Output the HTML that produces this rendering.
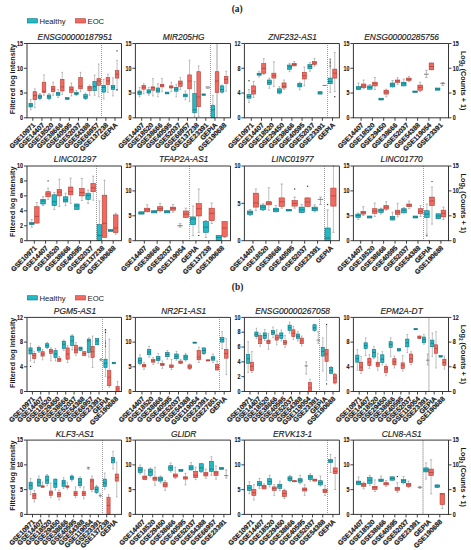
<!DOCTYPE html><html><head><meta charset="utf-8"><style>
html,body{margin:0;padding:0;background:#fff;overflow:hidden;width:471px;height:550px;}svg{display:block;}
text{font-family:"Liberation Sans",sans-serif;fill:#1a1a1a;}
.tk{font-size:6.3px;font-weight:bold;stroke:#1a1a1a;stroke-width:0.12px;}
.xl{font-size:6.8px;font-weight:bold;stroke:#1a1a1a;stroke-width:0.2px;}
.tt{font-size:8.35px;font-style:italic;stroke:#1a1a1a;stroke-width:0.15px;}
.ax{font-size:7.2px;font-weight:bold;}
.lg{font-size:7.7px;}
.pl{font-family:"Liberation Serif",serif;font-size:9.4px;font-weight:bold;}
</style></head><body>
<svg width="471" height="550" viewBox="0 0 471 550">
<rect width="471" height="550" fill="#fff"/>
<text x="237.2" y="11.5" class="pl" text-anchor="middle">(a)</text>
<text x="237.6" y="289.8" class="pl" text-anchor="middle">(b)</text>
<rect x="27.3" y="18.7" width="10.2" height="4.3" fill="#22b8c4" stroke="#107680" stroke-width="0.6"/>
<text x="39.5" y="23.6" class="lg">Healthy</text>
<rect x="75.4" y="18.7" width="10.2" height="4.3" fill="#f2695f" stroke="#b04038" stroke-width="0.6"/>
<text x="87.5" y="23.6" class="lg">EOC</text>
<rect x="27.3" y="295.7" width="10.2" height="4.3" fill="#22b8c4" stroke="#107680" stroke-width="0.6"/>
<text x="39.5" y="300.6" class="lg">Healthy</text>
<rect x="75.4" y="295.7" width="10.2" height="4.3" fill="#f2695f" stroke="#b04038" stroke-width="0.6"/>
<text x="87.5" y="300.6" class="lg">EOC</text>
<line x1="101.5" y1="43" x2="101.5" y2="117.8" stroke="#7a7a7a" stroke-width="0.75" stroke-dasharray="1,1"/>
<line x1="30.74" y1="99.7" x2="30.74" y2="109.9" stroke="#8c8c8c" stroke-width="0.55"/>
<line x1="29.84" y1="99.7" x2="31.65" y2="99.7" stroke="#8c8c8c" stroke-width="0.55"/>
<line x1="29.84" y1="109.9" x2="31.65" y2="109.9" stroke="#8c8c8c" stroke-width="0.55"/>
<rect x="28.94" y="103.3" width="3.61" height="3.7" fill="#22b8c4" stroke="#107680" stroke-width="0.6"/>
<line x1="28.94" y1="105.2" x2="32.55" y2="105.2" stroke="#0f5f66" stroke-width="0.6"/>
<line x1="34.85" y1="88.8" x2="34.85" y2="107.7" stroke="#8c8c8c" stroke-width="0.55"/>
<line x1="33.95" y1="88.8" x2="35.76" y2="88.8" stroke="#8c8c8c" stroke-width="0.55"/>
<line x1="33.95" y1="107.7" x2="35.76" y2="107.7" stroke="#8c8c8c" stroke-width="0.55"/>
<rect x="33.05" y="91.7" width="3.61" height="8" fill="#f2695f" stroke="#b04038" stroke-width="0.6"/>
<line x1="33.05" y1="95.6" x2="36.66" y2="95.6" stroke="#9a362f" stroke-width="0.6"/>
<line x1="39.88" y1="93.6" x2="39.88" y2="99.7" stroke="#8c8c8c" stroke-width="0.55"/>
<line x1="38.97" y1="93.6" x2="40.78" y2="93.6" stroke="#8c8c8c" stroke-width="0.55"/>
<line x1="38.97" y1="99.7" x2="40.78" y2="99.7" stroke="#8c8c8c" stroke-width="0.55"/>
<rect x="38.07" y="95" width="3.61" height="3.5" fill="#22b8c4" stroke="#107680" stroke-width="0.6"/>
<line x1="38.07" y1="96.8" x2="41.68" y2="96.8" stroke="#0f5f66" stroke-width="0.6"/>
<line x1="43.99" y1="74.9" x2="43.99" y2="95.3" stroke="#8c8c8c" stroke-width="0.55"/>
<line x1="43.08" y1="74.9" x2="44.89" y2="74.9" stroke="#8c8c8c" stroke-width="0.55"/>
<line x1="43.08" y1="95.3" x2="44.89" y2="95.3" stroke="#8c8c8c" stroke-width="0.55"/>
<rect x="42.18" y="82.2" width="3.61" height="10.2" fill="#f2695f" stroke="#b04038" stroke-width="0.6"/>
<line x1="42.18" y1="91.2" x2="45.79" y2="91.2" stroke="#9a362f" stroke-width="0.6"/>
<line x1="49.01" y1="93.6" x2="49.01" y2="99.7" stroke="#8c8c8c" stroke-width="0.55"/>
<line x1="48.11" y1="93.6" x2="49.92" y2="93.6" stroke="#8c8c8c" stroke-width="0.55"/>
<line x1="48.11" y1="99.7" x2="49.92" y2="99.7" stroke="#8c8c8c" stroke-width="0.55"/>
<rect x="47.21" y="95" width="3.61" height="3.5" fill="#22b8c4" stroke="#107680" stroke-width="0.6"/>
<line x1="47.21" y1="96.8" x2="50.82" y2="96.8" stroke="#0f5f66" stroke-width="0.6"/>
<line x1="53.12" y1="82.2" x2="53.12" y2="95.3" stroke="#8c8c8c" stroke-width="0.55"/>
<line x1="52.22" y1="82.2" x2="54.03" y2="82.2" stroke="#8c8c8c" stroke-width="0.55"/>
<line x1="52.22" y1="95.3" x2="54.03" y2="95.3" stroke="#8c8c8c" stroke-width="0.55"/>
<rect x="51.32" y="86.3" width="3.61" height="5.4" fill="#f2695f" stroke="#b04038" stroke-width="0.6"/>
<line x1="51.32" y1="89.2" x2="54.93" y2="89.2" stroke="#9a362f" stroke-width="0.6"/>
<line x1="58.14" y1="89.5" x2="58.14" y2="97.5" stroke="#8c8c8c" stroke-width="0.55"/>
<line x1="57.24" y1="89.5" x2="59.05" y2="89.5" stroke="#8c8c8c" stroke-width="0.55"/>
<line x1="57.24" y1="97.5" x2="59.05" y2="97.5" stroke="#8c8c8c" stroke-width="0.55"/>
<rect x="56.34" y="92.4" width="3.61" height="2.9" fill="#22b8c4" stroke="#107680" stroke-width="0.6"/>
<line x1="56.34" y1="93.9" x2="59.95" y2="93.9" stroke="#0f5f66" stroke-width="0.6"/>
<line x1="62.25" y1="72.3" x2="62.25" y2="94.6" stroke="#8c8c8c" stroke-width="0.55"/>
<line x1="61.35" y1="72.3" x2="63.16" y2="72.3" stroke="#8c8c8c" stroke-width="0.55"/>
<line x1="61.35" y1="94.6" x2="63.16" y2="94.6" stroke="#8c8c8c" stroke-width="0.55"/>
<rect x="60.45" y="79.3" width="3.61" height="11.7" fill="#f2695f" stroke="#b04038" stroke-width="0.6"/>
<line x1="60.45" y1="86.9" x2="64.06" y2="86.9" stroke="#9a362f" stroke-width="0.6"/>
<line x1="67.28" y1="97.5" x2="67.28" y2="99.4" stroke="#8c8c8c" stroke-width="0.55"/>
<rect x="65.47" y="97.5" width="3.61" height="1.9" fill="#22b8c4" stroke="#107680" stroke-width="0.6"/>
<line x1="65.47" y1="98.5" x2="69.08" y2="98.5" stroke="#0f5f66" stroke-width="0.6"/>
<line x1="71.39" y1="83" x2="71.39" y2="96" stroke="#8c8c8c" stroke-width="0.55"/>
<line x1="70.48" y1="83" x2="72.29" y2="83" stroke="#8c8c8c" stroke-width="0.55"/>
<line x1="70.48" y1="96" x2="72.29" y2="96" stroke="#8c8c8c" stroke-width="0.55"/>
<rect x="69.58" y="86.9" width="3.61" height="5.5" fill="#f2695f" stroke="#b04038" stroke-width="0.6"/>
<line x1="69.58" y1="89.5" x2="73.19" y2="89.5" stroke="#9a362f" stroke-width="0.6"/>
<line x1="76.41" y1="90.5" x2="76.41" y2="95.5" stroke="#8c8c8c" stroke-width="0.55"/>
<line x1="75.51" y1="90.5" x2="77.32" y2="90.5" stroke="#8c8c8c" stroke-width="0.55"/>
<line x1="75.51" y1="95.5" x2="77.32" y2="95.5" stroke="#8c8c8c" stroke-width="0.55"/>
<rect x="74.61" y="92.4" width="3.61" height="2.2" fill="#22b8c4" stroke="#107680" stroke-width="0.6"/>
<line x1="74.61" y1="93.5" x2="78.22" y2="93.5" stroke="#0f5f66" stroke-width="0.6"/>
<line x1="80.52" y1="72.3" x2="80.52" y2="91.7" stroke="#8c8c8c" stroke-width="0.55"/>
<line x1="79.62" y1="72.3" x2="81.43" y2="72.3" stroke="#8c8c8c" stroke-width="0.55"/>
<line x1="79.62" y1="91.7" x2="81.43" y2="91.7" stroke="#8c8c8c" stroke-width="0.55"/>
<rect x="78.72" y="77.6" width="3.61" height="11.2" fill="#f2695f" stroke="#b04038" stroke-width="0.6"/>
<line x1="78.72" y1="86.3" x2="82.33" y2="86.3" stroke="#9a362f" stroke-width="0.6"/>
<line x1="85.55" y1="93" x2="85.55" y2="99.5" stroke="#8c8c8c" stroke-width="0.55"/>
<line x1="84.64" y1="93" x2="86.45" y2="93" stroke="#8c8c8c" stroke-width="0.55"/>
<line x1="84.64" y1="99.5" x2="86.45" y2="99.5" stroke="#8c8c8c" stroke-width="0.55"/>
<rect x="83.74" y="94.6" width="3.61" height="3.9" fill="#22b8c4" stroke="#107680" stroke-width="0.6"/>
<line x1="83.74" y1="96.8" x2="87.35" y2="96.8" stroke="#0f5f66" stroke-width="0.6"/>
<line x1="89.66" y1="85" x2="89.66" y2="95.3" stroke="#8c8c8c" stroke-width="0.55"/>
<line x1="88.75" y1="85" x2="90.56" y2="85" stroke="#8c8c8c" stroke-width="0.55"/>
<line x1="88.75" y1="95.3" x2="90.56" y2="95.3" stroke="#8c8c8c" stroke-width="0.55"/>
<rect x="87.85" y="86.3" width="3.61" height="4.4" fill="#f2695f" stroke="#b04038" stroke-width="0.6"/>
<line x1="87.85" y1="88" x2="91.46" y2="88" stroke="#9a362f" stroke-width="0.6"/>
<line x1="94.68" y1="75" x2="94.68" y2="95.3" stroke="#8c8c8c" stroke-width="0.55"/>
<line x1="93.77" y1="75" x2="95.58" y2="75" stroke="#8c8c8c" stroke-width="0.55"/>
<line x1="93.77" y1="95.3" x2="95.58" y2="95.3" stroke="#8c8c8c" stroke-width="0.55"/>
<rect x="92.87" y="81.5" width="3.61" height="9.2" fill="#22b8c4" stroke="#107680" stroke-width="0.6"/>
<line x1="92.87" y1="86.6" x2="96.48" y2="86.6" stroke="#0f5f66" stroke-width="0.6"/>
<line x1="98.79" y1="64" x2="98.79" y2="96.8" stroke="#8c8c8c" stroke-width="0.55"/>
<line x1="97.88" y1="64" x2="99.69" y2="64" stroke="#8c8c8c" stroke-width="0.55"/>
<line x1="97.88" y1="96.8" x2="99.69" y2="96.8" stroke="#8c8c8c" stroke-width="0.55"/>
<rect x="96.98" y="78.6" width="3.61" height="6.8" fill="#f2695f" stroke="#b04038" stroke-width="0.6"/>
<line x1="96.98" y1="81" x2="100.59" y2="81" stroke="#9a362f" stroke-width="0.6"/>
<line x1="103.81" y1="79.3" x2="103.81" y2="99" stroke="#8c8c8c" stroke-width="0.55"/>
<line x1="102.91" y1="79.3" x2="104.72" y2="79.3" stroke="#8c8c8c" stroke-width="0.55"/>
<line x1="102.91" y1="99" x2="104.72" y2="99" stroke="#8c8c8c" stroke-width="0.55"/>
<rect x="102.01" y="85.4" width="3.61" height="6.7" fill="#22b8c4" stroke="#107680" stroke-width="0.6"/>
<line x1="102.01" y1="87.3" x2="105.62" y2="87.3" stroke="#0f5f66" stroke-width="0.6"/>
<line x1="107.92" y1="74.2" x2="107.92" y2="92.4" stroke="#8c8c8c" stroke-width="0.55"/>
<line x1="107.02" y1="74.2" x2="108.83" y2="74.2" stroke="#8c8c8c" stroke-width="0.55"/>
<line x1="107.02" y1="92.4" x2="108.83" y2="92.4" stroke="#8c8c8c" stroke-width="0.55"/>
<rect x="106.12" y="77.6" width="3.61" height="6.8" fill="#f2695f" stroke="#b04038" stroke-width="0.6"/>
<line x1="106.12" y1="81" x2="109.73" y2="81" stroke="#9a362f" stroke-width="0.6"/>
<line x1="112.94" y1="77.8" x2="112.94" y2="96" stroke="#8c8c8c" stroke-width="0.55"/>
<line x1="112.04" y1="77.8" x2="113.85" y2="77.8" stroke="#8c8c8c" stroke-width="0.55"/>
<line x1="112.04" y1="96" x2="113.85" y2="96" stroke="#8c8c8c" stroke-width="0.55"/>
<rect x="111.14" y="85.4" width="3.61" height="4.1" fill="#22b8c4" stroke="#107680" stroke-width="0.6"/>
<line x1="111.14" y1="87.3" x2="114.75" y2="87.3" stroke="#0f5f66" stroke-width="0.6"/>
<line x1="117.05" y1="60.4" x2="117.05" y2="90.2" stroke="#8c8c8c" stroke-width="0.55"/>
<line x1="116.15" y1="60.4" x2="117.96" y2="60.4" stroke="#8c8c8c" stroke-width="0.55"/>
<line x1="116.15" y1="90.2" x2="117.96" y2="90.2" stroke="#8c8c8c" stroke-width="0.55"/>
<rect x="115.25" y="70.6" width="3.61" height="7.5" fill="#f2695f" stroke="#b04038" stroke-width="0.6"/>
<line x1="115.25" y1="74.2" x2="118.86" y2="74.2" stroke="#9a362f" stroke-width="0.6"/>
<circle cx="117.05" cy="50.9" r="0.7" fill="#333"/>
<circle cx="117.05" cy="89.7" r="0.7" fill="#333"/>
<path d="M27,117.8 V43.5 H121.5 V117.8 M26.5,117.8 H122" fill="none" stroke="#2b2b2b" stroke-width="0.95"/>
<line x1="24" y1="43.5" x2="27" y2="43.5" stroke="#2b2b2b" stroke-width="0.9"/>
<text transform="translate(23,45.75) scale(0.85,1)" class="tk" text-anchor="end">15</text>
<line x1="24" y1="68.27" x2="27" y2="68.27" stroke="#2b2b2b" stroke-width="0.9"/>
<text transform="translate(23,70.52) scale(0.85,1)" class="tk" text-anchor="end">10</text>
<line x1="24" y1="93.03" x2="27" y2="93.03" stroke="#2b2b2b" stroke-width="0.9"/>
<text transform="translate(23,95.28) scale(0.85,1)" class="tk" text-anchor="end">5</text>
<line x1="24" y1="117.8" x2="27" y2="117.8" stroke="#2b2b2b" stroke-width="0.9"/>
<text transform="translate(23,120.05) scale(0.85,1)" class="tk" text-anchor="end">0</text>
<text transform="translate(14.7,79.05) rotate(-90)" class="ax" text-anchor="middle">Filtered log intensity</text>
<line x1="32.8" y1="117.8" x2="32.8" y2="120.8" stroke="#2b2b2b" stroke-width="0.9"/>
<text transform="translate(35.7,125.6) rotate(-45)" class="xl" text-anchor="end">GSE10971</text>
<line x1="41.93" y1="117.8" x2="41.93" y2="120.8" stroke="#2b2b2b" stroke-width="0.9"/>
<text transform="translate(44.83,125.6) rotate(-45)" class="xl" text-anchor="end">GSE14407</text>
<line x1="51.07" y1="117.8" x2="51.07" y2="120.8" stroke="#2b2b2b" stroke-width="0.9"/>
<text transform="translate(53.97,125.6) rotate(-45)" class="xl" text-anchor="end">GSE18520</text>
<line x1="60.2" y1="117.8" x2="60.2" y2="120.8" stroke="#2b2b2b" stroke-width="0.9"/>
<text transform="translate(63.1,125.6) rotate(-45)" class="xl" text-anchor="end">GSE38666</text>
<line x1="69.33" y1="117.8" x2="69.33" y2="120.8" stroke="#2b2b2b" stroke-width="0.9"/>
<text transform="translate(72.23,125.6) rotate(-45)" class="xl" text-anchor="end">GSE40595</text>
<line x1="78.47" y1="117.8" x2="78.47" y2="120.8" stroke="#2b2b2b" stroke-width="0.9"/>
<text transform="translate(81.37,125.6) rotate(-45)" class="xl" text-anchor="end">GSE52037</text>
<line x1="87.6" y1="117.8" x2="87.6" y2="120.8" stroke="#2b2b2b" stroke-width="0.9"/>
<text transform="translate(90.5,125.6) rotate(-45)" class="xl" text-anchor="end">GSE54388</text>
<line x1="96.73" y1="117.8" x2="96.73" y2="120.8" stroke="#2b2b2b" stroke-width="0.9"/>
<text transform="translate(99.63,125.6) rotate(-45)" class="xl" text-anchor="end">GSE66957</text>
<line x1="105.87" y1="117.8" x2="105.87" y2="120.8" stroke="#2b2b2b" stroke-width="0.9"/>
<text transform="translate(108.77,125.6) rotate(-45)" class="xl" text-anchor="end">GSE137238</text>
<line x1="115" y1="117.8" x2="115" y2="120.8" stroke="#2b2b2b" stroke-width="0.9"/>
<text transform="translate(117.9,125.6) rotate(-45)" class="xl" text-anchor="end">GEPIA</text>
<text x="74.95" y="39.9" class="tt" text-anchor="middle">ENSG00000187951</text>
<line x1="210.5" y1="43" x2="210.5" y2="117.8" stroke="#7a7a7a" stroke-width="0.75" stroke-dasharray="1,1"/>
<line x1="139.64" y1="87.3" x2="139.64" y2="97" stroke="#8c8c8c" stroke-width="0.55"/>
<line x1="138.73" y1="87.3" x2="140.55" y2="87.3" stroke="#8c8c8c" stroke-width="0.55"/>
<line x1="138.73" y1="97" x2="140.55" y2="97" stroke="#8c8c8c" stroke-width="0.55"/>
<rect x="137.83" y="91" width="3.62" height="3.6" fill="#22b8c4" stroke="#107680" stroke-width="0.6"/>
<line x1="137.83" y1="92.7" x2="141.45" y2="92.7" stroke="#0f5f66" stroke-width="0.6"/>
<line x1="143.76" y1="83.7" x2="143.76" y2="93.9" stroke="#8c8c8c" stroke-width="0.55"/>
<line x1="142.85" y1="83.7" x2="144.67" y2="83.7" stroke="#8c8c8c" stroke-width="0.55"/>
<line x1="142.85" y1="93.9" x2="144.67" y2="93.9" stroke="#8c8c8c" stroke-width="0.55"/>
<rect x="141.95" y="85.4" width="3.62" height="3.8" fill="#f2695f" stroke="#b04038" stroke-width="0.6"/>
<line x1="141.95" y1="87.3" x2="145.57" y2="87.3" stroke="#9a362f" stroke-width="0.6"/>
<line x1="148.8" y1="87.3" x2="148.8" y2="95.3" stroke="#8c8c8c" stroke-width="0.55"/>
<line x1="147.89" y1="87.3" x2="149.7" y2="87.3" stroke="#8c8c8c" stroke-width="0.55"/>
<line x1="147.89" y1="95.3" x2="149.7" y2="95.3" stroke="#8c8c8c" stroke-width="0.55"/>
<rect x="146.99" y="89.8" width="3.62" height="3.3" fill="#22b8c4" stroke="#107680" stroke-width="0.6"/>
<line x1="146.99" y1="91.7" x2="150.61" y2="91.7" stroke="#0f5f66" stroke-width="0.6"/>
<line x1="152.92" y1="78.6" x2="152.92" y2="96" stroke="#8c8c8c" stroke-width="0.55"/>
<line x1="152.01" y1="78.6" x2="153.82" y2="78.6" stroke="#8c8c8c" stroke-width="0.55"/>
<line x1="152.01" y1="96" x2="153.82" y2="96" stroke="#8c8c8c" stroke-width="0.55"/>
<rect x="151.11" y="86.9" width="3.62" height="3.3" fill="#f2695f" stroke="#b04038" stroke-width="0.6"/>
<line x1="151.11" y1="87.7" x2="154.73" y2="87.7" stroke="#9a362f" stroke-width="0.6"/>
<line x1="157.95" y1="83.7" x2="157.95" y2="96.8" stroke="#8c8c8c" stroke-width="0.55"/>
<line x1="157.04" y1="83.7" x2="158.86" y2="83.7" stroke="#8c8c8c" stroke-width="0.55"/>
<line x1="157.04" y1="96.8" x2="158.86" y2="96.8" stroke="#8c8c8c" stroke-width="0.55"/>
<rect x="156.14" y="88" width="3.62" height="4.1" fill="#22b8c4" stroke="#107680" stroke-width="0.6"/>
<line x1="156.14" y1="90.2" x2="159.76" y2="90.2" stroke="#0f5f66" stroke-width="0.6"/>
<line x1="162.07" y1="78.6" x2="162.07" y2="91.7" stroke="#8c8c8c" stroke-width="0.55"/>
<line x1="161.16" y1="78.6" x2="162.98" y2="78.6" stroke="#8c8c8c" stroke-width="0.55"/>
<line x1="161.16" y1="91.7" x2="162.98" y2="91.7" stroke="#8c8c8c" stroke-width="0.55"/>
<rect x="160.26" y="84.4" width="3.62" height="2.5" fill="#f2695f" stroke="#b04038" stroke-width="0.6"/>
<line x1="160.26" y1="85.4" x2="163.88" y2="85.4" stroke="#9a362f" stroke-width="0.6"/>
<line x1="167.11" y1="92.1" x2="167.11" y2="93.9" stroke="#8c8c8c" stroke-width="0.55"/>
<rect x="165.3" y="92.1" width="3.62" height="1.8" fill="#22b8c4" stroke="#107680" stroke-width="0.6"/>
<line x1="165.3" y1="93" x2="168.92" y2="93" stroke="#0f5f66" stroke-width="0.6"/>
<line x1="171.23" y1="82.2" x2="171.23" y2="91.7" stroke="#8c8c8c" stroke-width="0.55"/>
<line x1="170.32" y1="82.2" x2="172.13" y2="82.2" stroke="#8c8c8c" stroke-width="0.55"/>
<line x1="170.32" y1="91.7" x2="172.13" y2="91.7" stroke="#8c8c8c" stroke-width="0.55"/>
<rect x="169.42" y="85.9" width="3.62" height="2.1" fill="#f2695f" stroke="#b04038" stroke-width="0.6"/>
<line x1="169.42" y1="86.9" x2="173.04" y2="86.9" stroke="#9a362f" stroke-width="0.6"/>
<line x1="176.26" y1="84.4" x2="176.26" y2="96.8" stroke="#8c8c8c" stroke-width="0.55"/>
<line x1="175.36" y1="84.4" x2="177.17" y2="84.4" stroke="#8c8c8c" stroke-width="0.55"/>
<line x1="175.36" y1="96.8" x2="177.17" y2="96.8" stroke="#8c8c8c" stroke-width="0.55"/>
<rect x="174.45" y="87.3" width="3.62" height="3.9" fill="#22b8c4" stroke="#107680" stroke-width="0.6"/>
<line x1="174.45" y1="89.2" x2="178.07" y2="89.2" stroke="#0f5f66" stroke-width="0.6"/>
<line x1="180.38" y1="77.6" x2="180.38" y2="89.5" stroke="#8c8c8c" stroke-width="0.55"/>
<line x1="179.48" y1="77.6" x2="181.29" y2="77.6" stroke="#8c8c8c" stroke-width="0.55"/>
<line x1="179.48" y1="89.5" x2="181.29" y2="89.5" stroke="#8c8c8c" stroke-width="0.55"/>
<rect x="178.57" y="81" width="3.62" height="5.3" fill="#f2695f" stroke="#b04038" stroke-width="0.6"/>
<line x1="178.57" y1="83.4" x2="182.19" y2="83.4" stroke="#9a362f" stroke-width="0.6"/>
<line x1="185.42" y1="91" x2="185.42" y2="99.7" stroke="#8c8c8c" stroke-width="0.55"/>
<line x1="184.51" y1="91" x2="186.32" y2="91" stroke="#8c8c8c" stroke-width="0.55"/>
<line x1="184.51" y1="99.7" x2="186.32" y2="99.7" stroke="#8c8c8c" stroke-width="0.55"/>
<rect x="183.61" y="94.1" width="3.62" height="2.7" fill="#22b8c4" stroke="#107680" stroke-width="0.6"/>
<line x1="183.61" y1="95.3" x2="187.23" y2="95.3" stroke="#0f5f66" stroke-width="0.6"/>
<line x1="189.54" y1="60.1" x2="189.54" y2="101.4" stroke="#8c8c8c" stroke-width="0.55"/>
<line x1="188.63" y1="60.1" x2="190.44" y2="60.1" stroke="#8c8c8c" stroke-width="0.55"/>
<line x1="188.63" y1="101.4" x2="190.44" y2="101.4" stroke="#8c8c8c" stroke-width="0.55"/>
<rect x="187.73" y="74.9" width="3.62" height="13.9" fill="#f2695f" stroke="#b04038" stroke-width="0.6"/>
<line x1="187.73" y1="81" x2="191.35" y2="81" stroke="#9a362f" stroke-width="0.6"/>
<line x1="194.57" y1="81.5" x2="194.57" y2="116.4" stroke="#8c8c8c" stroke-width="0.55"/>
<line x1="193.67" y1="81.5" x2="195.48" y2="81.5" stroke="#8c8c8c" stroke-width="0.55"/>
<line x1="193.67" y1="116.4" x2="195.48" y2="116.4" stroke="#8c8c8c" stroke-width="0.55"/>
<rect x="192.76" y="93.6" width="3.62" height="19.2" fill="#22b8c4" stroke="#107680" stroke-width="0.6"/>
<line x1="192.76" y1="109.9" x2="196.38" y2="109.9" stroke="#0f5f66" stroke-width="0.6"/>
<line x1="198.69" y1="65.9" x2="198.69" y2="116.4" stroke="#8c8c8c" stroke-width="0.55"/>
<line x1="197.79" y1="65.9" x2="199.6" y2="65.9" stroke="#8c8c8c" stroke-width="0.55"/>
<line x1="197.79" y1="116.4" x2="199.6" y2="116.4" stroke="#8c8c8c" stroke-width="0.55"/>
<rect x="196.88" y="71.7" width="3.62" height="35" fill="#f2695f" stroke="#b04038" stroke-width="0.6"/>
<line x1="196.88" y1="97" x2="200.5" y2="97" stroke="#9a362f" stroke-width="0.6"/>
<line x1="203.73" y1="93.9" x2="203.73" y2="95.3" stroke="#8c8c8c" stroke-width="0.55"/>
<rect x="201.92" y="93.9" width="3.62" height="1.4" fill="#22b8c4" stroke="#107680" stroke-width="0.6"/>
<line x1="201.92" y1="94.6" x2="205.54" y2="94.6" stroke="#0f5f66" stroke-width="0.6"/>
<line x1="207.85" y1="86" x2="207.85" y2="89" stroke="#8c8c8c" stroke-width="0.55"/>
<rect x="206.04" y="86.6" width="3.62" height="1.7" fill="#f4f4f4" stroke="#888" stroke-width="0.5"/>
<line x1="206.04" y1="87.5" x2="209.66" y2="87.5" stroke="#777" stroke-width="0.5"/>
<line x1="212.88" y1="95.3" x2="212.88" y2="117.8" stroke="#8c8c8c" stroke-width="0.55"/>
<line x1="211.98" y1="95.3" x2="213.79" y2="95.3" stroke="#8c8c8c" stroke-width="0.55"/>
<rect x="211.07" y="105.2" width="3.62" height="12.6" fill="#22b8c4" stroke="#107680" stroke-width="0.6"/>
<line x1="211.07" y1="109.9" x2="214.69" y2="109.9" stroke="#0f5f66" stroke-width="0.6"/>
<rect x="216.2" y="43.5" width="1.6" height="74.3" fill="#c4c4c4"/>
<rect x="215.19" y="71.7" width="3.62" height="20.7" fill="#f2695f" stroke="#b04038" stroke-width="0.6"/>
<line x1="215.19" y1="81" x2="218.81" y2="81" stroke="#9a362f" stroke-width="0.6"/>
<line x1="222.04" y1="85" x2="222.04" y2="93" stroke="#8c8c8c" stroke-width="0.55"/>
<line x1="221.13" y1="85" x2="222.95" y2="85" stroke="#8c8c8c" stroke-width="0.55"/>
<line x1="221.13" y1="93" x2="222.95" y2="93" stroke="#8c8c8c" stroke-width="0.55"/>
<rect x="220.23" y="85.9" width="3.62" height="6.2" fill="#22b8c4" stroke="#107680" stroke-width="0.6"/>
<line x1="220.23" y1="89.5" x2="223.85" y2="89.5" stroke="#0f5f66" stroke-width="0.6"/>
<line x1="226.16" y1="71.3" x2="226.16" y2="91.2" stroke="#8c8c8c" stroke-width="0.55"/>
<line x1="225.25" y1="71.3" x2="227.07" y2="71.3" stroke="#8c8c8c" stroke-width="0.55"/>
<line x1="225.25" y1="91.2" x2="227.07" y2="91.2" stroke="#8c8c8c" stroke-width="0.55"/>
<rect x="224.35" y="76.4" width="3.62" height="7" fill="#f2695f" stroke="#b04038" stroke-width="0.6"/>
<line x1="224.35" y1="79.3" x2="227.97" y2="79.3" stroke="#9a362f" stroke-width="0.6"/>
<path d="M135.4,117.8 V43.5 H230.5 V117.8 M134.9,117.8 H231" fill="none" stroke="#2b2b2b" stroke-width="0.95"/>
<line x1="132.4" y1="43.5" x2="135.4" y2="43.5" stroke="#2b2b2b" stroke-width="0.9"/>
<text transform="translate(131.4,45.75) scale(0.85,1)" class="tk" text-anchor="end">15</text>
<line x1="132.4" y1="68.27" x2="135.4" y2="68.27" stroke="#2b2b2b" stroke-width="0.9"/>
<text transform="translate(131.4,70.52) scale(0.85,1)" class="tk" text-anchor="end">10</text>
<line x1="132.4" y1="93.03" x2="135.4" y2="93.03" stroke="#2b2b2b" stroke-width="0.9"/>
<text transform="translate(131.4,95.28) scale(0.85,1)" class="tk" text-anchor="end">5</text>
<line x1="132.4" y1="117.8" x2="135.4" y2="117.8" stroke="#2b2b2b" stroke-width="0.9"/>
<text transform="translate(131.4,120.05) scale(0.85,1)" class="tk" text-anchor="end">0</text>
<line x1="141.7" y1="117.8" x2="141.7" y2="120.8" stroke="#2b2b2b" stroke-width="0.9"/>
<text transform="translate(144.6,125.6) rotate(-45)" class="xl" text-anchor="end">GSE14407</text>
<line x1="150.86" y1="117.8" x2="150.86" y2="120.8" stroke="#2b2b2b" stroke-width="0.9"/>
<text transform="translate(153.76,125.6) rotate(-45)" class="xl" text-anchor="end">GSE18520</text>
<line x1="160.01" y1="117.8" x2="160.01" y2="120.8" stroke="#2b2b2b" stroke-width="0.9"/>
<text transform="translate(162.91,125.6) rotate(-45)" class="xl" text-anchor="end">GSE38666</text>
<line x1="169.17" y1="117.8" x2="169.17" y2="120.8" stroke="#2b2b2b" stroke-width="0.9"/>
<text transform="translate(172.07,125.6) rotate(-45)" class="xl" text-anchor="end">GSE40595</text>
<line x1="178.32" y1="117.8" x2="178.32" y2="120.8" stroke="#2b2b2b" stroke-width="0.9"/>
<text transform="translate(181.22,125.6) rotate(-45)" class="xl" text-anchor="end">GSE52037</text>
<line x1="187.48" y1="117.8" x2="187.48" y2="120.8" stroke="#2b2b2b" stroke-width="0.9"/>
<text transform="translate(190.38,125.6) rotate(-45)" class="xl" text-anchor="end">GSE66957</text>
<line x1="196.63" y1="117.8" x2="196.63" y2="120.8" stroke="#2b2b2b" stroke-width="0.9"/>
<text transform="translate(199.53,125.6) rotate(-45)" class="xl" text-anchor="end">GSE137238</text>
<line x1="205.79" y1="117.8" x2="205.79" y2="120.8" stroke="#2b2b2b" stroke-width="0.9"/>
<text transform="translate(208.69,125.6) rotate(-45)" class="xl" text-anchor="end">GSE23391</text>
<line x1="214.94" y1="117.8" x2="214.94" y2="120.8" stroke="#2b2b2b" stroke-width="0.9"/>
<text transform="translate(217.84,125.6) rotate(-45)" class="xl" text-anchor="end">GEPIA</text>
<line x1="224.1" y1="117.8" x2="224.1" y2="120.8" stroke="#2b2b2b" stroke-width="0.9"/>
<text transform="translate(227,125.6) rotate(-45)" class="xl" text-anchor="end">GSE190688</text>
<text x="183.65" y="39.9" class="tt" text-anchor="middle">MIR205HG</text>
<line x1="327.5" y1="43" x2="327.5" y2="117.8" stroke="#7a7a7a" stroke-width="0.75" stroke-dasharray="1,1"/>
<line x1="249.02" y1="89.5" x2="249.02" y2="102.6" stroke="#8c8c8c" stroke-width="0.55"/>
<line x1="248.01" y1="89.5" x2="250.02" y2="89.5" stroke="#8c8c8c" stroke-width="0.55"/>
<line x1="248.01" y1="102.6" x2="250.02" y2="102.6" stroke="#8c8c8c" stroke-width="0.55"/>
<rect x="246.98" y="94.6" width="4.07" height="3.6" fill="#22b8c4" stroke="#107680" stroke-width="0.6"/>
<line x1="246.98" y1="96.5" x2="251.05" y2="96.5" stroke="#0f5f66" stroke-width="0.6"/>
<line x1="253.58" y1="81.5" x2="253.58" y2="97.5" stroke="#8c8c8c" stroke-width="0.55"/>
<line x1="252.58" y1="81.5" x2="254.59" y2="81.5" stroke="#8c8c8c" stroke-width="0.55"/>
<line x1="252.58" y1="97.5" x2="254.59" y2="97.5" stroke="#8c8c8c" stroke-width="0.55"/>
<rect x="251.55" y="85.9" width="4.07" height="8.2" fill="#f2695f" stroke="#b04038" stroke-width="0.6"/>
<line x1="251.55" y1="91.2" x2="255.62" y2="91.2" stroke="#9a362f" stroke-width="0.6"/>
<line x1="259.17" y1="71.3" x2="259.17" y2="77.1" stroke="#8c8c8c" stroke-width="0.55"/>
<line x1="258.16" y1="71.3" x2="260.17" y2="71.3" stroke="#8c8c8c" stroke-width="0.55"/>
<line x1="258.16" y1="77.1" x2="260.17" y2="77.1" stroke="#8c8c8c" stroke-width="0.55"/>
<rect x="257.13" y="73.2" width="4.07" height="2" fill="#22b8c4" stroke="#107680" stroke-width="0.6"/>
<line x1="257.13" y1="74.2" x2="261.2" y2="74.2" stroke="#0f5f66" stroke-width="0.6"/>
<line x1="263.73" y1="58.6" x2="263.73" y2="74.6" stroke="#8c8c8c" stroke-width="0.55"/>
<line x1="262.73" y1="58.6" x2="264.74" y2="58.6" stroke="#8c8c8c" stroke-width="0.55"/>
<line x1="262.73" y1="74.6" x2="264.74" y2="74.6" stroke="#8c8c8c" stroke-width="0.55"/>
<rect x="261.7" y="63.6" width="4.07" height="9.6" fill="#f2695f" stroke="#b04038" stroke-width="0.6"/>
<line x1="261.7" y1="68.4" x2="265.77" y2="68.4" stroke="#9a362f" stroke-width="0.6"/>
<line x1="269.32" y1="78.1" x2="269.32" y2="88.3" stroke="#8c8c8c" stroke-width="0.55"/>
<line x1="268.31" y1="78.1" x2="270.32" y2="78.1" stroke="#8c8c8c" stroke-width="0.55"/>
<line x1="268.31" y1="88.3" x2="270.32" y2="88.3" stroke="#8c8c8c" stroke-width="0.55"/>
<rect x="267.28" y="80" width="4.07" height="4.4" fill="#22b8c4" stroke="#107680" stroke-width="0.6"/>
<line x1="267.28" y1="82.5" x2="271.35" y2="82.5" stroke="#0f5f66" stroke-width="0.6"/>
<line x1="273.88" y1="61.8" x2="273.88" y2="86.6" stroke="#8c8c8c" stroke-width="0.55"/>
<line x1="272.88" y1="61.8" x2="274.89" y2="61.8" stroke="#8c8c8c" stroke-width="0.55"/>
<line x1="272.88" y1="86.6" x2="274.89" y2="86.6" stroke="#8c8c8c" stroke-width="0.55"/>
<rect x="271.85" y="73.2" width="4.07" height="4.9" fill="#f2695f" stroke="#b04038" stroke-width="0.6"/>
<line x1="271.85" y1="75.7" x2="275.92" y2="75.7" stroke="#9a362f" stroke-width="0.6"/>
<line x1="279.47" y1="86.6" x2="279.47" y2="93.9" stroke="#8c8c8c" stroke-width="0.55"/>
<line x1="278.46" y1="86.6" x2="280.47" y2="86.6" stroke="#8c8c8c" stroke-width="0.55"/>
<line x1="278.46" y1="93.9" x2="280.47" y2="93.9" stroke="#8c8c8c" stroke-width="0.55"/>
<rect x="277.43" y="88.8" width="4.07" height="4.3" fill="#22b8c4" stroke="#107680" stroke-width="0.6"/>
<line x1="277.43" y1="91.2" x2="281.5" y2="91.2" stroke="#0f5f66" stroke-width="0.6"/>
<line x1="284.03" y1="80" x2="284.03" y2="89.5" stroke="#8c8c8c" stroke-width="0.55"/>
<line x1="283.03" y1="80" x2="285.04" y2="80" stroke="#8c8c8c" stroke-width="0.55"/>
<line x1="283.03" y1="89.5" x2="285.04" y2="89.5" stroke="#8c8c8c" stroke-width="0.55"/>
<rect x="282" y="82.9" width="4.07" height="5.1" fill="#f2695f" stroke="#b04038" stroke-width="0.6"/>
<line x1="282" y1="86.3" x2="286.07" y2="86.3" stroke="#9a362f" stroke-width="0.6"/>
<line x1="289.62" y1="63.3" x2="289.62" y2="71.7" stroke="#8c8c8c" stroke-width="0.55"/>
<line x1="288.61" y1="63.3" x2="290.62" y2="63.3" stroke="#8c8c8c" stroke-width="0.55"/>
<line x1="288.61" y1="71.7" x2="290.62" y2="71.7" stroke="#8c8c8c" stroke-width="0.55"/>
<rect x="287.58" y="65" width="4.07" height="4.4" fill="#22b8c4" stroke="#107680" stroke-width="0.6"/>
<line x1="287.58" y1="66.9" x2="291.65" y2="66.9" stroke="#0f5f66" stroke-width="0.6"/>
<line x1="294.18" y1="61.5" x2="294.18" y2="66.5" stroke="#8c8c8c" stroke-width="0.55"/>
<line x1="293.18" y1="61.5" x2="295.19" y2="61.5" stroke="#8c8c8c" stroke-width="0.55"/>
<rect x="292.15" y="63.3" width="4.07" height="2.6" fill="#f2695f" stroke="#b04038" stroke-width="0.6"/>
<line x1="292.15" y1="64.5" x2="296.22" y2="64.5" stroke="#9a362f" stroke-width="0.6"/>
<line x1="299.77" y1="82.2" x2="299.77" y2="89.8" stroke="#8c8c8c" stroke-width="0.55"/>
<line x1="298.76" y1="82.2" x2="300.77" y2="82.2" stroke="#8c8c8c" stroke-width="0.55"/>
<line x1="298.76" y1="89.8" x2="300.77" y2="89.8" stroke="#8c8c8c" stroke-width="0.55"/>
<rect x="297.73" y="83.4" width="4.07" height="3.5" fill="#22b8c4" stroke="#107680" stroke-width="0.6"/>
<line x1="297.73" y1="85.1" x2="301.8" y2="85.1" stroke="#0f5f66" stroke-width="0.6"/>
<line x1="304.33" y1="66.9" x2="304.33" y2="85.9" stroke="#8c8c8c" stroke-width="0.55"/>
<line x1="303.33" y1="66.9" x2="305.34" y2="66.9" stroke="#8c8c8c" stroke-width="0.55"/>
<line x1="303.33" y1="85.9" x2="305.34" y2="85.9" stroke="#8c8c8c" stroke-width="0.55"/>
<rect x="302.3" y="72.3" width="4.07" height="6.7" fill="#f2695f" stroke="#b04038" stroke-width="0.6"/>
<line x1="302.3" y1="75.7" x2="306.37" y2="75.7" stroke="#9a362f" stroke-width="0.6"/>
<line x1="309.92" y1="62.6" x2="309.92" y2="71.3" stroke="#8c8c8c" stroke-width="0.55"/>
<line x1="308.91" y1="62.6" x2="310.92" y2="62.6" stroke="#8c8c8c" stroke-width="0.55"/>
<line x1="308.91" y1="71.3" x2="310.92" y2="71.3" stroke="#8c8c8c" stroke-width="0.55"/>
<rect x="307.88" y="64.5" width="4.07" height="4.3" fill="#22b8c4" stroke="#107680" stroke-width="0.6"/>
<line x1="307.88" y1="66.5" x2="311.95" y2="66.5" stroke="#0f5f66" stroke-width="0.6"/>
<line x1="314.48" y1="58.6" x2="314.48" y2="66.2" stroke="#8c8c8c" stroke-width="0.55"/>
<line x1="313.48" y1="58.6" x2="315.49" y2="58.6" stroke="#8c8c8c" stroke-width="0.55"/>
<line x1="313.48" y1="66.2" x2="315.49" y2="66.2" stroke="#8c8c8c" stroke-width="0.55"/>
<rect x="312.45" y="61.5" width="4.07" height="3" fill="#f2695f" stroke="#b04038" stroke-width="0.6"/>
<line x1="312.45" y1="63" x2="316.52" y2="63" stroke="#9a362f" stroke-width="0.6"/>
<line x1="320.07" y1="91.5" x2="320.07" y2="94.3" stroke="#8c8c8c" stroke-width="0.55"/>
<rect x="318.03" y="91.7" width="4.07" height="2.4" fill="#22b8c4" stroke="#107680" stroke-width="0.6"/>
<line x1="318.03" y1="92.9" x2="322.1" y2="92.9" stroke="#0f5f66" stroke-width="0.6"/>
<line x1="322.65" y1="85.4" x2="326.62" y2="85.4" stroke="#555" stroke-width="0.8"/>
<line x1="330.22" y1="58.9" x2="330.22" y2="92.4" stroke="#8c8c8c" stroke-width="0.55"/>
<line x1="329.21" y1="58.9" x2="331.22" y2="58.9" stroke="#8c8c8c" stroke-width="0.55"/>
<line x1="329.21" y1="92.4" x2="331.22" y2="92.4" stroke="#8c8c8c" stroke-width="0.55"/>
<rect x="328.18" y="78.1" width="4.07" height="5.6" fill="#22b8c4" stroke="#107680" stroke-width="0.6"/>
<line x1="328.18" y1="81.5" x2="332.25" y2="81.5" stroke="#0f5f66" stroke-width="0.6"/>
<line x1="334.78" y1="52.4" x2="334.78" y2="91.7" stroke="#8c8c8c" stroke-width="0.55"/>
<line x1="333.78" y1="52.4" x2="335.79" y2="52.4" stroke="#8c8c8c" stroke-width="0.55"/>
<line x1="333.78" y1="91.7" x2="335.79" y2="91.7" stroke="#8c8c8c" stroke-width="0.55"/>
<rect x="332.75" y="69.1" width="4.07" height="9" fill="#f2695f" stroke="#b04038" stroke-width="0.6"/>
<line x1="332.75" y1="73.2" x2="336.82" y2="73.2" stroke="#9a362f" stroke-width="0.6"/>
<line x1="330.22" y1="59.3" x2="330.22" y2="68.3" stroke="#555" stroke-width="1.1" stroke-dasharray="0.8,0.6"/>
<circle cx="249.02" cy="80.8" r="0.7" fill="#333"/>
<circle cx="334.78" cy="96.8" r="0.7" fill="#333"/>
<path d="M244.4,117.8 V43.5 H339.4 V117.8 M243.9,117.8 H339.9" fill="none" stroke="#2b2b2b" stroke-width="0.95"/>
<line x1="241.4" y1="43.5" x2="244.4" y2="43.5" stroke="#2b2b2b" stroke-width="0.9"/>
<text transform="translate(240.4,45.75) scale(0.85,1)" class="tk" text-anchor="end">12</text>
<line x1="241.4" y1="68.27" x2="244.4" y2="68.27" stroke="#2b2b2b" stroke-width="0.9"/>
<text transform="translate(240.4,70.52) scale(0.85,1)" class="tk" text-anchor="end">8</text>
<line x1="241.4" y1="93.03" x2="244.4" y2="93.03" stroke="#2b2b2b" stroke-width="0.9"/>
<text transform="translate(240.4,95.28) scale(0.85,1)" class="tk" text-anchor="end">4</text>
<line x1="241.4" y1="117.8" x2="244.4" y2="117.8" stroke="#2b2b2b" stroke-width="0.9"/>
<text transform="translate(240.4,120.05) scale(0.85,1)" class="tk" text-anchor="end">0</text>
<line x1="251.3" y1="117.8" x2="251.3" y2="120.8" stroke="#2b2b2b" stroke-width="0.9"/>
<text transform="translate(254.2,125.6) rotate(-45)" class="xl" text-anchor="end">GSE10971</text>
<line x1="261.45" y1="117.8" x2="261.45" y2="120.8" stroke="#2b2b2b" stroke-width="0.9"/>
<text transform="translate(264.35,125.6) rotate(-45)" class="xl" text-anchor="end">GSE14407</text>
<line x1="271.6" y1="117.8" x2="271.6" y2="120.8" stroke="#2b2b2b" stroke-width="0.9"/>
<text transform="translate(274.5,125.6) rotate(-45)" class="xl" text-anchor="end">GSE18520</text>
<line x1="281.75" y1="117.8" x2="281.75" y2="120.8" stroke="#2b2b2b" stroke-width="0.9"/>
<text transform="translate(284.65,125.6) rotate(-45)" class="xl" text-anchor="end">GSE29450</text>
<line x1="291.9" y1="117.8" x2="291.9" y2="120.8" stroke="#2b2b2b" stroke-width="0.9"/>
<text transform="translate(294.8,125.6) rotate(-45)" class="xl" text-anchor="end">GSE38666</text>
<line x1="302.05" y1="117.8" x2="302.05" y2="120.8" stroke="#2b2b2b" stroke-width="0.9"/>
<text transform="translate(304.95,125.6) rotate(-45)" class="xl" text-anchor="end">GSE40595</text>
<line x1="312.2" y1="117.8" x2="312.2" y2="120.8" stroke="#2b2b2b" stroke-width="0.9"/>
<text transform="translate(315.1,125.6) rotate(-45)" class="xl" text-anchor="end">GSE52037</text>
<line x1="322.35" y1="117.8" x2="322.35" y2="120.8" stroke="#2b2b2b" stroke-width="0.9"/>
<text transform="translate(325.25,125.6) rotate(-45)" class="xl" text-anchor="end">GSE23391</text>
<line x1="332.5" y1="117.8" x2="332.5" y2="120.8" stroke="#2b2b2b" stroke-width="0.9"/>
<text transform="translate(335.4,125.6) rotate(-45)" class="xl" text-anchor="end">GEPIA</text>
<text x="292.6" y="39.9" class="tt" text-anchor="middle">ZNF232-AS1</text>
<line x1="358.56" y1="83" x2="358.56" y2="90.2" stroke="#8c8c8c" stroke-width="0.55"/>
<line x1="357.44" y1="83" x2="359.68" y2="83" stroke="#8c8c8c" stroke-width="0.55"/>
<rect x="356.27" y="86.6" width="4.58" height="2.9" fill="#22b8c4" stroke="#107680" stroke-width="0.6"/>
<line x1="356.27" y1="88" x2="360.85" y2="88" stroke="#0f5f66" stroke-width="0.6"/>
<line x1="363.64" y1="80" x2="363.64" y2="88.8" stroke="#8c8c8c" stroke-width="0.55"/>
<line x1="362.52" y1="80" x2="364.76" y2="80" stroke="#8c8c8c" stroke-width="0.55"/>
<line x1="362.52" y1="88.8" x2="364.76" y2="88.8" stroke="#8c8c8c" stroke-width="0.55"/>
<rect x="361.35" y="84" width="4.58" height="3.7" fill="#f2695f" stroke="#b04038" stroke-width="0.6"/>
<line x1="361.35" y1="85.9" x2="365.94" y2="85.9" stroke="#9a362f" stroke-width="0.6"/>
<line x1="369.86" y1="84.5" x2="369.86" y2="90" stroke="#8c8c8c" stroke-width="0.55"/>
<line x1="368.74" y1="84.5" x2="370.98" y2="84.5" stroke="#8c8c8c" stroke-width="0.55"/>
<rect x="367.57" y="85.9" width="4.58" height="3.3" fill="#22b8c4" stroke="#107680" stroke-width="0.6"/>
<line x1="367.57" y1="87.3" x2="372.15" y2="87.3" stroke="#0f5f66" stroke-width="0.6"/>
<line x1="374.94" y1="77.6" x2="374.94" y2="89.5" stroke="#8c8c8c" stroke-width="0.55"/>
<line x1="373.82" y1="77.6" x2="376.06" y2="77.6" stroke="#8c8c8c" stroke-width="0.55"/>
<line x1="373.82" y1="89.5" x2="376.06" y2="89.5" stroke="#8c8c8c" stroke-width="0.55"/>
<rect x="372.65" y="82.2" width="4.58" height="3.7" fill="#f2695f" stroke="#b04038" stroke-width="0.6"/>
<line x1="372.65" y1="83.7" x2="377.24" y2="83.7" stroke="#9a362f" stroke-width="0.6"/>
<line x1="381.16" y1="98.2" x2="381.16" y2="100" stroke="#8c8c8c" stroke-width="0.55"/>
<rect x="378.87" y="98.2" width="4.58" height="1.8" fill="#22b8c4" stroke="#107680" stroke-width="0.6"/>
<line x1="378.87" y1="99.1" x2="383.45" y2="99.1" stroke="#0f5f66" stroke-width="0.6"/>
<line x1="386.24" y1="89.2" x2="386.24" y2="96.8" stroke="#8c8c8c" stroke-width="0.55"/>
<line x1="385.12" y1="89.2" x2="387.36" y2="89.2" stroke="#8c8c8c" stroke-width="0.55"/>
<line x1="385.12" y1="96.8" x2="387.36" y2="96.8" stroke="#8c8c8c" stroke-width="0.55"/>
<rect x="383.95" y="90.2" width="4.58" height="3.9" fill="#f2695f" stroke="#b04038" stroke-width="0.6"/>
<line x1="383.95" y1="92.1" x2="388.53" y2="92.1" stroke="#9a362f" stroke-width="0.6"/>
<line x1="392.46" y1="80.5" x2="392.46" y2="87.7" stroke="#8c8c8c" stroke-width="0.55"/>
<line x1="391.34" y1="80.5" x2="393.58" y2="80.5" stroke="#8c8c8c" stroke-width="0.55"/>
<rect x="390.17" y="83" width="4.58" height="3.9" fill="#22b8c4" stroke="#107680" stroke-width="0.6"/>
<line x1="390.17" y1="84.8" x2="394.75" y2="84.8" stroke="#0f5f66" stroke-width="0.6"/>
<line x1="397.54" y1="77.8" x2="397.54" y2="84.4" stroke="#8c8c8c" stroke-width="0.55"/>
<line x1="396.42" y1="77.8" x2="398.66" y2="77.8" stroke="#8c8c8c" stroke-width="0.55"/>
<line x1="396.42" y1="84.4" x2="398.66" y2="84.4" stroke="#8c8c8c" stroke-width="0.55"/>
<rect x="395.25" y="80" width="4.58" height="2.5" fill="#f2695f" stroke="#b04038" stroke-width="0.6"/>
<line x1="395.25" y1="81" x2="399.83" y2="81" stroke="#9a362f" stroke-width="0.6"/>
<line x1="403.76" y1="79" x2="403.76" y2="86.5" stroke="#8c8c8c" stroke-width="0.55"/>
<line x1="402.64" y1="79" x2="404.88" y2="79" stroke="#8c8c8c" stroke-width="0.55"/>
<rect x="401.47" y="82.2" width="4.58" height="3.7" fill="#22b8c4" stroke="#107680" stroke-width="0.6"/>
<line x1="401.47" y1="83.7" x2="406.05" y2="83.7" stroke="#0f5f66" stroke-width="0.6"/>
<line x1="408.84" y1="76.4" x2="408.84" y2="81.5" stroke="#8c8c8c" stroke-width="0.55"/>
<line x1="407.72" y1="76.4" x2="409.96" y2="76.4" stroke="#8c8c8c" stroke-width="0.55"/>
<line x1="407.72" y1="81.5" x2="409.96" y2="81.5" stroke="#8c8c8c" stroke-width="0.55"/>
<rect x="406.55" y="78.1" width="4.58" height="2.4" fill="#f2695f" stroke="#b04038" stroke-width="0.6"/>
<line x1="406.55" y1="79.3" x2="411.13" y2="79.3" stroke="#9a362f" stroke-width="0.6"/>
<line x1="415.06" y1="91" x2="415.06" y2="92.4" stroke="#8c8c8c" stroke-width="0.55"/>
<rect x="412.77" y="91" width="4.58" height="1.4" fill="#22b8c4" stroke="#107680" stroke-width="0.6"/>
<line x1="412.77" y1="91.7" x2="417.35" y2="91.7" stroke="#0f5f66" stroke-width="0.6"/>
<line x1="420.14" y1="82.2" x2="420.14" y2="91.7" stroke="#8c8c8c" stroke-width="0.55"/>
<line x1="419.02" y1="82.2" x2="421.26" y2="82.2" stroke="#8c8c8c" stroke-width="0.55"/>
<line x1="419.02" y1="91.7" x2="421.26" y2="91.7" stroke="#8c8c8c" stroke-width="0.55"/>
<rect x="417.85" y="85.1" width="4.58" height="5.1" fill="#f2695f" stroke="#b04038" stroke-width="0.6"/>
<line x1="417.85" y1="87.3" x2="422.44" y2="87.3" stroke="#9a362f" stroke-width="0.6"/>
<line x1="426.36" y1="70.3" x2="426.36" y2="77.6" stroke="#8a8a8a" stroke-width="0.6"/>
<line x1="425.09" y1="70.3" x2="427.63" y2="70.3" stroke="#8a8a8a" stroke-width="0.6"/>
<line x1="425.09" y1="77.6" x2="427.63" y2="77.6" stroke="#8a8a8a" stroke-width="0.6"/>
<line x1="424.01" y1="74.2" x2="428.7" y2="74.2" stroke="#666" stroke-width="0.8"/>
<line x1="431.44" y1="62.6" x2="431.44" y2="70.2" stroke="#8c8c8c" stroke-width="0.55"/>
<rect x="429.15" y="63" width="4.58" height="6.8" fill="#f2695f" stroke="#b04038" stroke-width="0.6"/>
<line x1="429.15" y1="66.5" x2="433.73" y2="66.5" stroke="#9a362f" stroke-width="0.6"/>
<line x1="437.66" y1="88" x2="437.66" y2="90.2" stroke="#8c8c8c" stroke-width="0.55"/>
<rect x="435.37" y="88" width="4.58" height="2.2" fill="#22b8c4" stroke="#107680" stroke-width="0.6"/>
<line x1="435.37" y1="89.1" x2="439.95" y2="89.1" stroke="#0f5f66" stroke-width="0.6"/>
<line x1="442.74" y1="82.6" x2="442.74" y2="85.4" stroke="#8a8a8a" stroke-width="0.6"/>
<line x1="441.47" y1="82.6" x2="444.01" y2="82.6" stroke="#8a8a8a" stroke-width="0.6"/>
<line x1="441.47" y1="85.4" x2="444.01" y2="85.4" stroke="#8a8a8a" stroke-width="0.6"/>
<line x1="440.4" y1="83.4" x2="445.08" y2="83.4" stroke="#666" stroke-width="0.8"/>
<path d="M353.4,117.8 V43.5 H448.5 V117.8 M352.9,117.8 H449" fill="none" stroke="#2b2b2b" stroke-width="0.95"/>
<line x1="350.4" y1="43.5" x2="353.4" y2="43.5" stroke="#2b2b2b" stroke-width="0.9"/>
<text transform="translate(349.4,45.75) scale(0.85,1)" class="tk" text-anchor="end">15</text>
<line x1="350.4" y1="68.27" x2="353.4" y2="68.27" stroke="#2b2b2b" stroke-width="0.9"/>
<text transform="translate(349.4,70.52) scale(0.85,1)" class="tk" text-anchor="end">10</text>
<line x1="350.4" y1="93.03" x2="353.4" y2="93.03" stroke="#2b2b2b" stroke-width="0.9"/>
<text transform="translate(349.4,95.28) scale(0.85,1)" class="tk" text-anchor="end">5</text>
<line x1="350.4" y1="117.8" x2="353.4" y2="117.8" stroke="#2b2b2b" stroke-width="0.9"/>
<text transform="translate(349.4,120.05) scale(0.85,1)" class="tk" text-anchor="end">0</text>
<line x1="448.5" y1="43.5" x2="451.5" y2="43.5" stroke="#2b2b2b" stroke-width="0.9"/>
<text transform="translate(452.7,45.75) scale(0.85,1)" class="tk">15</text>
<line x1="448.5" y1="68.27" x2="451.5" y2="68.27" stroke="#2b2b2b" stroke-width="0.9"/>
<text transform="translate(452.7,70.52) scale(0.85,1)" class="tk">10</text>
<line x1="448.5" y1="93.03" x2="451.5" y2="93.03" stroke="#2b2b2b" stroke-width="0.9"/>
<text transform="translate(452.7,95.28) scale(0.85,1)" class="tk">5</text>
<line x1="448.5" y1="117.8" x2="451.5" y2="117.8" stroke="#2b2b2b" stroke-width="0.9"/>
<text transform="translate(452.7,120.05) scale(0.85,1)" class="tk">0</text>
<text transform="translate(460.7,80.65) rotate(90)" class="ax" text-anchor="middle">Log<tspan font-size="4.6" dy="1.6">2</tspan><tspan dy="-1.6"> (Counts + 1)</tspan></text>
<line x1="361.1" y1="117.8" x2="361.1" y2="120.8" stroke="#2b2b2b" stroke-width="0.9"/>
<text transform="translate(364,125.6) rotate(-45)" class="xl" text-anchor="end">GSE14407</text>
<line x1="372.4" y1="117.8" x2="372.4" y2="120.8" stroke="#2b2b2b" stroke-width="0.9"/>
<text transform="translate(375.3,125.6) rotate(-45)" class="xl" text-anchor="end">GSE18520</text>
<line x1="383.7" y1="117.8" x2="383.7" y2="120.8" stroke="#2b2b2b" stroke-width="0.9"/>
<text transform="translate(386.6,125.6) rotate(-45)" class="xl" text-anchor="end">GSE29450</text>
<line x1="395" y1="117.8" x2="395" y2="120.8" stroke="#2b2b2b" stroke-width="0.9"/>
<text transform="translate(397.9,125.6) rotate(-45)" class="xl" text-anchor="end">GSE38666</text>
<line x1="406.3" y1="117.8" x2="406.3" y2="120.8" stroke="#2b2b2b" stroke-width="0.9"/>
<text transform="translate(409.2,125.6) rotate(-45)" class="xl" text-anchor="end">GSE52037</text>
<line x1="417.6" y1="117.8" x2="417.6" y2="120.8" stroke="#2b2b2b" stroke-width="0.9"/>
<text transform="translate(420.5,125.6) rotate(-45)" class="xl" text-anchor="end">GSE54388</text>
<line x1="428.9" y1="117.8" x2="428.9" y2="120.8" stroke="#2b2b2b" stroke-width="0.9"/>
<text transform="translate(431.8,125.6) rotate(-45)" class="xl" text-anchor="end">GSE119054</text>
<line x1="440.2" y1="117.8" x2="440.2" y2="120.8" stroke="#2b2b2b" stroke-width="0.9"/>
<text transform="translate(443.1,125.6) rotate(-45)" class="xl" text-anchor="end">GSE23391</text>
<text x="401.65" y="39.9" class="tt" text-anchor="middle">ENSG00000285756</text>
<line x1="96.5" y1="166" x2="96.5" y2="240.7" stroke="#7a7a7a" stroke-width="0.75" stroke-dasharray="1,1"/>
<line x1="31.76" y1="219.5" x2="31.76" y2="227.2" stroke="#8c8c8c" stroke-width="0.55"/>
<line x1="30.65" y1="219.5" x2="32.88" y2="219.5" stroke="#8c8c8c" stroke-width="0.55"/>
<line x1="30.65" y1="227.2" x2="32.88" y2="227.2" stroke="#8c8c8c" stroke-width="0.55"/>
<rect x="29.48" y="222.6" width="4.57" height="2" fill="#22b8c4" stroke="#107680" stroke-width="0.6"/>
<line x1="29.48" y1="223.6" x2="34.05" y2="223.6" stroke="#0f5f66" stroke-width="0.6"/>
<line x1="36.84" y1="202.5" x2="36.84" y2="223.7" stroke="#8c8c8c" stroke-width="0.55"/>
<line x1="35.72" y1="202.5" x2="37.95" y2="202.5" stroke="#8c8c8c" stroke-width="0.55"/>
<rect x="34.55" y="206.7" width="4.57" height="16.4" fill="#f2695f" stroke="#b04038" stroke-width="0.6"/>
<line x1="34.55" y1="216.4" x2="39.12" y2="216.4" stroke="#9a362f" stroke-width="0.6"/>
<line x1="43.04" y1="196.6" x2="43.04" y2="205.6" stroke="#8c8c8c" stroke-width="0.55"/>
<line x1="41.92" y1="196.6" x2="44.15" y2="196.6" stroke="#8c8c8c" stroke-width="0.55"/>
<line x1="41.92" y1="205.6" x2="44.15" y2="205.6" stroke="#8c8c8c" stroke-width="0.55"/>
<rect x="40.75" y="199.4" width="4.57" height="4.6" fill="#22b8c4" stroke="#107680" stroke-width="0.6"/>
<line x1="40.75" y1="201" x2="45.32" y2="201" stroke="#0f5f66" stroke-width="0.6"/>
<line x1="48.11" y1="188.1" x2="48.11" y2="199.4" stroke="#8c8c8c" stroke-width="0.55"/>
<line x1="46.99" y1="188.1" x2="49.22" y2="188.1" stroke="#8c8c8c" stroke-width="0.55"/>
<line x1="46.99" y1="199.4" x2="49.22" y2="199.4" stroke="#8c8c8c" stroke-width="0.55"/>
<rect x="45.82" y="191.7" width="4.57" height="5.1" fill="#f2695f" stroke="#b04038" stroke-width="0.6"/>
<line x1="45.82" y1="194" x2="50.39" y2="194" stroke="#9a362f" stroke-width="0.6"/>
<line x1="54.31" y1="192.5" x2="54.31" y2="209.5" stroke="#8c8c8c" stroke-width="0.55"/>
<line x1="53.19" y1="192.5" x2="55.42" y2="192.5" stroke="#8c8c8c" stroke-width="0.55"/>
<line x1="53.19" y1="209.5" x2="55.42" y2="209.5" stroke="#8c8c8c" stroke-width="0.55"/>
<rect x="52.02" y="194.8" width="4.57" height="10.8" fill="#22b8c4" stroke="#107680" stroke-width="0.6"/>
<line x1="52.02" y1="201.7" x2="56.59" y2="201.7" stroke="#0f5f66" stroke-width="0.6"/>
<line x1="59.38" y1="179.3" x2="59.38" y2="206.4" stroke="#8c8c8c" stroke-width="0.55"/>
<line x1="58.26" y1="179.3" x2="60.49" y2="179.3" stroke="#8c8c8c" stroke-width="0.55"/>
<line x1="58.26" y1="206.4" x2="60.49" y2="206.4" stroke="#8c8c8c" stroke-width="0.55"/>
<rect x="57.09" y="189.4" width="4.57" height="6.5" fill="#f2695f" stroke="#b04038" stroke-width="0.6"/>
<line x1="57.09" y1="192.1" x2="61.66" y2="192.1" stroke="#9a362f" stroke-width="0.6"/>
<line x1="65.58" y1="193.2" x2="65.58" y2="205.6" stroke="#8c8c8c" stroke-width="0.55"/>
<line x1="64.46" y1="193.2" x2="66.69" y2="193.2" stroke="#8c8c8c" stroke-width="0.55"/>
<line x1="64.46" y1="205.6" x2="66.69" y2="205.6" stroke="#8c8c8c" stroke-width="0.55"/>
<rect x="63.29" y="196.8" width="4.57" height="5.2" fill="#22b8c4" stroke="#107680" stroke-width="0.6"/>
<line x1="63.29" y1="199.9" x2="67.86" y2="199.9" stroke="#0f5f66" stroke-width="0.6"/>
<line x1="70.65" y1="178.2" x2="70.65" y2="203.3" stroke="#8c8c8c" stroke-width="0.55"/>
<line x1="69.53" y1="178.2" x2="71.77" y2="178.2" stroke="#8c8c8c" stroke-width="0.55"/>
<line x1="69.53" y1="203.3" x2="71.77" y2="203.3" stroke="#8c8c8c" stroke-width="0.55"/>
<rect x="68.36" y="187" width="4.57" height="7.8" fill="#f2695f" stroke="#b04038" stroke-width="0.6"/>
<line x1="68.36" y1="191.7" x2="72.94" y2="191.7" stroke="#9a362f" stroke-width="0.6"/>
<line x1="76.85" y1="203.3" x2="76.85" y2="209.8" stroke="#8c8c8c" stroke-width="0.55"/>
<rect x="74.56" y="204" width="4.57" height="5.5" fill="#22b8c4" stroke="#107680" stroke-width="0.6"/>
<line x1="74.56" y1="206" x2="79.14" y2="206" stroke="#0f5f66" stroke-width="0.6"/>
<line x1="81.92" y1="178.5" x2="81.92" y2="200.5" stroke="#8c8c8c" stroke-width="0.55"/>
<line x1="80.81" y1="178.5" x2="83.04" y2="178.5" stroke="#8c8c8c" stroke-width="0.55"/>
<line x1="80.81" y1="200.5" x2="83.04" y2="200.5" stroke="#8c8c8c" stroke-width="0.55"/>
<rect x="79.64" y="188.6" width="4.57" height="7.3" fill="#f2695f" stroke="#b04038" stroke-width="0.6"/>
<line x1="79.64" y1="192.5" x2="84.21" y2="192.5" stroke="#9a362f" stroke-width="0.6"/>
<line x1="88.12" y1="190.1" x2="88.12" y2="203.3" stroke="#8c8c8c" stroke-width="0.55"/>
<line x1="87.01" y1="190.1" x2="89.24" y2="190.1" stroke="#8c8c8c" stroke-width="0.55"/>
<line x1="87.01" y1="203.3" x2="89.24" y2="203.3" stroke="#8c8c8c" stroke-width="0.55"/>
<rect x="85.84" y="193.2" width="4.57" height="6.2" fill="#22b8c4" stroke="#107680" stroke-width="0.6"/>
<line x1="85.84" y1="195.5" x2="90.41" y2="195.5" stroke="#0f5f66" stroke-width="0.6"/>
<line x1="93.19" y1="176.2" x2="93.19" y2="200.2" stroke="#8c8c8c" stroke-width="0.55"/>
<line x1="92.08" y1="176.2" x2="94.31" y2="176.2" stroke="#8c8c8c" stroke-width="0.55"/>
<line x1="92.08" y1="200.2" x2="94.31" y2="200.2" stroke="#8c8c8c" stroke-width="0.55"/>
<rect x="90.91" y="183.5" width="4.57" height="8.2" fill="#f2695f" stroke="#b04038" stroke-width="0.6"/>
<line x1="90.91" y1="187.8" x2="95.48" y2="187.8" stroke="#9a362f" stroke-width="0.6"/>
<line x1="99.39" y1="201" x2="99.39" y2="240.7" stroke="#8c8c8c" stroke-width="0.55"/>
<line x1="98.28" y1="201" x2="100.51" y2="201" stroke="#8c8c8c" stroke-width="0.55"/>
<rect x="97.11" y="224.6" width="4.57" height="16.1" fill="#22b8c4" stroke="#107680" stroke-width="0.6"/>
<line x1="97.11" y1="235.4" x2="101.68" y2="235.4" stroke="#0f5f66" stroke-width="0.6"/>
<line x1="104.46" y1="180.1" x2="104.46" y2="237.3" stroke="#8c8c8c" stroke-width="0.55"/>
<line x1="103.35" y1="180.1" x2="105.58" y2="180.1" stroke="#8c8c8c" stroke-width="0.55"/>
<rect x="102.18" y="195.2" width="4.57" height="42.1" fill="#f2695f" stroke="#b04038" stroke-width="0.6"/>
<line x1="102.18" y1="223.4" x2="106.75" y2="223.4" stroke="#9a362f" stroke-width="0.6"/>
<line x1="110.66" y1="229.6" x2="110.66" y2="231.4" stroke="#8c8c8c" stroke-width="0.55"/>
<rect x="108.38" y="229.6" width="4.57" height="1.8" fill="#22b8c4" stroke="#107680" stroke-width="0.6"/>
<line x1="108.38" y1="230.5" x2="112.95" y2="230.5" stroke="#0f5f66" stroke-width="0.6"/>
<line x1="115.74" y1="213.3" x2="115.74" y2="234.2" stroke="#8c8c8c" stroke-width="0.55"/>
<line x1="114.62" y1="213.3" x2="116.85" y2="213.3" stroke="#8c8c8c" stroke-width="0.55"/>
<line x1="114.62" y1="234.2" x2="116.85" y2="234.2" stroke="#8c8c8c" stroke-width="0.55"/>
<rect x="113.45" y="214.9" width="4.57" height="17.7" fill="#f2695f" stroke="#b04038" stroke-width="0.6"/>
<line x1="113.45" y1="228" x2="118.02" y2="228" stroke="#9a362f" stroke-width="0.6"/>
<circle cx="48.11" cy="180.9" r="0.7" fill="#333"/>
<path d="M27,240.7 V166 H121.5 V240.7 M26.5,240.7 H122" fill="none" stroke="#2b2b2b" stroke-width="0.95"/>
<line x1="24" y1="166" x2="27" y2="166" stroke="#2b2b2b" stroke-width="0.9"/>
<text transform="translate(23,168.25) scale(0.85,1)" class="tk" text-anchor="end">10</text>
<line x1="24" y1="180.94" x2="27" y2="180.94" stroke="#2b2b2b" stroke-width="0.9"/>
<text transform="translate(23,183.19) scale(0.85,1)" class="tk" text-anchor="end">8</text>
<line x1="24" y1="195.88" x2="27" y2="195.88" stroke="#2b2b2b" stroke-width="0.9"/>
<text transform="translate(23,198.13) scale(0.85,1)" class="tk" text-anchor="end">6</text>
<line x1="24" y1="210.82" x2="27" y2="210.82" stroke="#2b2b2b" stroke-width="0.9"/>
<text transform="translate(23,213.07) scale(0.85,1)" class="tk" text-anchor="end">4</text>
<line x1="24" y1="225.76" x2="27" y2="225.76" stroke="#2b2b2b" stroke-width="0.9"/>
<text transform="translate(23,228.01) scale(0.85,1)" class="tk" text-anchor="end">2</text>
<line x1="24" y1="240.7" x2="27" y2="240.7" stroke="#2b2b2b" stroke-width="0.9"/>
<text transform="translate(23,242.95) scale(0.85,1)" class="tk" text-anchor="end">0</text>
<text transform="translate(14.7,201.75) rotate(-90)" class="ax" text-anchor="middle">Filtered log intensity</text>
<line x1="34.3" y1="240.7" x2="34.3" y2="243.7" stroke="#2b2b2b" stroke-width="0.9"/>
<text transform="translate(37.2,248.5) rotate(-45)" class="xl" text-anchor="end">GSE10971</text>
<line x1="45.57" y1="240.7" x2="45.57" y2="243.7" stroke="#2b2b2b" stroke-width="0.9"/>
<text transform="translate(48.47,248.5) rotate(-45)" class="xl" text-anchor="end">GSE14407</text>
<line x1="56.84" y1="240.7" x2="56.84" y2="243.7" stroke="#2b2b2b" stroke-width="0.9"/>
<text transform="translate(59.74,248.5) rotate(-45)" class="xl" text-anchor="end">GSE18520</text>
<line x1="68.11" y1="240.7" x2="68.11" y2="243.7" stroke="#2b2b2b" stroke-width="0.9"/>
<text transform="translate(71.01,248.5) rotate(-45)" class="xl" text-anchor="end">GSE38666</text>
<line x1="79.39" y1="240.7" x2="79.39" y2="243.7" stroke="#2b2b2b" stroke-width="0.9"/>
<text transform="translate(82.29,248.5) rotate(-45)" class="xl" text-anchor="end">GSE40595</text>
<line x1="90.66" y1="240.7" x2="90.66" y2="243.7" stroke="#2b2b2b" stroke-width="0.9"/>
<text transform="translate(93.56,248.5) rotate(-45)" class="xl" text-anchor="end">GSE52037</text>
<line x1="101.93" y1="240.7" x2="101.93" y2="243.7" stroke="#2b2b2b" stroke-width="0.9"/>
<text transform="translate(104.83,248.5) rotate(-45)" class="xl" text-anchor="end">GSE137238</text>
<line x1="113.2" y1="240.7" x2="113.2" y2="243.7" stroke="#2b2b2b" stroke-width="0.9"/>
<text transform="translate(116.1,248.5) rotate(-45)" class="xl" text-anchor="end">GSE190688</text>
<text x="74.95" y="162.4" class="tt" text-anchor="middle">LINC01297</text>
<line x1="189.5" y1="166" x2="189.5" y2="240.7" stroke="#7a7a7a" stroke-width="0.75" stroke-dasharray="1,1"/>
<line x1="141.4" y1="211.8" x2="141.4" y2="214.1" stroke="#8c8c8c" stroke-width="0.55"/>
<rect x="138.75" y="211.8" width="5.3" height="2.3" fill="#22b8c4" stroke="#107680" stroke-width="0.6"/>
<line x1="138.75" y1="213" x2="144.05" y2="213" stroke="#0f5f66" stroke-width="0.6"/>
<line x1="147.2" y1="204.8" x2="147.2" y2="212.6" stroke="#8c8c8c" stroke-width="0.55"/>
<line x1="145.93" y1="204.8" x2="148.48" y2="204.8" stroke="#8c8c8c" stroke-width="0.55"/>
<rect x="144.55" y="208.2" width="5.3" height="3.6" fill="#f2695f" stroke="#b04038" stroke-width="0.6"/>
<line x1="144.55" y1="209.8" x2="149.86" y2="209.8" stroke="#9a362f" stroke-width="0.6"/>
<line x1="154.3" y1="210.7" x2="154.3" y2="212.9" stroke="#8c8c8c" stroke-width="0.55"/>
<rect x="151.65" y="210.7" width="5.3" height="2.2" fill="#22b8c4" stroke="#107680" stroke-width="0.6"/>
<line x1="151.65" y1="211.8" x2="156.95" y2="211.8" stroke="#0f5f66" stroke-width="0.6"/>
<line x1="160.1" y1="203.3" x2="160.1" y2="211.8" stroke="#8c8c8c" stroke-width="0.55"/>
<line x1="158.83" y1="203.3" x2="161.38" y2="203.3" stroke="#8c8c8c" stroke-width="0.55"/>
<line x1="158.83" y1="211.8" x2="161.38" y2="211.8" stroke="#8c8c8c" stroke-width="0.55"/>
<rect x="157.45" y="206.7" width="5.3" height="4" fill="#f2695f" stroke="#b04038" stroke-width="0.6"/>
<line x1="157.45" y1="208.7" x2="162.76" y2="208.7" stroke="#9a362f" stroke-width="0.6"/>
<line x1="167.2" y1="210.7" x2="167.2" y2="212.9" stroke="#8c8c8c" stroke-width="0.55"/>
<rect x="164.54" y="210.7" width="5.3" height="2.2" fill="#22b8c4" stroke="#107680" stroke-width="0.6"/>
<line x1="164.54" y1="211.8" x2="169.85" y2="211.8" stroke="#0f5f66" stroke-width="0.6"/>
<line x1="173" y1="204.5" x2="173" y2="212.2" stroke="#8c8c8c" stroke-width="0.55"/>
<line x1="171.73" y1="204.5" x2="174.28" y2="204.5" stroke="#8c8c8c" stroke-width="0.55"/>
<line x1="171.73" y1="212.2" x2="174.28" y2="212.2" stroke="#8c8c8c" stroke-width="0.55"/>
<rect x="170.35" y="207.1" width="5.3" height="3.1" fill="#f2695f" stroke="#b04038" stroke-width="0.6"/>
<line x1="170.35" y1="208.2" x2="175.66" y2="208.2" stroke="#9a362f" stroke-width="0.6"/>
<line x1="180.1" y1="223.7" x2="180.1" y2="227.2" stroke="#8a8a8a" stroke-width="0.6"/>
<line x1="178.65" y1="223.7" x2="181.55" y2="223.7" stroke="#8a8a8a" stroke-width="0.6"/>
<line x1="178.65" y1="227.2" x2="181.55" y2="227.2" stroke="#8a8a8a" stroke-width="0.6"/>
<line x1="177.39" y1="225.7" x2="182.8" y2="225.7" stroke="#666" stroke-width="0.8"/>
<line x1="185.9" y1="208.2" x2="185.9" y2="218" stroke="#8c8c8c" stroke-width="0.55"/>
<line x1="184.63" y1="208.2" x2="187.18" y2="208.2" stroke="#8c8c8c" stroke-width="0.55"/>
<rect x="183.25" y="211" width="5.3" height="6.5" fill="#f2695f" stroke="#b04038" stroke-width="0.6"/>
<line x1="183.25" y1="214.1" x2="188.56" y2="214.1" stroke="#9a362f" stroke-width="0.6"/>
<line x1="193" y1="206" x2="193" y2="235.7" stroke="#8c8c8c" stroke-width="0.55"/>
<line x1="191.72" y1="206" x2="194.27" y2="206" stroke="#8c8c8c" stroke-width="0.55"/>
<line x1="191.72" y1="235.7" x2="194.27" y2="235.7" stroke="#8c8c8c" stroke-width="0.55"/>
<rect x="190.34" y="216.9" width="5.3" height="7.7" fill="#22b8c4" stroke="#107680" stroke-width="0.6"/>
<line x1="190.34" y1="219" x2="195.65" y2="219" stroke="#0f5f66" stroke-width="0.6"/>
<line x1="198.8" y1="189" x2="198.8" y2="232.3" stroke="#8c8c8c" stroke-width="0.55"/>
<line x1="197.53" y1="189" x2="200.08" y2="189" stroke="#8c8c8c" stroke-width="0.55"/>
<line x1="197.53" y1="232.3" x2="200.08" y2="232.3" stroke="#8c8c8c" stroke-width="0.55"/>
<rect x="196.15" y="203.6" width="5.3" height="12.4" fill="#f2695f" stroke="#b04038" stroke-width="0.6"/>
<line x1="196.15" y1="208.7" x2="201.46" y2="208.7" stroke="#9a362f" stroke-width="0.6"/>
<line x1="205.9" y1="220.5" x2="205.9" y2="237.5" stroke="#8c8c8c" stroke-width="0.55"/>
<line x1="204.62" y1="220.5" x2="207.17" y2="220.5" stroke="#8c8c8c" stroke-width="0.55"/>
<line x1="204.62" y1="237.5" x2="207.17" y2="237.5" stroke="#8c8c8c" stroke-width="0.55"/>
<rect x="203.25" y="221.5" width="5.3" height="10.8" fill="#22b8c4" stroke="#107680" stroke-width="0.6"/>
<line x1="203.25" y1="227.2" x2="208.55" y2="227.2" stroke="#0f5f66" stroke-width="0.6"/>
<line x1="211.7" y1="203" x2="211.7" y2="223.4" stroke="#8c8c8c" stroke-width="0.55"/>
<line x1="210.43" y1="203" x2="212.98" y2="203" stroke="#8c8c8c" stroke-width="0.55"/>
<line x1="210.43" y1="223.4" x2="212.98" y2="223.4" stroke="#8c8c8c" stroke-width="0.55"/>
<rect x="209.05" y="208.2" width="5.3" height="12.4" fill="#f2695f" stroke="#b04038" stroke-width="0.6"/>
<line x1="209.05" y1="213.3" x2="214.36" y2="213.3" stroke="#9a362f" stroke-width="0.6"/>
<line x1="218.8" y1="235" x2="218.8" y2="240.7" stroke="#8c8c8c" stroke-width="0.55"/>
<rect x="216.14" y="235.4" width="5.3" height="5.3" fill="#22b8c4" stroke="#107680" stroke-width="0.6"/>
<line x1="216.14" y1="237.5" x2="221.45" y2="237.5" stroke="#0f5f66" stroke-width="0.6"/>
<line x1="224.6" y1="221" x2="224.6" y2="237.5" stroke="#8c8c8c" stroke-width="0.55"/>
<line x1="223.33" y1="237.5" x2="225.88" y2="237.5" stroke="#8c8c8c" stroke-width="0.55"/>
<rect x="221.95" y="221.5" width="5.3" height="15" fill="#f2695f" stroke="#b04038" stroke-width="0.6"/>
<line x1="221.95" y1="228" x2="227.25" y2="228" stroke="#9a362f" stroke-width="0.6"/>
<circle cx="198.8" cy="235.4" r="0.7" fill="#333"/>
<path d="M135.4,240.7 V166 H230.5 V240.7 M134.9,240.7 H231" fill="none" stroke="#2b2b2b" stroke-width="0.95"/>
<line x1="132.4" y1="166" x2="135.4" y2="166" stroke="#2b2b2b" stroke-width="0.9"/>
<text transform="translate(131.4,168.25) scale(0.85,1)" class="tk" text-anchor="end">15</text>
<line x1="132.4" y1="190.9" x2="135.4" y2="190.9" stroke="#2b2b2b" stroke-width="0.9"/>
<text transform="translate(131.4,193.15) scale(0.85,1)" class="tk" text-anchor="end">10</text>
<line x1="132.4" y1="215.8" x2="135.4" y2="215.8" stroke="#2b2b2b" stroke-width="0.9"/>
<text transform="translate(131.4,218.05) scale(0.85,1)" class="tk" text-anchor="end">5</text>
<line x1="132.4" y1="240.7" x2="135.4" y2="240.7" stroke="#2b2b2b" stroke-width="0.9"/>
<text transform="translate(131.4,242.95) scale(0.85,1)" class="tk" text-anchor="end">0</text>
<line x1="144.3" y1="240.7" x2="144.3" y2="243.7" stroke="#2b2b2b" stroke-width="0.9"/>
<text transform="translate(147.2,248.5) rotate(-45)" class="xl" text-anchor="end">GSE14407</text>
<line x1="157.2" y1="240.7" x2="157.2" y2="243.7" stroke="#2b2b2b" stroke-width="0.9"/>
<text transform="translate(160.1,248.5) rotate(-45)" class="xl" text-anchor="end">GSE38666</text>
<line x1="170.1" y1="240.7" x2="170.1" y2="243.7" stroke="#2b2b2b" stroke-width="0.9"/>
<text transform="translate(173,248.5) rotate(-45)" class="xl" text-anchor="end">GSE52037</text>
<line x1="183" y1="240.7" x2="183" y2="243.7" stroke="#2b2b2b" stroke-width="0.9"/>
<text transform="translate(185.9,248.5) rotate(-45)" class="xl" text-anchor="end">GSE119054</text>
<line x1="195.9" y1="240.7" x2="195.9" y2="243.7" stroke="#2b2b2b" stroke-width="0.9"/>
<text transform="translate(198.8,248.5) rotate(-45)" class="xl" text-anchor="end">GEPIA</text>
<line x1="208.8" y1="240.7" x2="208.8" y2="243.7" stroke="#2b2b2b" stroke-width="0.9"/>
<text transform="translate(211.7,248.5) rotate(-45)" class="xl" text-anchor="end">GSE137238</text>
<line x1="221.7" y1="240.7" x2="221.7" y2="243.7" stroke="#2b2b2b" stroke-width="0.9"/>
<text transform="translate(224.6,248.5) rotate(-45)" class="xl" text-anchor="end">GSE190688</text>
<text x="183.65" y="162.4" class="tt" text-anchor="middle">TFAP2A-AS1</text>
<line x1="324.5" y1="166" x2="324.5" y2="240.7" stroke="#7a7a7a" stroke-width="0.75" stroke-dasharray="1,1"/>
<line x1="250.09" y1="209.5" x2="250.09" y2="215.5" stroke="#8c8c8c" stroke-width="0.55"/>
<line x1="248.81" y1="209.5" x2="251.37" y2="209.5" stroke="#8c8c8c" stroke-width="0.55"/>
<line x1="248.81" y1="215.5" x2="251.37" y2="215.5" stroke="#8c8c8c" stroke-width="0.55"/>
<rect x="247.44" y="211" width="5.31" height="3.4" fill="#22b8c4" stroke="#107680" stroke-width="0.6"/>
<line x1="247.44" y1="212.6" x2="252.75" y2="212.6" stroke="#0f5f66" stroke-width="0.6"/>
<line x1="255.91" y1="189" x2="255.91" y2="210.7" stroke="#8c8c8c" stroke-width="0.55"/>
<line x1="254.63" y1="189" x2="257.19" y2="189" stroke="#8c8c8c" stroke-width="0.55"/>
<line x1="254.63" y1="210.7" x2="257.19" y2="210.7" stroke="#8c8c8c" stroke-width="0.55"/>
<rect x="253.25" y="193.2" width="5.31" height="13.9" fill="#f2695f" stroke="#b04038" stroke-width="0.6"/>
<line x1="253.25" y1="203" x2="258.56" y2="203" stroke="#9a362f" stroke-width="0.6"/>
<line x1="263.01" y1="203.8" x2="263.01" y2="210.7" stroke="#8c8c8c" stroke-width="0.55"/>
<line x1="261.73" y1="203.8" x2="264.29" y2="203.8" stroke="#8c8c8c" stroke-width="0.55"/>
<line x1="261.73" y1="210.7" x2="264.29" y2="210.7" stroke="#8c8c8c" stroke-width="0.55"/>
<rect x="260.35" y="205.1" width="5.31" height="4.7" fill="#22b8c4" stroke="#107680" stroke-width="0.6"/>
<line x1="260.35" y1="207.1" x2="265.67" y2="207.1" stroke="#0f5f66" stroke-width="0.6"/>
<line x1="268.82" y1="187.8" x2="268.82" y2="210.2" stroke="#8c8c8c" stroke-width="0.55"/>
<line x1="267.54" y1="187.8" x2="270.1" y2="187.8" stroke="#8c8c8c" stroke-width="0.55"/>
<line x1="267.54" y1="210.2" x2="270.1" y2="210.2" stroke="#8c8c8c" stroke-width="0.55"/>
<rect x="266.17" y="201.7" width="5.31" height="3.1" fill="#f2695f" stroke="#b04038" stroke-width="0.6"/>
<line x1="266.17" y1="203" x2="271.48" y2="203" stroke="#9a362f" stroke-width="0.6"/>
<line x1="275.93" y1="205.6" x2="275.93" y2="212.6" stroke="#8c8c8c" stroke-width="0.55"/>
<line x1="274.65" y1="205.6" x2="277.21" y2="205.6" stroke="#8c8c8c" stroke-width="0.55"/>
<rect x="273.27" y="208.2" width="5.31" height="3.6" fill="#22b8c4" stroke="#107680" stroke-width="0.6"/>
<line x1="273.27" y1="209.8" x2="278.58" y2="209.8" stroke="#0f5f66" stroke-width="0.6"/>
<line x1="281.74" y1="184" x2="281.74" y2="208.2" stroke="#8c8c8c" stroke-width="0.55"/>
<line x1="280.46" y1="184" x2="283.02" y2="184" stroke="#8c8c8c" stroke-width="0.55"/>
<line x1="280.46" y1="208.2" x2="283.02" y2="208.2" stroke="#8c8c8c" stroke-width="0.55"/>
<rect x="279.08" y="197.9" width="5.31" height="8.5" fill="#f2695f" stroke="#b04038" stroke-width="0.6"/>
<line x1="279.08" y1="201.7" x2="284.4" y2="201.7" stroke="#9a362f" stroke-width="0.6"/>
<line x1="288.84" y1="209.5" x2="288.84" y2="211" stroke="#8c8c8c" stroke-width="0.55"/>
<rect x="286.19" y="209.5" width="5.31" height="1.5" fill="#22b8c4" stroke="#107680" stroke-width="0.6"/>
<line x1="286.19" y1="210.2" x2="291.5" y2="210.2" stroke="#0f5f66" stroke-width="0.6"/>
<line x1="294.66" y1="197.1" x2="294.66" y2="208.2" stroke="#8c8c8c" stroke-width="0.55"/>
<line x1="293.38" y1="197.1" x2="295.94" y2="197.1" stroke="#8c8c8c" stroke-width="0.55"/>
<line x1="293.38" y1="208.2" x2="295.94" y2="208.2" stroke="#8c8c8c" stroke-width="0.55"/>
<rect x="292" y="200.5" width="5.31" height="5.6" fill="#f2695f" stroke="#b04038" stroke-width="0.6"/>
<line x1="292" y1="203.3" x2="297.31" y2="203.3" stroke="#9a362f" stroke-width="0.6"/>
<line x1="301.76" y1="204.5" x2="301.76" y2="213.3" stroke="#8c8c8c" stroke-width="0.55"/>
<line x1="300.48" y1="204.5" x2="303.04" y2="204.5" stroke="#8c8c8c" stroke-width="0.55"/>
<rect x="299.1" y="207.1" width="5.31" height="5.5" fill="#22b8c4" stroke="#107680" stroke-width="0.6"/>
<line x1="299.1" y1="209.8" x2="304.42" y2="209.8" stroke="#0f5f66" stroke-width="0.6"/>
<line x1="307.57" y1="197.1" x2="307.57" y2="207.1" stroke="#8c8c8c" stroke-width="0.55"/>
<rect x="304.92" y="197.9" width="5.31" height="8.5" fill="#f2695f" stroke="#b04038" stroke-width="0.6"/>
<line x1="304.92" y1="202" x2="310.23" y2="202" stroke="#9a362f" stroke-width="0.6"/>
<line x1="314.68" y1="204.8" x2="314.68" y2="211.8" stroke="#8c8c8c" stroke-width="0.55"/>
<line x1="313.4" y1="204.8" x2="315.96" y2="204.8" stroke="#8c8c8c" stroke-width="0.55"/>
<line x1="313.4" y1="211.8" x2="315.96" y2="211.8" stroke="#8c8c8c" stroke-width="0.55"/>
<rect x="312.02" y="207.1" width="5.31" height="3.6" fill="#22b8c4" stroke="#107680" stroke-width="0.6"/>
<line x1="312.02" y1="208.7" x2="317.33" y2="208.7" stroke="#0f5f66" stroke-width="0.6"/>
<line x1="320.49" y1="197.1" x2="320.49" y2="204.5" stroke="#8a8a8a" stroke-width="0.6"/>
<line x1="319.04" y1="197.1" x2="321.94" y2="197.1" stroke="#8a8a8a" stroke-width="0.6"/>
<line x1="319.04" y1="204.5" x2="321.94" y2="204.5" stroke="#8a8a8a" stroke-width="0.6"/>
<line x1="317.78" y1="199.4" x2="323.2" y2="199.4" stroke="#666" stroke-width="0.8"/>
<line x1="327.59" y1="209.8" x2="327.59" y2="240.7" stroke="#8c8c8c" stroke-width="0.55"/>
<line x1="326.31" y1="209.8" x2="328.87" y2="209.8" stroke="#8c8c8c" stroke-width="0.55"/>
<rect x="324.94" y="228" width="5.31" height="12.7" fill="#22b8c4" stroke="#107680" stroke-width="0.6"/>
<line x1="324.94" y1="238" x2="330.25" y2="238" stroke="#0f5f66" stroke-width="0.6"/>
<line x1="333.41" y1="166" x2="333.41" y2="232.3" stroke="#8c8c8c" stroke-width="0.55"/>
<line x1="332.13" y1="166" x2="334.69" y2="166" stroke="#8c8c8c" stroke-width="0.55"/>
<line x1="332.13" y1="232.3" x2="334.69" y2="232.3" stroke="#8c8c8c" stroke-width="0.55"/>
<rect x="330.75" y="188.1" width="5.31" height="18" fill="#f2695f" stroke="#b04038" stroke-width="0.6"/>
<line x1="330.75" y1="195.9" x2="336.06" y2="195.9" stroke="#9a362f" stroke-width="0.6"/>
<circle cx="294.66" cy="189" r="0.7" fill="#333"/>
<circle cx="307.57" cy="186.3" r="0.7" fill="#333"/>
<circle cx="327.59" cy="204.5" r="0.7" fill="#333"/>
<path d="M244.4,240.7 V166 H339.4 V240.7 M243.9,240.7 H339.9" fill="none" stroke="#2b2b2b" stroke-width="0.95"/>
<line x1="241.4" y1="166" x2="244.4" y2="166" stroke="#2b2b2b" stroke-width="0.9"/>
<text transform="translate(240.4,168.25) scale(0.85,1)" class="tk" text-anchor="end">10</text>
<line x1="241.4" y1="203.35" x2="244.4" y2="203.35" stroke="#2b2b2b" stroke-width="0.9"/>
<text transform="translate(240.4,205.6) scale(0.85,1)" class="tk" text-anchor="end">5</text>
<line x1="241.4" y1="240.7" x2="244.4" y2="240.7" stroke="#2b2b2b" stroke-width="0.9"/>
<text transform="translate(240.4,242.95) scale(0.85,1)" class="tk" text-anchor="end">0</text>
<line x1="253" y1="240.7" x2="253" y2="243.7" stroke="#2b2b2b" stroke-width="0.9"/>
<text transform="translate(255.9,248.5) rotate(-45)" class="xl" text-anchor="end">GSE14407</text>
<line x1="265.92" y1="240.7" x2="265.92" y2="243.7" stroke="#2b2b2b" stroke-width="0.9"/>
<text transform="translate(268.82,248.5) rotate(-45)" class="xl" text-anchor="end">GSE18520</text>
<line x1="278.83" y1="240.7" x2="278.83" y2="243.7" stroke="#2b2b2b" stroke-width="0.9"/>
<text transform="translate(281.73,248.5) rotate(-45)" class="xl" text-anchor="end">GSE38666</text>
<line x1="291.75" y1="240.7" x2="291.75" y2="243.7" stroke="#2b2b2b" stroke-width="0.9"/>
<text transform="translate(294.65,248.5) rotate(-45)" class="xl" text-anchor="end">GSE40595</text>
<line x1="304.67" y1="240.7" x2="304.67" y2="243.7" stroke="#2b2b2b" stroke-width="0.9"/>
<text transform="translate(307.57,248.5) rotate(-45)" class="xl" text-anchor="end">GSE52037</text>
<line x1="317.58" y1="240.7" x2="317.58" y2="243.7" stroke="#2b2b2b" stroke-width="0.9"/>
<text transform="translate(320.48,248.5) rotate(-45)" class="xl" text-anchor="end">GSE23391</text>
<line x1="330.5" y1="240.7" x2="330.5" y2="243.7" stroke="#2b2b2b" stroke-width="0.9"/>
<text transform="translate(333.4,248.5) rotate(-45)" class="xl" text-anchor="end">GEPIA</text>
<text x="292.6" y="162.4" class="tt" text-anchor="middle">LINC01977</text>
<line x1="423.5" y1="166" x2="423.5" y2="240.7" stroke="#7a7a7a" stroke-width="0.75" stroke-dasharray="1,1"/>
<line x1="358.12" y1="213" x2="358.12" y2="219.5" stroke="#8c8c8c" stroke-width="0.55"/>
<line x1="356.99" y1="213" x2="359.26" y2="213" stroke="#8c8c8c" stroke-width="0.55"/>
<line x1="356.99" y1="219.5" x2="359.26" y2="219.5" stroke="#8c8c8c" stroke-width="0.55"/>
<rect x="355.79" y="214.1" width="4.66" height="3.4" fill="#22b8c4" stroke="#107680" stroke-width="0.6"/>
<line x1="355.79" y1="215.6" x2="360.45" y2="215.6" stroke="#0f5f66" stroke-width="0.6"/>
<line x1="363.28" y1="206.7" x2="363.28" y2="215.5" stroke="#8c8c8c" stroke-width="0.55"/>
<line x1="362.14" y1="206.7" x2="364.41" y2="206.7" stroke="#8c8c8c" stroke-width="0.55"/>
<line x1="362.14" y1="215.5" x2="364.41" y2="215.5" stroke="#8c8c8c" stroke-width="0.55"/>
<rect x="360.95" y="211.3" width="4.66" height="2.8" fill="#f2695f" stroke="#b04038" stroke-width="0.6"/>
<line x1="360.95" y1="212.6" x2="365.61" y2="212.6" stroke="#9a362f" stroke-width="0.6"/>
<line x1="369.58" y1="216" x2="369.58" y2="218" stroke="#8c8c8c" stroke-width="0.55"/>
<rect x="367.25" y="216" width="4.66" height="2" fill="#22b8c4" stroke="#107680" stroke-width="0.6"/>
<line x1="367.25" y1="217" x2="371.91" y2="217" stroke="#0f5f66" stroke-width="0.6"/>
<line x1="374.74" y1="203" x2="374.74" y2="216.4" stroke="#8c8c8c" stroke-width="0.55"/>
<line x1="373.6" y1="203" x2="375.87" y2="203" stroke="#8c8c8c" stroke-width="0.55"/>
<line x1="373.6" y1="216.4" x2="375.87" y2="216.4" stroke="#8c8c8c" stroke-width="0.55"/>
<rect x="372.41" y="208.7" width="4.66" height="4.6" fill="#f2695f" stroke="#b04038" stroke-width="0.6"/>
<line x1="372.41" y1="211" x2="377.06" y2="211" stroke="#9a362f" stroke-width="0.6"/>
<line x1="381.04" y1="208.2" x2="381.04" y2="214.1" stroke="#8c8c8c" stroke-width="0.55"/>
<line x1="379.9" y1="208.2" x2="382.17" y2="208.2" stroke="#8c8c8c" stroke-width="0.55"/>
<line x1="379.9" y1="214.1" x2="382.17" y2="214.1" stroke="#8c8c8c" stroke-width="0.55"/>
<rect x="378.71" y="209.1" width="4.66" height="3.5" fill="#22b8c4" stroke="#107680" stroke-width="0.6"/>
<line x1="378.71" y1="210.2" x2="383.36" y2="210.2" stroke="#0f5f66" stroke-width="0.6"/>
<line x1="386.19" y1="201.7" x2="386.19" y2="210.2" stroke="#8c8c8c" stroke-width="0.55"/>
<line x1="385.06" y1="201.7" x2="387.33" y2="201.7" stroke="#8c8c8c" stroke-width="0.55"/>
<line x1="385.06" y1="210.2" x2="387.33" y2="210.2" stroke="#8c8c8c" stroke-width="0.55"/>
<rect x="383.86" y="205.6" width="4.66" height="3.5" fill="#f2695f" stroke="#b04038" stroke-width="0.6"/>
<line x1="383.86" y1="207.1" x2="388.52" y2="207.1" stroke="#9a362f" stroke-width="0.6"/>
<line x1="392.49" y1="212.2" x2="392.49" y2="220.6" stroke="#8c8c8c" stroke-width="0.55"/>
<line x1="391.36" y1="212.2" x2="393.63" y2="212.2" stroke="#8c8c8c" stroke-width="0.55"/>
<rect x="390.17" y="216.4" width="4.66" height="3.6" fill="#22b8c4" stroke="#107680" stroke-width="0.6"/>
<line x1="390.17" y1="218" x2="394.82" y2="218" stroke="#0f5f66" stroke-width="0.6"/>
<line x1="397.65" y1="203.3" x2="397.65" y2="216.9" stroke="#8c8c8c" stroke-width="0.55"/>
<line x1="396.52" y1="203.3" x2="398.78" y2="203.3" stroke="#8c8c8c" stroke-width="0.55"/>
<line x1="396.52" y1="216.9" x2="398.78" y2="216.9" stroke="#8c8c8c" stroke-width="0.55"/>
<rect x="395.32" y="210.2" width="4.66" height="4.2" fill="#f2695f" stroke="#b04038" stroke-width="0.6"/>
<line x1="395.32" y1="212.2" x2="399.98" y2="212.2" stroke="#9a362f" stroke-width="0.6"/>
<line x1="403.95" y1="207.6" x2="403.95" y2="213.3" stroke="#8c8c8c" stroke-width="0.55"/>
<line x1="402.82" y1="207.6" x2="405.08" y2="207.6" stroke="#8c8c8c" stroke-width="0.55"/>
<rect x="401.62" y="208.7" width="4.66" height="4.2" fill="#22b8c4" stroke="#107680" stroke-width="0.6"/>
<line x1="401.62" y1="210.2" x2="406.28" y2="210.2" stroke="#0f5f66" stroke-width="0.6"/>
<line x1="409.11" y1="201" x2="409.11" y2="208.7" stroke="#8c8c8c" stroke-width="0.55"/>
<line x1="407.97" y1="201" x2="410.24" y2="201" stroke="#8c8c8c" stroke-width="0.55"/>
<line x1="407.97" y1="208.7" x2="410.24" y2="208.7" stroke="#8c8c8c" stroke-width="0.55"/>
<rect x="406.78" y="204" width="4.66" height="2.7" fill="#f2695f" stroke="#b04038" stroke-width="0.6"/>
<line x1="406.78" y1="205.1" x2="411.43" y2="205.1" stroke="#9a362f" stroke-width="0.6"/>
<line x1="415.41" y1="216" x2="415.41" y2="218" stroke="#8c8c8c" stroke-width="0.55"/>
<rect x="413.08" y="216" width="4.66" height="2" fill="#22b8c4" stroke="#107680" stroke-width="0.6"/>
<line x1="413.08" y1="217" x2="417.74" y2="217" stroke="#0f5f66" stroke-width="0.6"/>
<line x1="420.56" y1="205.6" x2="420.56" y2="216.4" stroke="#8c8c8c" stroke-width="0.55"/>
<line x1="419.43" y1="205.6" x2="421.7" y2="205.6" stroke="#8c8c8c" stroke-width="0.55"/>
<line x1="419.43" y1="216.4" x2="421.7" y2="216.4" stroke="#8c8c8c" stroke-width="0.55"/>
<rect x="418.24" y="208.7" width="4.66" height="5.1" fill="#f2695f" stroke="#b04038" stroke-width="0.6"/>
<line x1="418.24" y1="211.3" x2="422.89" y2="211.3" stroke="#9a362f" stroke-width="0.6"/>
<line x1="426.87" y1="204" x2="426.87" y2="234.2" stroke="#8c8c8c" stroke-width="0.55"/>
<line x1="425.73" y1="204" x2="428" y2="204" stroke="#8c8c8c" stroke-width="0.55"/>
<line x1="425.73" y1="234.2" x2="428" y2="234.2" stroke="#8c8c8c" stroke-width="0.55"/>
<rect x="424.54" y="210.7" width="4.66" height="6.8" fill="#22b8c4" stroke="#107680" stroke-width="0.6"/>
<line x1="424.54" y1="214.1" x2="429.19" y2="214.1" stroke="#0f5f66" stroke-width="0.6"/>
<line x1="432.02" y1="187" x2="432.02" y2="224.1" stroke="#8c8c8c" stroke-width="0.55"/>
<line x1="430.89" y1="187" x2="433.15" y2="187" stroke="#8c8c8c" stroke-width="0.55"/>
<line x1="430.89" y1="224.1" x2="433.15" y2="224.1" stroke="#8c8c8c" stroke-width="0.55"/>
<rect x="429.69" y="197.1" width="4.66" height="8.5" fill="#f2695f" stroke="#b04038" stroke-width="0.6"/>
<line x1="429.69" y1="201" x2="434.35" y2="201" stroke="#9a362f" stroke-width="0.6"/>
<line x1="438.32" y1="213.3" x2="438.32" y2="219.5" stroke="#8c8c8c" stroke-width="0.55"/>
<rect x="435.99" y="213.8" width="4.66" height="4.9" fill="#22b8c4" stroke="#107680" stroke-width="0.6"/>
<line x1="435.99" y1="216" x2="440.65" y2="216" stroke="#0f5f66" stroke-width="0.6"/>
<line x1="443.48" y1="207.1" x2="443.48" y2="219.5" stroke="#8c8c8c" stroke-width="0.55"/>
<line x1="442.34" y1="207.1" x2="444.61" y2="207.1" stroke="#8c8c8c" stroke-width="0.55"/>
<line x1="442.34" y1="219.5" x2="444.61" y2="219.5" stroke="#8c8c8c" stroke-width="0.55"/>
<rect x="441.15" y="210.2" width="4.66" height="6.7" fill="#f2695f" stroke="#b04038" stroke-width="0.6"/>
<line x1="441.15" y1="213.3" x2="445.81" y2="213.3" stroke="#9a362f" stroke-width="0.6"/>
<circle cx="426.86" cy="235.7" r="0.7" fill="#333"/>
<circle cx="432.02" cy="181.6" r="0.7" fill="#333"/>
<path d="M353.4,240.7 V166 H448.5 V240.7 M352.9,240.7 H449" fill="none" stroke="#2b2b2b" stroke-width="0.95"/>
<line x1="350.4" y1="166" x2="353.4" y2="166" stroke="#2b2b2b" stroke-width="0.9"/>
<text transform="translate(349.4,168.25) scale(0.85,1)" class="tk" text-anchor="end">15</text>
<line x1="350.4" y1="190.9" x2="353.4" y2="190.9" stroke="#2b2b2b" stroke-width="0.9"/>
<text transform="translate(349.4,193.15) scale(0.85,1)" class="tk" text-anchor="end">10</text>
<line x1="350.4" y1="215.8" x2="353.4" y2="215.8" stroke="#2b2b2b" stroke-width="0.9"/>
<text transform="translate(349.4,218.05) scale(0.85,1)" class="tk" text-anchor="end">5</text>
<line x1="350.4" y1="240.7" x2="353.4" y2="240.7" stroke="#2b2b2b" stroke-width="0.9"/>
<text transform="translate(349.4,242.95) scale(0.85,1)" class="tk" text-anchor="end">0</text>
<line x1="448.5" y1="166" x2="451.5" y2="166" stroke="#2b2b2b" stroke-width="0.9"/>
<text transform="translate(452.7,168.25) scale(0.85,1)" class="tk">15</text>
<line x1="448.5" y1="190.9" x2="451.5" y2="190.9" stroke="#2b2b2b" stroke-width="0.9"/>
<text transform="translate(452.7,193.15) scale(0.85,1)" class="tk">10</text>
<line x1="448.5" y1="215.8" x2="451.5" y2="215.8" stroke="#2b2b2b" stroke-width="0.9"/>
<text transform="translate(452.7,218.05) scale(0.85,1)" class="tk">5</text>
<line x1="448.5" y1="240.7" x2="451.5" y2="240.7" stroke="#2b2b2b" stroke-width="0.9"/>
<text transform="translate(452.7,242.95) scale(0.85,1)" class="tk">0</text>
<text transform="translate(460.7,203.35) rotate(90)" class="ax" text-anchor="middle">Log<tspan font-size="4.6" dy="1.6">2</tspan><tspan dy="-1.6"> (Counts + 1)</tspan></text>
<line x1="360.7" y1="240.7" x2="360.7" y2="243.7" stroke="#2b2b2b" stroke-width="0.9"/>
<text transform="translate(363.6,248.5) rotate(-45)" class="xl" text-anchor="end">GSE14407</text>
<line x1="372.16" y1="240.7" x2="372.16" y2="243.7" stroke="#2b2b2b" stroke-width="0.9"/>
<text transform="translate(375.06,248.5) rotate(-45)" class="xl" text-anchor="end">GSE18520</text>
<line x1="383.61" y1="240.7" x2="383.61" y2="243.7" stroke="#2b2b2b" stroke-width="0.9"/>
<text transform="translate(386.51,248.5) rotate(-45)" class="xl" text-anchor="end">GSE38666</text>
<line x1="395.07" y1="240.7" x2="395.07" y2="243.7" stroke="#2b2b2b" stroke-width="0.9"/>
<text transform="translate(397.97,248.5) rotate(-45)" class="xl" text-anchor="end">GSE40595</text>
<line x1="406.53" y1="240.7" x2="406.53" y2="243.7" stroke="#2b2b2b" stroke-width="0.9"/>
<text transform="translate(409.43,248.5) rotate(-45)" class="xl" text-anchor="end">GSE52037</text>
<line x1="417.99" y1="240.7" x2="417.99" y2="243.7" stroke="#2b2b2b" stroke-width="0.9"/>
<text transform="translate(420.89,248.5) rotate(-45)" class="xl" text-anchor="end">GSE54388</text>
<line x1="429.44" y1="240.7" x2="429.44" y2="243.7" stroke="#2b2b2b" stroke-width="0.9"/>
<text transform="translate(432.34,248.5) rotate(-45)" class="xl" text-anchor="end">GEPIA</text>
<line x1="440.9" y1="240.7" x2="440.9" y2="243.7" stroke="#2b2b2b" stroke-width="0.9"/>
<text transform="translate(443.8,248.5) rotate(-45)" class="xl" text-anchor="end">GSE190688</text>
<text x="401.65" y="162.4" class="tt" text-anchor="middle">LINC01770</text>
<line x1="102.5" y1="317" x2="102.5" y2="391.5" stroke="#7a7a7a" stroke-width="0.75" stroke-dasharray="1,1"/>
<line x1="30.53" y1="343.2" x2="30.53" y2="361" stroke="#8c8c8c" stroke-width="0.55"/>
<line x1="29.7" y1="343.2" x2="31.35" y2="343.2" stroke="#8c8c8c" stroke-width="0.55"/>
<line x1="29.7" y1="361" x2="31.35" y2="361" stroke="#8c8c8c" stroke-width="0.55"/>
<rect x="28.9" y="347.9" width="3.25" height="6.1" fill="#22b8c4" stroke="#107680" stroke-width="0.6"/>
<line x1="28.9" y1="350.5" x2="32.15" y2="350.5" stroke="#0f5f66" stroke-width="0.6"/>
<line x1="34.27" y1="351.4" x2="34.27" y2="362.5" stroke="#8c8c8c" stroke-width="0.55"/>
<line x1="33.45" y1="351.4" x2="35.1" y2="351.4" stroke="#8c8c8c" stroke-width="0.55"/>
<line x1="33.45" y1="362.5" x2="35.1" y2="362.5" stroke="#8c8c8c" stroke-width="0.55"/>
<rect x="32.65" y="353.3" width="3.25" height="5.4" fill="#f2695f" stroke="#b04038" stroke-width="0.6"/>
<line x1="32.65" y1="355.6" x2="35.9" y2="355.6" stroke="#9a362f" stroke-width="0.6"/>
<line x1="38.86" y1="346" x2="38.86" y2="352.5" stroke="#8c8c8c" stroke-width="0.55"/>
<line x1="38.03" y1="346" x2="39.68" y2="346" stroke="#8c8c8c" stroke-width="0.55"/>
<line x1="38.03" y1="352.5" x2="39.68" y2="352.5" stroke="#8c8c8c" stroke-width="0.55"/>
<rect x="37.23" y="347.4" width="3.25" height="3.6" fill="#22b8c4" stroke="#107680" stroke-width="0.6"/>
<line x1="37.23" y1="349" x2="40.48" y2="349" stroke="#0f5f66" stroke-width="0.6"/>
<line x1="42.6" y1="349.4" x2="42.6" y2="359.8" stroke="#8c8c8c" stroke-width="0.55"/>
<line x1="41.78" y1="349.4" x2="43.43" y2="349.4" stroke="#8c8c8c" stroke-width="0.55"/>
<line x1="41.78" y1="359.8" x2="43.43" y2="359.8" stroke="#8c8c8c" stroke-width="0.55"/>
<rect x="40.98" y="351.7" width="3.25" height="4.4" fill="#f2695f" stroke="#b04038" stroke-width="0.6"/>
<line x1="40.98" y1="354" x2="44.23" y2="354" stroke="#9a362f" stroke-width="0.6"/>
<line x1="47.19" y1="342.5" x2="47.19" y2="348.6" stroke="#8c8c8c" stroke-width="0.55"/>
<line x1="46.36" y1="342.5" x2="48.01" y2="342.5" stroke="#8c8c8c" stroke-width="0.55"/>
<line x1="46.36" y1="348.6" x2="48.01" y2="348.6" stroke="#8c8c8c" stroke-width="0.55"/>
<rect x="45.56" y="343.7" width="3.25" height="3.7" fill="#22b8c4" stroke="#107680" stroke-width="0.6"/>
<line x1="45.56" y1="345.5" x2="48.81" y2="345.5" stroke="#0f5f66" stroke-width="0.6"/>
<line x1="50.93" y1="347.9" x2="50.93" y2="361" stroke="#8c8c8c" stroke-width="0.55"/>
<line x1="50.11" y1="347.9" x2="51.76" y2="347.9" stroke="#8c8c8c" stroke-width="0.55"/>
<line x1="50.11" y1="361" x2="51.76" y2="361" stroke="#8c8c8c" stroke-width="0.55"/>
<rect x="49.31" y="349.4" width="3.25" height="4.2" fill="#f2695f" stroke="#b04038" stroke-width="0.6"/>
<line x1="49.31" y1="351.4" x2="52.56" y2="351.4" stroke="#9a362f" stroke-width="0.6"/>
<line x1="55.52" y1="348.3" x2="55.52" y2="361" stroke="#8c8c8c" stroke-width="0.55"/>
<line x1="54.69" y1="348.3" x2="56.34" y2="348.3" stroke="#8c8c8c" stroke-width="0.55"/>
<line x1="54.69" y1="361" x2="56.34" y2="361" stroke="#8c8c8c" stroke-width="0.55"/>
<rect x="53.89" y="350.5" width="3.25" height="7.1" fill="#22b8c4" stroke="#107680" stroke-width="0.6"/>
<line x1="53.89" y1="354" x2="57.14" y2="354" stroke="#0f5f66" stroke-width="0.6"/>
<line x1="59.26" y1="356.5" x2="59.26" y2="362" stroke="#8c8c8c" stroke-width="0.55"/>
<line x1="58.44" y1="356.5" x2="60.09" y2="356.5" stroke="#8c8c8c" stroke-width="0.55"/>
<rect x="57.64" y="358.2" width="3.25" height="3.1" fill="#f2695f" stroke="#b04038" stroke-width="0.6"/>
<line x1="57.64" y1="359.8" x2="60.89" y2="359.8" stroke="#9a362f" stroke-width="0.6"/>
<line x1="63.85" y1="340.1" x2="63.85" y2="350.5" stroke="#8c8c8c" stroke-width="0.55"/>
<line x1="63.02" y1="340.1" x2="64.67" y2="340.1" stroke="#8c8c8c" stroke-width="0.55"/>
<line x1="63.02" y1="350.5" x2="64.67" y2="350.5" stroke="#8c8c8c" stroke-width="0.55"/>
<rect x="62.22" y="341.2" width="3.25" height="7.4" fill="#22b8c4" stroke="#107680" stroke-width="0.6"/>
<line x1="62.22" y1="344.3" x2="65.47" y2="344.3" stroke="#0f5f66" stroke-width="0.6"/>
<line x1="67.59" y1="345.5" x2="67.59" y2="362.5" stroke="#8c8c8c" stroke-width="0.55"/>
<line x1="66.77" y1="345.5" x2="68.42" y2="345.5" stroke="#8c8c8c" stroke-width="0.55"/>
<line x1="66.77" y1="362.5" x2="68.42" y2="362.5" stroke="#8c8c8c" stroke-width="0.55"/>
<rect x="65.97" y="347.9" width="3.25" height="11.3" fill="#f2695f" stroke="#b04038" stroke-width="0.6"/>
<line x1="65.97" y1="354" x2="69.22" y2="354" stroke="#9a362f" stroke-width="0.6"/>
<line x1="72.18" y1="334.7" x2="72.18" y2="349.9" stroke="#8c8c8c" stroke-width="0.55"/>
<line x1="71.35" y1="334.7" x2="73" y2="334.7" stroke="#8c8c8c" stroke-width="0.55"/>
<line x1="71.35" y1="349.9" x2="73" y2="349.9" stroke="#8c8c8c" stroke-width="0.55"/>
<rect x="70.55" y="336" width="3.25" height="9.5" fill="#22b8c4" stroke="#107680" stroke-width="0.6"/>
<line x1="70.55" y1="340.9" x2="73.8" y2="340.9" stroke="#0f5f66" stroke-width="0.6"/>
<line x1="75.92" y1="342.5" x2="75.92" y2="355.6" stroke="#8c8c8c" stroke-width="0.55"/>
<line x1="75.1" y1="342.5" x2="76.75" y2="342.5" stroke="#8c8c8c" stroke-width="0.55"/>
<line x1="75.1" y1="355.6" x2="76.75" y2="355.6" stroke="#8c8c8c" stroke-width="0.55"/>
<rect x="74.3" y="345.2" width="3.25" height="7.8" fill="#f2695f" stroke="#b04038" stroke-width="0.6"/>
<line x1="74.3" y1="349.9" x2="77.55" y2="349.9" stroke="#9a362f" stroke-width="0.6"/>
<line x1="80.51" y1="346.8" x2="80.51" y2="351" stroke="#8c8c8c" stroke-width="0.55"/>
<rect x="78.88" y="347.1" width="3.25" height="3.4" fill="#22b8c4" stroke="#107680" stroke-width="0.6"/>
<line x1="78.88" y1="348.6" x2="82.13" y2="348.6" stroke="#0f5f66" stroke-width="0.6"/>
<line x1="84.25" y1="351" x2="84.25" y2="356.4" stroke="#8c8c8c" stroke-width="0.55"/>
<rect x="82.63" y="351.7" width="3.25" height="3.9" fill="#f2695f" stroke="#b04038" stroke-width="0.6"/>
<line x1="82.63" y1="353.6" x2="85.88" y2="353.6" stroke="#9a362f" stroke-width="0.6"/>
<line x1="88.84" y1="337.8" x2="88.84" y2="357.1" stroke="#8c8c8c" stroke-width="0.55"/>
<line x1="88.01" y1="337.8" x2="89.66" y2="337.8" stroke="#8c8c8c" stroke-width="0.55"/>
<line x1="88.01" y1="357.1" x2="89.66" y2="357.1" stroke="#8c8c8c" stroke-width="0.55"/>
<rect x="87.21" y="339.1" width="3.25" height="13.4" fill="#22b8c4" stroke="#107680" stroke-width="0.6"/>
<line x1="87.21" y1="340.9" x2="90.46" y2="340.9" stroke="#0f5f66" stroke-width="0.6"/>
<line x1="92.58" y1="336" x2="92.58" y2="367.5" stroke="#8c8c8c" stroke-width="0.55"/>
<line x1="91.76" y1="336" x2="93.41" y2="336" stroke="#8c8c8c" stroke-width="0.55"/>
<line x1="91.76" y1="367.5" x2="93.41" y2="367.5" stroke="#8c8c8c" stroke-width="0.55"/>
<rect x="90.96" y="346.3" width="3.25" height="11.3" fill="#f2695f" stroke="#b04038" stroke-width="0.6"/>
<line x1="90.96" y1="351.7" x2="94.21" y2="351.7" stroke="#9a362f" stroke-width="0.6"/>
<line x1="97.17" y1="337.8" x2="97.17" y2="345.2" stroke="#8c8c8c" stroke-width="0.55"/>
<rect x="95.54" y="338.6" width="3.25" height="6.2" fill="#22b8c4" stroke="#107680" stroke-width="0.6"/>
<line x1="95.54" y1="340.9" x2="98.79" y2="340.9" stroke="#0f5f66" stroke-width="0.6"/>
<line x1="100.91" y1="358.5" x2="100.91" y2="361" stroke="#8a8a8a" stroke-width="0.6"/>
<line x1="99.98" y1="358.5" x2="101.85" y2="358.5" stroke="#8a8a8a" stroke-width="0.6"/>
<line x1="99.98" y1="361" x2="101.85" y2="361" stroke="#8a8a8a" stroke-width="0.6"/>
<line x1="99.24" y1="359.8" x2="102.59" y2="359.8" stroke="#666" stroke-width="0.8"/>
<line x1="105.5" y1="330.1" x2="105.5" y2="376.5" stroke="#8c8c8c" stroke-width="0.55"/>
<line x1="104.67" y1="330.1" x2="106.32" y2="330.1" stroke="#8c8c8c" stroke-width="0.55"/>
<line x1="104.67" y1="376.5" x2="106.32" y2="376.5" stroke="#8c8c8c" stroke-width="0.55"/>
<rect x="103.87" y="359.2" width="3.25" height="8.3" fill="#22b8c4" stroke="#107680" stroke-width="0.6"/>
<line x1="103.87" y1="363.3" x2="107.12" y2="363.3" stroke="#0f5f66" stroke-width="0.6"/>
<line x1="109.24" y1="339.1" x2="109.24" y2="387.3" stroke="#8c8c8c" stroke-width="0.55"/>
<line x1="108.42" y1="339.1" x2="110.07" y2="339.1" stroke="#8c8c8c" stroke-width="0.55"/>
<line x1="108.42" y1="387.3" x2="110.07" y2="387.3" stroke="#8c8c8c" stroke-width="0.55"/>
<rect x="107.62" y="370.6" width="3.25" height="15.1" fill="#f2695f" stroke="#b04038" stroke-width="0.6"/>
<line x1="107.62" y1="377.2" x2="110.87" y2="377.2" stroke="#9a362f" stroke-width="0.6"/>
<line x1="113.83" y1="362.2" x2="113.83" y2="363.8" stroke="#8c8c8c" stroke-width="0.55"/>
<rect x="112.2" y="362.2" width="3.25" height="1.6" fill="#22b8c4" stroke="#107680" stroke-width="0.6"/>
<line x1="112.2" y1="363" x2="115.45" y2="363" stroke="#0f5f66" stroke-width="0.6"/>
<line x1="117.57" y1="381.4" x2="117.57" y2="391.5" stroke="#8c8c8c" stroke-width="0.55"/>
<line x1="116.75" y1="381.4" x2="118.4" y2="381.4" stroke="#8c8c8c" stroke-width="0.55"/>
<rect x="115.95" y="386.5" width="3.25" height="5" fill="#f2695f" stroke="#b04038" stroke-width="0.6"/>
<line x1="115.95" y1="388.8" x2="119.2" y2="388.8" stroke="#9a362f" stroke-width="0.6"/>
<line x1="105.5" y1="340.5" x2="105.5" y2="347" stroke="#555" stroke-width="1.1" stroke-dasharray="0.8,0.6"/>
<circle cx="30.53" cy="366.4" r="0.7" fill="#333"/>
<circle cx="105.5" cy="329.8" r="0.7" fill="#333"/>
<circle cx="105.5" cy="332.4" r="0.7" fill="#333"/>
<path d="M27,391.5 V317.4 H121.5 V391.5 M26.5,391.5 H122" fill="none" stroke="#2b2b2b" stroke-width="0.95"/>
<line x1="24" y1="317.4" x2="27" y2="317.4" stroke="#2b2b2b" stroke-width="0.9"/>
<text transform="translate(23,319.65) scale(0.85,1)" class="tk" text-anchor="end">12</text>
<line x1="24" y1="342.1" x2="27" y2="342.1" stroke="#2b2b2b" stroke-width="0.9"/>
<text transform="translate(23,344.35) scale(0.85,1)" class="tk" text-anchor="end">8</text>
<line x1="24" y1="366.8" x2="27" y2="366.8" stroke="#2b2b2b" stroke-width="0.9"/>
<text transform="translate(23,369.05) scale(0.85,1)" class="tk" text-anchor="end">4</text>
<line x1="24" y1="391.5" x2="27" y2="391.5" stroke="#2b2b2b" stroke-width="0.9"/>
<text transform="translate(23,393.75) scale(0.85,1)" class="tk" text-anchor="end">0</text>
<text transform="translate(14.7,352.85) rotate(-90)" class="ax" text-anchor="middle">Filtered log intensity</text>
<line x1="32.4" y1="391.5" x2="32.4" y2="394.5" stroke="#2b2b2b" stroke-width="0.9"/>
<text transform="translate(35.3,399.3) rotate(-45)" class="xl" text-anchor="end">GSE10971</text>
<line x1="40.73" y1="391.5" x2="40.73" y2="394.5" stroke="#2b2b2b" stroke-width="0.9"/>
<text transform="translate(43.63,399.3) rotate(-45)" class="xl" text-anchor="end">GSE14407</text>
<line x1="49.06" y1="391.5" x2="49.06" y2="394.5" stroke="#2b2b2b" stroke-width="0.9"/>
<text transform="translate(51.96,399.3) rotate(-45)" class="xl" text-anchor="end">GSE18520</text>
<line x1="57.39" y1="391.5" x2="57.39" y2="394.5" stroke="#2b2b2b" stroke-width="0.9"/>
<text transform="translate(60.29,399.3) rotate(-45)" class="xl" text-anchor="end">GSE29450</text>
<line x1="65.72" y1="391.5" x2="65.72" y2="394.5" stroke="#2b2b2b" stroke-width="0.9"/>
<text transform="translate(68.62,399.3) rotate(-45)" class="xl" text-anchor="end">GSE38666</text>
<line x1="74.05" y1="391.5" x2="74.05" y2="394.5" stroke="#2b2b2b" stroke-width="0.9"/>
<text transform="translate(76.95,399.3) rotate(-45)" class="xl" text-anchor="end">GSE52037</text>
<line x1="82.38" y1="391.5" x2="82.38" y2="394.5" stroke="#2b2b2b" stroke-width="0.9"/>
<text transform="translate(85.28,399.3) rotate(-45)" class="xl" text-anchor="end">GSE54388</text>
<line x1="90.71" y1="391.5" x2="90.71" y2="394.5" stroke="#2b2b2b" stroke-width="0.9"/>
<text transform="translate(93.61,399.3) rotate(-45)" class="xl" text-anchor="end">GSE66957</text>
<line x1="99.04" y1="391.5" x2="99.04" y2="394.5" stroke="#2b2b2b" stroke-width="0.9"/>
<text transform="translate(101.94,399.3) rotate(-45)" class="xl" text-anchor="end">GSE23391</text>
<line x1="107.37" y1="391.5" x2="107.37" y2="394.5" stroke="#2b2b2b" stroke-width="0.9"/>
<text transform="translate(110.27,399.3) rotate(-45)" class="xl" text-anchor="end">GEPIA</text>
<line x1="115.7" y1="391.5" x2="115.7" y2="394.5" stroke="#2b2b2b" stroke-width="0.9"/>
<text transform="translate(118.6,399.3) rotate(-45)" class="xl" text-anchor="end">GSE190688</text>
<text x="74.95" y="313.8" class="tt" text-anchor="middle">PGM5-AS1</text>
<line x1="219.5" y1="317" x2="219.5" y2="391.5" stroke="#7a7a7a" stroke-width="0.75" stroke-dasharray="1,1"/>
<line x1="139.94" y1="354.8" x2="139.94" y2="364.9" stroke="#8c8c8c" stroke-width="0.55"/>
<line x1="139.04" y1="354.8" x2="140.85" y2="354.8" stroke="#8c8c8c" stroke-width="0.55"/>
<line x1="139.04" y1="364.9" x2="140.85" y2="364.9" stroke="#8c8c8c" stroke-width="0.55"/>
<rect x="138.14" y="357.9" width="3.61" height="5.4" fill="#22b8c4" stroke="#107680" stroke-width="0.6"/>
<line x1="138.14" y1="360.7" x2="141.75" y2="360.7" stroke="#0f5f66" stroke-width="0.6"/>
<line x1="144.06" y1="362.5" x2="144.06" y2="369.5" stroke="#8c8c8c" stroke-width="0.55"/>
<line x1="143.15" y1="362.5" x2="144.96" y2="362.5" stroke="#8c8c8c" stroke-width="0.55"/>
<line x1="143.15" y1="369.5" x2="144.96" y2="369.5" stroke="#8c8c8c" stroke-width="0.55"/>
<rect x="142.25" y="364.4" width="3.61" height="2.5" fill="#f2695f" stroke="#b04038" stroke-width="0.6"/>
<line x1="142.25" y1="365.6" x2="145.86" y2="365.6" stroke="#9a362f" stroke-width="0.6"/>
<line x1="149.08" y1="346.3" x2="149.08" y2="357.1" stroke="#8c8c8c" stroke-width="0.55"/>
<line x1="148.17" y1="346.3" x2="149.98" y2="346.3" stroke="#8c8c8c" stroke-width="0.55"/>
<line x1="148.17" y1="357.1" x2="149.98" y2="357.1" stroke="#8c8c8c" stroke-width="0.55"/>
<rect x="147.27" y="349.4" width="3.61" height="5.4" fill="#22b8c4" stroke="#107680" stroke-width="0.6"/>
<line x1="147.27" y1="352" x2="150.88" y2="352" stroke="#0f5f66" stroke-width="0.6"/>
<line x1="153.19" y1="357.5" x2="153.19" y2="364.5" stroke="#8c8c8c" stroke-width="0.55"/>
<line x1="152.28" y1="357.5" x2="154.09" y2="357.5" stroke="#8c8c8c" stroke-width="0.55"/>
<line x1="152.28" y1="364.5" x2="154.09" y2="364.5" stroke="#8c8c8c" stroke-width="0.55"/>
<rect x="151.38" y="359.5" width="3.61" height="2.7" fill="#f2695f" stroke="#b04038" stroke-width="0.6"/>
<line x1="151.38" y1="360.7" x2="154.99" y2="360.7" stroke="#9a362f" stroke-width="0.6"/>
<line x1="158.21" y1="353.5" x2="158.21" y2="363.3" stroke="#8c8c8c" stroke-width="0.55"/>
<line x1="157.31" y1="353.5" x2="159.12" y2="353.5" stroke="#8c8c8c" stroke-width="0.55"/>
<line x1="157.31" y1="363.3" x2="159.12" y2="363.3" stroke="#8c8c8c" stroke-width="0.55"/>
<rect x="156.41" y="356.4" width="3.61" height="4.3" fill="#22b8c4" stroke="#107680" stroke-width="0.6"/>
<line x1="156.41" y1="358.7" x2="160.02" y2="358.7" stroke="#0f5f66" stroke-width="0.6"/>
<line x1="162.32" y1="361" x2="162.32" y2="368.4" stroke="#8c8c8c" stroke-width="0.55"/>
<line x1="161.42" y1="361" x2="163.23" y2="361" stroke="#8c8c8c" stroke-width="0.55"/>
<line x1="161.42" y1="368.4" x2="163.23" y2="368.4" stroke="#8c8c8c" stroke-width="0.55"/>
<rect x="160.52" y="363.3" width="3.61" height="2.3" fill="#f2695f" stroke="#b04038" stroke-width="0.6"/>
<line x1="160.52" y1="364.4" x2="164.13" y2="364.4" stroke="#9a362f" stroke-width="0.6"/>
<line x1="167.34" y1="350.5" x2="167.34" y2="359.2" stroke="#8c8c8c" stroke-width="0.55"/>
<line x1="166.44" y1="350.5" x2="168.25" y2="350.5" stroke="#8c8c8c" stroke-width="0.55"/>
<line x1="166.44" y1="359.2" x2="168.25" y2="359.2" stroke="#8c8c8c" stroke-width="0.55"/>
<rect x="165.54" y="352.5" width="3.61" height="4.2" fill="#22b8c4" stroke="#107680" stroke-width="0.6"/>
<line x1="165.54" y1="354.5" x2="169.15" y2="354.5" stroke="#0f5f66" stroke-width="0.6"/>
<line x1="171.46" y1="359.5" x2="171.46" y2="369.5" stroke="#8c8c8c" stroke-width="0.55"/>
<line x1="170.55" y1="359.5" x2="172.36" y2="359.5" stroke="#8c8c8c" stroke-width="0.55"/>
<line x1="170.55" y1="369.5" x2="172.36" y2="369.5" stroke="#8c8c8c" stroke-width="0.55"/>
<rect x="169.65" y="364.9" width="3.61" height="2.6" fill="#f2695f" stroke="#b04038" stroke-width="0.6"/>
<line x1="169.65" y1="366.2" x2="173.26" y2="366.2" stroke="#9a362f" stroke-width="0.6"/>
<line x1="176.48" y1="351.4" x2="176.48" y2="360.2" stroke="#8c8c8c" stroke-width="0.55"/>
<line x1="175.57" y1="351.4" x2="177.38" y2="351.4" stroke="#8c8c8c" stroke-width="0.55"/>
<line x1="175.57" y1="360.2" x2="177.38" y2="360.2" stroke="#8c8c8c" stroke-width="0.55"/>
<rect x="174.67" y="354" width="3.61" height="4.7" fill="#22b8c4" stroke="#107680" stroke-width="0.6"/>
<line x1="174.67" y1="356.4" x2="178.28" y2="356.4" stroke="#0f5f66" stroke-width="0.6"/>
<line x1="180.59" y1="359.2" x2="180.59" y2="364" stroke="#8c8c8c" stroke-width="0.55"/>
<line x1="179.68" y1="359.2" x2="181.49" y2="359.2" stroke="#8c8c8c" stroke-width="0.55"/>
<rect x="178.78" y="361" width="3.61" height="2.3" fill="#f2695f" stroke="#b04038" stroke-width="0.6"/>
<line x1="178.78" y1="362.2" x2="182.39" y2="362.2" stroke="#9a362f" stroke-width="0.6"/>
<line x1="185.61" y1="353.3" x2="185.61" y2="361" stroke="#8c8c8c" stroke-width="0.55"/>
<line x1="184.71" y1="353.3" x2="186.52" y2="353.3" stroke="#8c8c8c" stroke-width="0.55"/>
<line x1="184.71" y1="361" x2="186.52" y2="361" stroke="#8c8c8c" stroke-width="0.55"/>
<rect x="183.81" y="355.1" width="3.61" height="4.7" fill="#22b8c4" stroke="#107680" stroke-width="0.6"/>
<line x1="183.81" y1="357.1" x2="187.42" y2="357.1" stroke="#0f5f66" stroke-width="0.6"/>
<line x1="189.72" y1="364" x2="189.72" y2="369.5" stroke="#8c8c8c" stroke-width="0.55"/>
<line x1="188.82" y1="364" x2="190.63" y2="364" stroke="#8c8c8c" stroke-width="0.55"/>
<line x1="188.82" y1="369.5" x2="190.63" y2="369.5" stroke="#8c8c8c" stroke-width="0.55"/>
<rect x="187.92" y="364.9" width="3.61" height="3.5" fill="#f2695f" stroke="#b04038" stroke-width="0.6"/>
<line x1="187.92" y1="366.9" x2="191.53" y2="366.9" stroke="#9a362f" stroke-width="0.6"/>
<line x1="194.75" y1="342.1" x2="194.75" y2="343.2" stroke="#8c8c8c" stroke-width="0.55"/>
<rect x="192.94" y="342.1" width="3.61" height="1.1" fill="#22b8c4" stroke="#107680" stroke-width="0.6"/>
<line x1="192.94" y1="342.6" x2="196.55" y2="342.6" stroke="#0f5f66" stroke-width="0.6"/>
<line x1="198.86" y1="347.1" x2="198.86" y2="362.5" stroke="#8c8c8c" stroke-width="0.55"/>
<line x1="197.95" y1="347.1" x2="199.76" y2="347.1" stroke="#8c8c8c" stroke-width="0.55"/>
<line x1="197.95" y1="362.5" x2="199.76" y2="362.5" stroke="#8c8c8c" stroke-width="0.55"/>
<rect x="197.05" y="350.5" width="3.61" height="9.3" fill="#f2695f" stroke="#b04038" stroke-width="0.6"/>
<line x1="197.05" y1="357.1" x2="200.66" y2="357.1" stroke="#9a362f" stroke-width="0.6"/>
<line x1="203.88" y1="347.1" x2="203.88" y2="354.5" stroke="#8c8c8c" stroke-width="0.55"/>
<line x1="202.97" y1="354.5" x2="204.78" y2="354.5" stroke="#8c8c8c" stroke-width="0.55"/>
<rect x="202.07" y="347.9" width="3.61" height="5.7" fill="#22b8c4" stroke="#107680" stroke-width="0.6"/>
<line x1="202.07" y1="350.5" x2="205.68" y2="350.5" stroke="#0f5f66" stroke-width="0.6"/>
<line x1="207.99" y1="359.8" x2="207.99" y2="361" stroke="#8c8c8c" stroke-width="0.55"/>
<rect x="206.18" y="359.8" width="3.61" height="1.2" fill="#f2695f" stroke="#b04038" stroke-width="0.6"/>
<line x1="206.18" y1="360.4" x2="209.79" y2="360.4" stroke="#9a362f" stroke-width="0.6"/>
<line x1="213.01" y1="354" x2="213.01" y2="362.5" stroke="#8c8c8c" stroke-width="0.55"/>
<line x1="212.11" y1="354" x2="213.92" y2="354" stroke="#8c8c8c" stroke-width="0.55"/>
<line x1="212.11" y1="362.5" x2="213.92" y2="362.5" stroke="#8c8c8c" stroke-width="0.55"/>
<rect x="211.21" y="356.7" width="3.61" height="3.5" fill="#22b8c4" stroke="#107680" stroke-width="0.6"/>
<line x1="211.21" y1="358.2" x2="214.82" y2="358.2" stroke="#0f5f66" stroke-width="0.6"/>
<line x1="217.12" y1="361" x2="217.12" y2="370.6" stroke="#8c8c8c" stroke-width="0.55"/>
<line x1="216.22" y1="361" x2="218.03" y2="361" stroke="#8c8c8c" stroke-width="0.55"/>
<rect x="215.32" y="364.4" width="3.61" height="5.6" fill="#f2695f" stroke="#b04038" stroke-width="0.6"/>
<line x1="215.32" y1="367.2" x2="218.93" y2="367.2" stroke="#9a362f" stroke-width="0.6"/>
<line x1="222.14" y1="331.6" x2="222.14" y2="348.6" stroke="#8c8c8c" stroke-width="0.55"/>
<line x1="221.24" y1="331.6" x2="223.05" y2="331.6" stroke="#8c8c8c" stroke-width="0.55"/>
<line x1="221.24" y1="348.6" x2="223.05" y2="348.6" stroke="#8c8c8c" stroke-width="0.55"/>
<rect x="220.34" y="337.5" width="3.61" height="4.6" fill="#22b8c4" stroke="#107680" stroke-width="0.6"/>
<line x1="220.34" y1="339.7" x2="223.95" y2="339.7" stroke="#0f5f66" stroke-width="0.6"/>
<line x1="226.25" y1="338.6" x2="226.25" y2="374.6" stroke="#8c8c8c" stroke-width="0.55"/>
<line x1="225.35" y1="338.6" x2="227.16" y2="338.6" stroke="#8c8c8c" stroke-width="0.55"/>
<line x1="225.35" y1="374.6" x2="227.16" y2="374.6" stroke="#8c8c8c" stroke-width="0.55"/>
<rect x="224.45" y="349.4" width="3.61" height="8.8" fill="#f2695f" stroke="#b04038" stroke-width="0.6"/>
<line x1="224.45" y1="353.6" x2="228.06" y2="353.6" stroke="#9a362f" stroke-width="0.6"/>
<path d="M135.4,391.5 V317.4 H230.5 V391.5 M134.9,391.5 H231" fill="none" stroke="#2b2b2b" stroke-width="0.95"/>
<line x1="132.4" y1="317.4" x2="135.4" y2="317.4" stroke="#2b2b2b" stroke-width="0.9"/>
<text transform="translate(131.4,319.65) scale(0.85,1)" class="tk" text-anchor="end">15</text>
<line x1="132.4" y1="342.1" x2="135.4" y2="342.1" stroke="#2b2b2b" stroke-width="0.9"/>
<text transform="translate(131.4,344.35) scale(0.85,1)" class="tk" text-anchor="end">10</text>
<line x1="132.4" y1="366.8" x2="135.4" y2="366.8" stroke="#2b2b2b" stroke-width="0.9"/>
<text transform="translate(131.4,369.05) scale(0.85,1)" class="tk" text-anchor="end">5</text>
<line x1="132.4" y1="391.5" x2="135.4" y2="391.5" stroke="#2b2b2b" stroke-width="0.9"/>
<text transform="translate(131.4,393.75) scale(0.85,1)" class="tk" text-anchor="end">0</text>
<line x1="142" y1="391.5" x2="142" y2="394.5" stroke="#2b2b2b" stroke-width="0.9"/>
<text transform="translate(144.9,399.3) rotate(-45)" class="xl" text-anchor="end">GSE14407</text>
<line x1="151.13" y1="391.5" x2="151.13" y2="394.5" stroke="#2b2b2b" stroke-width="0.9"/>
<text transform="translate(154.03,399.3) rotate(-45)" class="xl" text-anchor="end">GSE18520</text>
<line x1="160.27" y1="391.5" x2="160.27" y2="394.5" stroke="#2b2b2b" stroke-width="0.9"/>
<text transform="translate(163.17,399.3) rotate(-45)" class="xl" text-anchor="end">GSE38666</text>
<line x1="169.4" y1="391.5" x2="169.4" y2="394.5" stroke="#2b2b2b" stroke-width="0.9"/>
<text transform="translate(172.3,399.3) rotate(-45)" class="xl" text-anchor="end">GSE40595</text>
<line x1="178.53" y1="391.5" x2="178.53" y2="394.5" stroke="#2b2b2b" stroke-width="0.9"/>
<text transform="translate(181.43,399.3) rotate(-45)" class="xl" text-anchor="end">GSE52037</text>
<line x1="187.67" y1="391.5" x2="187.67" y2="394.5" stroke="#2b2b2b" stroke-width="0.9"/>
<text transform="translate(190.57,399.3) rotate(-45)" class="xl" text-anchor="end">GSE54388</text>
<line x1="196.8" y1="391.5" x2="196.8" y2="394.5" stroke="#2b2b2b" stroke-width="0.9"/>
<text transform="translate(199.7,399.3) rotate(-45)" class="xl" text-anchor="end">GSE119054</text>
<line x1="205.93" y1="391.5" x2="205.93" y2="394.5" stroke="#2b2b2b" stroke-width="0.9"/>
<text transform="translate(208.83,399.3) rotate(-45)" class="xl" text-anchor="end">GSE23391</text>
<line x1="215.07" y1="391.5" x2="215.07" y2="394.5" stroke="#2b2b2b" stroke-width="0.9"/>
<text transform="translate(217.97,399.3) rotate(-45)" class="xl" text-anchor="end">GSE27651</text>
<line x1="224.2" y1="391.5" x2="224.2" y2="394.5" stroke="#2b2b2b" stroke-width="0.9"/>
<text transform="translate(227.1,399.3) rotate(-45)" class="xl" text-anchor="end">GEPIA</text>
<text x="183.65" y="313.8" class="tt" text-anchor="middle">NR2F1-AS1</text>
<line x1="319.5" y1="317" x2="319.5" y2="391.5" stroke="#7a7a7a" stroke-width="0.75" stroke-dasharray="1,1"/>
<line x1="248.13" y1="341.7" x2="248.13" y2="372.6" stroke="#8c8c8c" stroke-width="0.55"/>
<line x1="247.31" y1="341.7" x2="248.95" y2="341.7" stroke="#8c8c8c" stroke-width="0.55"/>
<line x1="247.31" y1="372.6" x2="248.95" y2="372.6" stroke="#8c8c8c" stroke-width="0.55"/>
<rect x="246.51" y="354.5" width="3.24" height="8.8" fill="#22b8c4" stroke="#107680" stroke-width="0.6"/>
<line x1="246.51" y1="358.7" x2="249.75" y2="358.7" stroke="#0f5f66" stroke-width="0.6"/>
<line x1="251.87" y1="351.4" x2="251.87" y2="372.6" stroke="#8c8c8c" stroke-width="0.55"/>
<line x1="251.05" y1="351.4" x2="252.69" y2="351.4" stroke="#8c8c8c" stroke-width="0.55"/>
<line x1="251.05" y1="372.6" x2="252.69" y2="372.6" stroke="#8c8c8c" stroke-width="0.55"/>
<rect x="250.25" y="362.2" width="3.24" height="8.4" fill="#f2695f" stroke="#b04038" stroke-width="0.6"/>
<line x1="250.25" y1="366.4" x2="253.49" y2="366.4" stroke="#9a362f" stroke-width="0.6"/>
<line x1="256.43" y1="328.2" x2="256.43" y2="338.6" stroke="#8c8c8c" stroke-width="0.55"/>
<line x1="255.61" y1="328.2" x2="257.25" y2="328.2" stroke="#8c8c8c" stroke-width="0.55"/>
<line x1="255.61" y1="338.6" x2="257.25" y2="338.6" stroke="#8c8c8c" stroke-width="0.55"/>
<rect x="254.81" y="332" width="3.24" height="4.6" fill="#22b8c4" stroke="#107680" stroke-width="0.6"/>
<line x1="254.81" y1="334.4" x2="258.05" y2="334.4" stroke="#0f5f66" stroke-width="0.6"/>
<line x1="260.17" y1="333.2" x2="260.17" y2="346.3" stroke="#8c8c8c" stroke-width="0.55"/>
<line x1="259.35" y1="333.2" x2="260.99" y2="333.2" stroke="#8c8c8c" stroke-width="0.55"/>
<line x1="259.35" y1="346.3" x2="260.99" y2="346.3" stroke="#8c8c8c" stroke-width="0.55"/>
<rect x="258.55" y="335.5" width="3.24" height="8.2" fill="#f2695f" stroke="#b04038" stroke-width="0.6"/>
<line x1="258.55" y1="339.4" x2="261.79" y2="339.4" stroke="#9a362f" stroke-width="0.6"/>
<line x1="264.73" y1="329.5" x2="264.73" y2="340.5" stroke="#8c8c8c" stroke-width="0.55"/>
<line x1="263.91" y1="329.5" x2="265.55" y2="329.5" stroke="#8c8c8c" stroke-width="0.55"/>
<line x1="263.91" y1="340.5" x2="265.55" y2="340.5" stroke="#8c8c8c" stroke-width="0.55"/>
<rect x="263.12" y="332.9" width="3.24" height="5.7" fill="#22b8c4" stroke="#107680" stroke-width="0.6"/>
<line x1="263.12" y1="335.5" x2="266.35" y2="335.5" stroke="#0f5f66" stroke-width="0.6"/>
<line x1="268.47" y1="333.2" x2="268.47" y2="349.4" stroke="#8c8c8c" stroke-width="0.55"/>
<line x1="267.65" y1="333.2" x2="269.29" y2="333.2" stroke="#8c8c8c" stroke-width="0.55"/>
<line x1="267.65" y1="349.4" x2="269.29" y2="349.4" stroke="#8c8c8c" stroke-width="0.55"/>
<rect x="266.85" y="340.1" width="3.24" height="3.6" fill="#f2695f" stroke="#b04038" stroke-width="0.6"/>
<line x1="266.85" y1="341.7" x2="270.09" y2="341.7" stroke="#9a362f" stroke-width="0.6"/>
<line x1="273.03" y1="327" x2="273.03" y2="337.5" stroke="#8c8c8c" stroke-width="0.55"/>
<line x1="272.21" y1="327" x2="273.85" y2="327" stroke="#8c8c8c" stroke-width="0.55"/>
<line x1="272.21" y1="337.5" x2="273.85" y2="337.5" stroke="#8c8c8c" stroke-width="0.55"/>
<rect x="271.41" y="330.4" width="3.24" height="4" fill="#22b8c4" stroke="#107680" stroke-width="0.6"/>
<line x1="271.41" y1="332.4" x2="274.65" y2="332.4" stroke="#0f5f66" stroke-width="0.6"/>
<line x1="276.77" y1="329.8" x2="276.77" y2="344.8" stroke="#8c8c8c" stroke-width="0.55"/>
<line x1="275.95" y1="329.8" x2="277.59" y2="329.8" stroke="#8c8c8c" stroke-width="0.55"/>
<line x1="275.95" y1="344.8" x2="277.59" y2="344.8" stroke="#8c8c8c" stroke-width="0.55"/>
<rect x="275.15" y="335" width="3.24" height="5.1" fill="#f2695f" stroke="#b04038" stroke-width="0.6"/>
<line x1="275.15" y1="337.8" x2="278.38" y2="337.8" stroke="#9a362f" stroke-width="0.6"/>
<line x1="281.33" y1="330" x2="281.33" y2="341" stroke="#8c8c8c" stroke-width="0.55"/>
<line x1="280.51" y1="330" x2="282.15" y2="330" stroke="#8c8c8c" stroke-width="0.55"/>
<line x1="280.51" y1="341" x2="282.15" y2="341" stroke="#8c8c8c" stroke-width="0.55"/>
<rect x="279.71" y="332.9" width="3.24" height="5.7" fill="#22b8c4" stroke="#107680" stroke-width="0.6"/>
<line x1="279.71" y1="335.5" x2="282.95" y2="335.5" stroke="#0f5f66" stroke-width="0.6"/>
<line x1="285.07" y1="335.5" x2="285.07" y2="347.4" stroke="#8c8c8c" stroke-width="0.55"/>
<line x1="284.25" y1="335.5" x2="285.89" y2="335.5" stroke="#8c8c8c" stroke-width="0.55"/>
<line x1="284.25" y1="347.4" x2="285.89" y2="347.4" stroke="#8c8c8c" stroke-width="0.55"/>
<rect x="283.45" y="340.6" width="3.24" height="3.7" fill="#f2695f" stroke="#b04038" stroke-width="0.6"/>
<line x1="283.45" y1="342.5" x2="286.69" y2="342.5" stroke="#9a362f" stroke-width="0.6"/>
<line x1="289.63" y1="322" x2="289.63" y2="333.2" stroke="#8c8c8c" stroke-width="0.55"/>
<line x1="288.81" y1="322" x2="290.45" y2="322" stroke="#8c8c8c" stroke-width="0.55"/>
<line x1="288.81" y1="333.2" x2="290.45" y2="333.2" stroke="#8c8c8c" stroke-width="0.55"/>
<rect x="288.01" y="325.1" width="3.24" height="5.3" fill="#22b8c4" stroke="#107680" stroke-width="0.6"/>
<line x1="288.01" y1="327.8" x2="291.25" y2="327.8" stroke="#0f5f66" stroke-width="0.6"/>
<line x1="293.37" y1="326.2" x2="293.37" y2="339.4" stroke="#8c8c8c" stroke-width="0.55"/>
<line x1="292.55" y1="326.2" x2="294.19" y2="326.2" stroke="#8c8c8c" stroke-width="0.55"/>
<line x1="292.55" y1="339.4" x2="294.19" y2="339.4" stroke="#8c8c8c" stroke-width="0.55"/>
<rect x="291.75" y="329.8" width="3.24" height="6.8" fill="#f2695f" stroke="#b04038" stroke-width="0.6"/>
<line x1="291.75" y1="333.2" x2="294.99" y2="333.2" stroke="#9a362f" stroke-width="0.6"/>
<line x1="297.93" y1="331.6" x2="297.93" y2="341" stroke="#8c8c8c" stroke-width="0.55"/>
<line x1="297.11" y1="331.6" x2="298.75" y2="331.6" stroke="#8c8c8c" stroke-width="0.55"/>
<line x1="297.11" y1="341" x2="298.75" y2="341" stroke="#8c8c8c" stroke-width="0.55"/>
<rect x="296.31" y="334" width="3.24" height="4.6" fill="#22b8c4" stroke="#107680" stroke-width="0.6"/>
<line x1="296.31" y1="336.3" x2="299.55" y2="336.3" stroke="#0f5f66" stroke-width="0.6"/>
<line x1="301.67" y1="336" x2="301.67" y2="345.9" stroke="#8c8c8c" stroke-width="0.55"/>
<line x1="300.85" y1="336" x2="302.49" y2="336" stroke="#8c8c8c" stroke-width="0.55"/>
<line x1="300.85" y1="345.9" x2="302.49" y2="345.9" stroke="#8c8c8c" stroke-width="0.55"/>
<rect x="300.05" y="338.1" width="3.24" height="5.6" fill="#f2695f" stroke="#b04038" stroke-width="0.6"/>
<line x1="300.05" y1="340.9" x2="303.29" y2="340.9" stroke="#9a362f" stroke-width="0.6"/>
<line x1="306.23" y1="361.8" x2="306.23" y2="374.1" stroke="#8a8a8a" stroke-width="0.6"/>
<line x1="305.3" y1="361.8" x2="307.17" y2="361.8" stroke="#8a8a8a" stroke-width="0.6"/>
<line x1="305.3" y1="374.1" x2="307.17" y2="374.1" stroke="#8a8a8a" stroke-width="0.6"/>
<line x1="304.56" y1="365.9" x2="307.9" y2="365.9" stroke="#666" stroke-width="0.8"/>
<line x1="309.97" y1="379.2" x2="309.97" y2="391.5" stroke="#8c8c8c" stroke-width="0.55"/>
<line x1="309.15" y1="379.2" x2="310.79" y2="379.2" stroke="#8c8c8c" stroke-width="0.55"/>
<rect x="308.35" y="382.6" width="3.24" height="8.9" fill="#f2695f" stroke="#b04038" stroke-width="0.6"/>
<line x1="308.35" y1="388" x2="311.59" y2="388" stroke="#9a362f" stroke-width="0.6"/>
<line x1="314.53" y1="323.9" x2="314.53" y2="331.3" stroke="#8c8c8c" stroke-width="0.55"/>
<line x1="313.71" y1="331.3" x2="315.35" y2="331.3" stroke="#8c8c8c" stroke-width="0.55"/>
<rect x="312.91" y="324.7" width="3.24" height="5.7" fill="#22b8c4" stroke="#107680" stroke-width="0.6"/>
<line x1="312.91" y1="327.8" x2="316.15" y2="327.8" stroke="#0f5f66" stroke-width="0.6"/>
<line x1="318.27" y1="331.6" x2="318.27" y2="343.2" stroke="#8a8a8a" stroke-width="0.6"/>
<line x1="317.33" y1="331.6" x2="319.2" y2="331.6" stroke="#8a8a8a" stroke-width="0.6"/>
<line x1="317.33" y1="343.2" x2="319.2" y2="343.2" stroke="#8a8a8a" stroke-width="0.6"/>
<line x1="316.6" y1="340.1" x2="319.94" y2="340.1" stroke="#666" stroke-width="0.8"/>
<line x1="322.83" y1="337.8" x2="322.83" y2="371.1" stroke="#8c8c8c" stroke-width="0.55"/>
<line x1="322.01" y1="337.8" x2="323.65" y2="337.8" stroke="#8c8c8c" stroke-width="0.55"/>
<line x1="322.01" y1="371.1" x2="323.65" y2="371.1" stroke="#8c8c8c" stroke-width="0.55"/>
<rect x="321.21" y="347.4" width="3.24" height="8.7" fill="#22b8c4" stroke="#107680" stroke-width="0.6"/>
<line x1="321.21" y1="351.4" x2="324.45" y2="351.4" stroke="#0f5f66" stroke-width="0.6"/>
<line x1="326.57" y1="326.2" x2="326.57" y2="380.3" stroke="#8c8c8c" stroke-width="0.55"/>
<line x1="325.75" y1="326.2" x2="327.39" y2="326.2" stroke="#8c8c8c" stroke-width="0.55"/>
<line x1="325.75" y1="380.3" x2="327.39" y2="380.3" stroke="#8c8c8c" stroke-width="0.55"/>
<rect x="324.95" y="349.4" width="3.24" height="11.9" fill="#f2695f" stroke="#b04038" stroke-width="0.6"/>
<line x1="324.95" y1="354" x2="328.19" y2="354" stroke="#9a362f" stroke-width="0.6"/>
<line x1="331.13" y1="366.4" x2="331.13" y2="374.1" stroke="#8c8c8c" stroke-width="0.55"/>
<line x1="330.31" y1="366.4" x2="331.95" y2="366.4" stroke="#8c8c8c" stroke-width="0.55"/>
<rect x="329.51" y="367.5" width="3.24" height="5.9" fill="#22b8c4" stroke="#107680" stroke-width="0.6"/>
<line x1="329.51" y1="370.6" x2="332.75" y2="370.6" stroke="#0f5f66" stroke-width="0.6"/>
<line x1="334.87" y1="373.4" x2="334.87" y2="384" stroke="#8c8c8c" stroke-width="0.55"/>
<line x1="334.05" y1="373.4" x2="335.69" y2="373.4" stroke="#8c8c8c" stroke-width="0.55"/>
<line x1="334.05" y1="384" x2="335.69" y2="384" stroke="#8c8c8c" stroke-width="0.55"/>
<rect x="333.25" y="374.6" width="3.24" height="8.4" fill="#f2695f" stroke="#b04038" stroke-width="0.6"/>
<line x1="333.25" y1="378" x2="336.49" y2="378" stroke="#9a362f" stroke-width="0.6"/>
<circle cx="326.57" cy="383.9" r="0.7" fill="#333"/>
<circle cx="326.57" cy="324.5" r="0.7" fill="#333"/>
<path d="M244.4,391.5 V317.4 H339.4 V391.5 M243.9,391.5 H339.9" fill="none" stroke="#2b2b2b" stroke-width="0.95"/>
<line x1="241.4" y1="317.4" x2="244.4" y2="317.4" stroke="#2b2b2b" stroke-width="0.9"/>
<text transform="translate(240.4,319.65) scale(0.85,1)" class="tk" text-anchor="end">10</text>
<line x1="241.4" y1="332.22" x2="244.4" y2="332.22" stroke="#2b2b2b" stroke-width="0.9"/>
<text transform="translate(240.4,334.47) scale(0.85,1)" class="tk" text-anchor="end">8</text>
<line x1="241.4" y1="347.04" x2="244.4" y2="347.04" stroke="#2b2b2b" stroke-width="0.9"/>
<text transform="translate(240.4,349.29) scale(0.85,1)" class="tk" text-anchor="end">6</text>
<line x1="241.4" y1="361.86" x2="244.4" y2="361.86" stroke="#2b2b2b" stroke-width="0.9"/>
<text transform="translate(240.4,364.11) scale(0.85,1)" class="tk" text-anchor="end">4</text>
<line x1="241.4" y1="376.68" x2="244.4" y2="376.68" stroke="#2b2b2b" stroke-width="0.9"/>
<text transform="translate(240.4,378.93) scale(0.85,1)" class="tk" text-anchor="end">2</text>
<line x1="241.4" y1="391.5" x2="244.4" y2="391.5" stroke="#2b2b2b" stroke-width="0.9"/>
<text transform="translate(240.4,393.75) scale(0.85,1)" class="tk" text-anchor="end">0</text>
<line x1="250" y1="391.5" x2="250" y2="394.5" stroke="#2b2b2b" stroke-width="0.9"/>
<text transform="translate(252.9,399.3) rotate(-45)" class="xl" text-anchor="end">GSE10971</text>
<line x1="258.3" y1="391.5" x2="258.3" y2="394.5" stroke="#2b2b2b" stroke-width="0.9"/>
<text transform="translate(261.2,399.3) rotate(-45)" class="xl" text-anchor="end">GSE14407</text>
<line x1="266.6" y1="391.5" x2="266.6" y2="394.5" stroke="#2b2b2b" stroke-width="0.9"/>
<text transform="translate(269.5,399.3) rotate(-45)" class="xl" text-anchor="end">GSE18520</text>
<line x1="274.9" y1="391.5" x2="274.9" y2="394.5" stroke="#2b2b2b" stroke-width="0.9"/>
<text transform="translate(277.8,399.3) rotate(-45)" class="xl" text-anchor="end">GSE38666</text>
<line x1="283.2" y1="391.5" x2="283.2" y2="394.5" stroke="#2b2b2b" stroke-width="0.9"/>
<text transform="translate(286.1,399.3) rotate(-45)" class="xl" text-anchor="end">GSE40595</text>
<line x1="291.5" y1="391.5" x2="291.5" y2="394.5" stroke="#2b2b2b" stroke-width="0.9"/>
<text transform="translate(294.4,399.3) rotate(-45)" class="xl" text-anchor="end">GSE52037</text>
<line x1="299.8" y1="391.5" x2="299.8" y2="394.5" stroke="#2b2b2b" stroke-width="0.9"/>
<text transform="translate(302.7,399.3) rotate(-45)" class="xl" text-anchor="end">GSE54388</text>
<line x1="308.1" y1="391.5" x2="308.1" y2="394.5" stroke="#2b2b2b" stroke-width="0.9"/>
<text transform="translate(311,399.3) rotate(-45)" class="xl" text-anchor="end">GSE119054</text>
<line x1="316.4" y1="391.5" x2="316.4" y2="394.5" stroke="#2b2b2b" stroke-width="0.9"/>
<text transform="translate(319.3,399.3) rotate(-45)" class="xl" text-anchor="end">GSE23391</text>
<line x1="324.7" y1="391.5" x2="324.7" y2="394.5" stroke="#2b2b2b" stroke-width="0.9"/>
<text transform="translate(327.6,399.3) rotate(-45)" class="xl" text-anchor="end">GEPIA</text>
<line x1="333" y1="391.5" x2="333" y2="394.5" stroke="#2b2b2b" stroke-width="0.9"/>
<text transform="translate(335.9,399.3) rotate(-45)" class="xl" text-anchor="end">GSE190688</text>
<text x="292.6" y="313.8" class="tt" text-anchor="middle">ENSG00000267058</text>
<line x1="428.9" y1="317.4" x2="428.9" y2="391.5" stroke="#d6d6d6" stroke-width="1.3"/>
<line x1="428.9" y1="317.4" x2="428.9" y2="391.5" stroke="#aaa" stroke-width="0.7" stroke-dasharray="1,1"/>
<line x1="357.33" y1="349.4" x2="357.33" y2="370.3" stroke="#8c8c8c" stroke-width="0.55"/>
<line x1="356.5" y1="349.4" x2="358.15" y2="349.4" stroke="#8c8c8c" stroke-width="0.55"/>
<line x1="356.5" y1="370.3" x2="358.15" y2="370.3" stroke="#8c8c8c" stroke-width="0.55"/>
<rect x="355.7" y="355.1" width="3.25" height="7.1" fill="#22b8c4" stroke="#107680" stroke-width="0.6"/>
<line x1="355.7" y1="358.7" x2="358.95" y2="358.7" stroke="#0f5f66" stroke-width="0.6"/>
<line x1="361.07" y1="356.4" x2="361.07" y2="373.4" stroke="#8c8c8c" stroke-width="0.55"/>
<line x1="360.25" y1="356.4" x2="361.9" y2="356.4" stroke="#8c8c8c" stroke-width="0.55"/>
<line x1="360.25" y1="373.4" x2="361.9" y2="373.4" stroke="#8c8c8c" stroke-width="0.55"/>
<rect x="359.45" y="362.2" width="3.25" height="8.4" fill="#f2695f" stroke="#b04038" stroke-width="0.6"/>
<line x1="359.45" y1="367.2" x2="362.7" y2="367.2" stroke="#9a362f" stroke-width="0.6"/>
<line x1="365.66" y1="337.8" x2="365.66" y2="355.6" stroke="#8c8c8c" stroke-width="0.55"/>
<line x1="364.83" y1="337.8" x2="366.48" y2="337.8" stroke="#8c8c8c" stroke-width="0.55"/>
<line x1="364.83" y1="355.6" x2="366.48" y2="355.6" stroke="#8c8c8c" stroke-width="0.55"/>
<rect x="364.03" y="342.8" width="3.25" height="5.8" fill="#22b8c4" stroke="#107680" stroke-width="0.6"/>
<line x1="364.03" y1="345.5" x2="367.28" y2="345.5" stroke="#0f5f66" stroke-width="0.6"/>
<line x1="369.4" y1="354.5" x2="369.4" y2="368.4" stroke="#8c8c8c" stroke-width="0.55"/>
<line x1="368.58" y1="354.5" x2="370.23" y2="354.5" stroke="#8c8c8c" stroke-width="0.55"/>
<line x1="368.58" y1="368.4" x2="370.23" y2="368.4" stroke="#8c8c8c" stroke-width="0.55"/>
<rect x="367.78" y="358.2" width="3.25" height="7.4" fill="#f2695f" stroke="#b04038" stroke-width="0.6"/>
<line x1="367.78" y1="362.2" x2="371.03" y2="362.2" stroke="#9a362f" stroke-width="0.6"/>
<line x1="373.99" y1="346.3" x2="373.99" y2="358.7" stroke="#8c8c8c" stroke-width="0.55"/>
<line x1="373.16" y1="346.3" x2="374.81" y2="346.3" stroke="#8c8c8c" stroke-width="0.55"/>
<line x1="373.16" y1="358.7" x2="374.81" y2="358.7" stroke="#8c8c8c" stroke-width="0.55"/>
<rect x="372.36" y="349.4" width="3.25" height="7.7" fill="#22b8c4" stroke="#107680" stroke-width="0.6"/>
<line x1="372.36" y1="352.5" x2="375.61" y2="352.5" stroke="#0f5f66" stroke-width="0.6"/>
<line x1="377.73" y1="353.3" x2="377.73" y2="370.3" stroke="#8c8c8c" stroke-width="0.55"/>
<line x1="376.91" y1="353.3" x2="378.56" y2="353.3" stroke="#8c8c8c" stroke-width="0.55"/>
<line x1="376.91" y1="370.3" x2="378.56" y2="370.3" stroke="#8c8c8c" stroke-width="0.55"/>
<rect x="376.11" y="362.2" width="3.25" height="4.2" fill="#f2695f" stroke="#b04038" stroke-width="0.6"/>
<line x1="376.11" y1="364" x2="379.36" y2="364" stroke="#9a362f" stroke-width="0.6"/>
<line x1="382.32" y1="351.7" x2="382.32" y2="364.9" stroke="#8c8c8c" stroke-width="0.55"/>
<line x1="381.49" y1="351.7" x2="383.14" y2="351.7" stroke="#8c8c8c" stroke-width="0.55"/>
<line x1="381.49" y1="364.9" x2="383.14" y2="364.9" stroke="#8c8c8c" stroke-width="0.55"/>
<rect x="380.69" y="354.8" width="3.25" height="7.7" fill="#22b8c4" stroke="#107680" stroke-width="0.6"/>
<line x1="380.69" y1="359.2" x2="383.94" y2="359.2" stroke="#0f5f66" stroke-width="0.6"/>
<line x1="386.06" y1="364.9" x2="386.06" y2="375.7" stroke="#8c8c8c" stroke-width="0.55"/>
<line x1="385.24" y1="364.9" x2="386.89" y2="364.9" stroke="#8c8c8c" stroke-width="0.55"/>
<line x1="385.24" y1="375.7" x2="386.89" y2="375.7" stroke="#8c8c8c" stroke-width="0.55"/>
<rect x="384.44" y="366.4" width="3.25" height="6.2" fill="#f2695f" stroke="#b04038" stroke-width="0.6"/>
<line x1="384.44" y1="369" x2="387.69" y2="369" stroke="#9a362f" stroke-width="0.6"/>
<line x1="390.65" y1="337.8" x2="390.65" y2="356.6" stroke="#8c8c8c" stroke-width="0.55"/>
<line x1="389.82" y1="337.8" x2="391.47" y2="337.8" stroke="#8c8c8c" stroke-width="0.55"/>
<line x1="389.82" y1="356.6" x2="391.47" y2="356.6" stroke="#8c8c8c" stroke-width="0.55"/>
<rect x="389.02" y="341.7" width="3.25" height="5.7" fill="#22b8c4" stroke="#107680" stroke-width="0.6"/>
<line x1="389.02" y1="344.3" x2="392.27" y2="344.3" stroke="#0f5f66" stroke-width="0.6"/>
<line x1="394.39" y1="356" x2="394.39" y2="368" stroke="#8c8c8c" stroke-width="0.55"/>
<line x1="393.57" y1="356" x2="395.22" y2="356" stroke="#8c8c8c" stroke-width="0.55"/>
<line x1="393.57" y1="368" x2="395.22" y2="368" stroke="#8c8c8c" stroke-width="0.55"/>
<rect x="392.77" y="358.7" width="3.25" height="6.2" fill="#f2695f" stroke="#b04038" stroke-width="0.6"/>
<line x1="392.77" y1="361.8" x2="396.02" y2="361.8" stroke="#9a362f" stroke-width="0.6"/>
<line x1="398.98" y1="348" x2="398.98" y2="351.5" stroke="#8c8c8c" stroke-width="0.55"/>
<rect x="397.35" y="348.6" width="3.25" height="2.4" fill="#22b8c4" stroke="#107680" stroke-width="0.6"/>
<line x1="397.35" y1="349.8" x2="400.6" y2="349.8" stroke="#0f5f66" stroke-width="0.6"/>
<line x1="402.72" y1="355.6" x2="402.72" y2="371" stroke="#8c8c8c" stroke-width="0.55"/>
<line x1="401.9" y1="355.6" x2="403.55" y2="355.6" stroke="#8c8c8c" stroke-width="0.55"/>
<line x1="401.9" y1="371" x2="403.55" y2="371" stroke="#8c8c8c" stroke-width="0.55"/>
<rect x="401.1" y="362.9" width="3.25" height="5.5" fill="#f2695f" stroke="#b04038" stroke-width="0.6"/>
<line x1="401.1" y1="365.3" x2="404.35" y2="365.3" stroke="#9a362f" stroke-width="0.6"/>
<line x1="407.31" y1="334.4" x2="407.31" y2="352.5" stroke="#8c8c8c" stroke-width="0.55"/>
<line x1="406.48" y1="334.4" x2="408.13" y2="334.4" stroke="#8c8c8c" stroke-width="0.55"/>
<line x1="406.48" y1="352.5" x2="408.13" y2="352.5" stroke="#8c8c8c" stroke-width="0.55"/>
<rect x="405.68" y="339.1" width="3.25" height="7.7" fill="#22b8c4" stroke="#107680" stroke-width="0.6"/>
<line x1="405.68" y1="342.8" x2="408.93" y2="342.8" stroke="#0f5f66" stroke-width="0.6"/>
<line x1="411.05" y1="351.7" x2="411.05" y2="364.9" stroke="#8c8c8c" stroke-width="0.55"/>
<line x1="410.23" y1="351.7" x2="411.88" y2="351.7" stroke="#8c8c8c" stroke-width="0.55"/>
<line x1="410.23" y1="364.9" x2="411.88" y2="364.9" stroke="#8c8c8c" stroke-width="0.55"/>
<rect x="409.43" y="354" width="3.25" height="8.5" fill="#f2695f" stroke="#b04038" stroke-width="0.6"/>
<line x1="409.43" y1="358.7" x2="412.68" y2="358.7" stroke="#9a362f" stroke-width="0.6"/>
<line x1="415.64" y1="328.5" x2="415.64" y2="329.8" stroke="#8c8c8c" stroke-width="0.55"/>
<rect x="414.01" y="328.5" width="3.25" height="1.3" fill="#22b8c4" stroke="#107680" stroke-width="0.6"/>
<line x1="414.01" y1="329.2" x2="417.26" y2="329.2" stroke="#0f5f66" stroke-width="0.6"/>
<line x1="419.38" y1="335.5" x2="419.38" y2="339" stroke="#8c8c8c" stroke-width="0.55"/>
<rect x="417.76" y="336" width="3.25" height="2.6" fill="#f2695f" stroke="#b04038" stroke-width="0.6"/>
<line x1="417.76" y1="337.3" x2="421.01" y2="337.3" stroke="#9a362f" stroke-width="0.6"/>
<line x1="423.97" y1="334.4" x2="423.97" y2="344.3" stroke="#8c8c8c" stroke-width="0.55"/>
<line x1="423.14" y1="334.4" x2="424.79" y2="334.4" stroke="#8c8c8c" stroke-width="0.55"/>
<line x1="423.14" y1="344.3" x2="424.79" y2="344.3" stroke="#8c8c8c" stroke-width="0.55"/>
<rect x="422.34" y="337" width="3.25" height="5.8" fill="#22b8c4" stroke="#107680" stroke-width="0.6"/>
<line x1="422.34" y1="339.7" x2="425.59" y2="339.7" stroke="#0f5f66" stroke-width="0.6"/>
<line x1="427.71" y1="354" x2="427.71" y2="364.9" stroke="#8a8a8a" stroke-width="0.6"/>
<line x1="426.78" y1="354" x2="428.65" y2="354" stroke="#8a8a8a" stroke-width="0.6"/>
<line x1="426.78" y1="364.9" x2="428.65" y2="364.9" stroke="#8a8a8a" stroke-width="0.6"/>
<line x1="426.04" y1="360.2" x2="429.39" y2="360.2" stroke="#666" stroke-width="0.8"/>
<line x1="432.3" y1="332.9" x2="432.3" y2="356.4" stroke="#8c8c8c" stroke-width="0.55"/>
<line x1="431.47" y1="332.9" x2="433.12" y2="332.9" stroke="#8c8c8c" stroke-width="0.55"/>
<line x1="431.47" y1="356.4" x2="433.12" y2="356.4" stroke="#8c8c8c" stroke-width="0.55"/>
<rect x="430.67" y="340.1" width="3.25" height="6.7" fill="#22b8c4" stroke="#107680" stroke-width="0.6"/>
<line x1="430.67" y1="343.2" x2="433.92" y2="343.2" stroke="#0f5f66" stroke-width="0.6"/>
<line x1="436.04" y1="331.6" x2="436.04" y2="368" stroke="#8c8c8c" stroke-width="0.55"/>
<line x1="435.22" y1="331.6" x2="436.87" y2="331.6" stroke="#8c8c8c" stroke-width="0.55"/>
<line x1="435.22" y1="368" x2="436.87" y2="368" stroke="#8c8c8c" stroke-width="0.55"/>
<rect x="434.42" y="344.8" width="3.25" height="8.5" fill="#f2695f" stroke="#b04038" stroke-width="0.6"/>
<line x1="434.42" y1="348.6" x2="437.67" y2="348.6" stroke="#9a362f" stroke-width="0.6"/>
<line x1="440.63" y1="355.6" x2="440.63" y2="357.1" stroke="#8c8c8c" stroke-width="0.55"/>
<rect x="439" y="355.6" width="3.25" height="1.5" fill="#22b8c4" stroke="#107680" stroke-width="0.6"/>
<line x1="439" y1="356.4" x2="442.25" y2="356.4" stroke="#0f5f66" stroke-width="0.6"/>
<line x1="444.37" y1="356" x2="444.37" y2="369.2" stroke="#8c8c8c" stroke-width="0.55"/>
<line x1="443.55" y1="356" x2="445.2" y2="356" stroke="#8c8c8c" stroke-width="0.55"/>
<line x1="443.55" y1="369.2" x2="445.2" y2="369.2" stroke="#8c8c8c" stroke-width="0.55"/>
<rect x="442.75" y="359.2" width="3.25" height="6.1" fill="#f2695f" stroke="#b04038" stroke-width="0.6"/>
<line x1="442.75" y1="362.5" x2="446" y2="362.5" stroke="#9a362f" stroke-width="0.6"/>
<path d="M353.4,391.5 V317.4 H448.5 V391.5 M352.9,391.5 H449" fill="none" stroke="#2b2b2b" stroke-width="0.95"/>
<line x1="350.4" y1="317.4" x2="353.4" y2="317.4" stroke="#2b2b2b" stroke-width="0.9"/>
<text transform="translate(349.4,319.65) scale(0.85,1)" class="tk" text-anchor="end">10</text>
<line x1="350.4" y1="342.1" x2="353.4" y2="342.1" stroke="#2b2b2b" stroke-width="0.9"/>
<text transform="translate(349.4,344.35) scale(0.85,1)" class="tk" text-anchor="end">8</text>
<line x1="350.4" y1="366.8" x2="353.4" y2="366.8" stroke="#2b2b2b" stroke-width="0.9"/>
<text transform="translate(349.4,369.05) scale(0.85,1)" class="tk" text-anchor="end">4</text>
<line x1="350.4" y1="391.5" x2="353.4" y2="391.5" stroke="#2b2b2b" stroke-width="0.9"/>
<text transform="translate(349.4,393.75) scale(0.85,1)" class="tk" text-anchor="end">0</text>
<line x1="448.5" y1="317.4" x2="451.5" y2="317.4" stroke="#2b2b2b" stroke-width="0.9"/>
<text transform="translate(452.7,319.65) scale(0.85,1)" class="tk">12</text>
<line x1="448.5" y1="342.1" x2="451.5" y2="342.1" stroke="#2b2b2b" stroke-width="0.9"/>
<text transform="translate(452.7,344.35) scale(0.85,1)" class="tk">8</text>
<line x1="448.5" y1="366.8" x2="451.5" y2="366.8" stroke="#2b2b2b" stroke-width="0.9"/>
<text transform="translate(452.7,369.05) scale(0.85,1)" class="tk">4</text>
<line x1="448.5" y1="391.5" x2="451.5" y2="391.5" stroke="#2b2b2b" stroke-width="0.9"/>
<text transform="translate(452.7,393.75) scale(0.85,1)" class="tk">0</text>
<text transform="translate(460.7,354.45) rotate(90)" class="ax" text-anchor="middle">Log<tspan font-size="4.6" dy="1.6">2</tspan><tspan dy="-1.6"> (Counts + 1)</tspan></text>
<line x1="359.2" y1="391.5" x2="359.2" y2="394.5" stroke="#2b2b2b" stroke-width="0.9"/>
<text transform="translate(362.1,399.3) rotate(-45)" class="xl" text-anchor="end">GSE10971</text>
<line x1="367.53" y1="391.5" x2="367.53" y2="394.5" stroke="#2b2b2b" stroke-width="0.9"/>
<text transform="translate(370.43,399.3) rotate(-45)" class="xl" text-anchor="end">GSE14407</text>
<line x1="375.86" y1="391.5" x2="375.86" y2="394.5" stroke="#2b2b2b" stroke-width="0.9"/>
<text transform="translate(378.76,399.3) rotate(-45)" class="xl" text-anchor="end">GSE18520</text>
<line x1="384.19" y1="391.5" x2="384.19" y2="394.5" stroke="#2b2b2b" stroke-width="0.9"/>
<text transform="translate(387.09,399.3) rotate(-45)" class="xl" text-anchor="end">GSE29450</text>
<line x1="392.52" y1="391.5" x2="392.52" y2="394.5" stroke="#2b2b2b" stroke-width="0.9"/>
<text transform="translate(395.42,399.3) rotate(-45)" class="xl" text-anchor="end">GSE38666</text>
<line x1="400.85" y1="391.5" x2="400.85" y2="394.5" stroke="#2b2b2b" stroke-width="0.9"/>
<text transform="translate(403.75,399.3) rotate(-45)" class="xl" text-anchor="end">GSE40595</text>
<line x1="409.18" y1="391.5" x2="409.18" y2="394.5" stroke="#2b2b2b" stroke-width="0.9"/>
<text transform="translate(412.08,399.3) rotate(-45)" class="xl" text-anchor="end">GSE52037</text>
<line x1="417.51" y1="391.5" x2="417.51" y2="394.5" stroke="#2b2b2b" stroke-width="0.9"/>
<text transform="translate(420.41,399.3) rotate(-45)" class="xl" text-anchor="end">GSE119054</text>
<line x1="425.84" y1="391.5" x2="425.84" y2="394.5" stroke="#2b2b2b" stroke-width="0.9"/>
<text transform="translate(428.74,399.3) rotate(-45)" class="xl" text-anchor="end">GSE23391</text>
<line x1="434.17" y1="391.5" x2="434.17" y2="394.5" stroke="#2b2b2b" stroke-width="0.9"/>
<text transform="translate(437.07,399.3) rotate(-45)" class="xl" text-anchor="end">GEPIA</text>
<line x1="442.5" y1="391.5" x2="442.5" y2="394.5" stroke="#2b2b2b" stroke-width="0.9"/>
<text transform="translate(445.4,399.3) rotate(-45)" class="xl" text-anchor="end">GSE190688</text>
<text x="401.65" y="313.8" class="tt" text-anchor="middle">EPM2A-DT</text>
<line x1="102.5" y1="440" x2="102.5" y2="514.4" stroke="#7a7a7a" stroke-width="0.75" stroke-dasharray="1,1"/>
<line x1="30.65" y1="478.4" x2="30.65" y2="494.6" stroke="#8c8c8c" stroke-width="0.55"/>
<line x1="29.83" y1="478.4" x2="31.46" y2="478.4" stroke="#8c8c8c" stroke-width="0.55"/>
<line x1="29.83" y1="494.6" x2="31.46" y2="494.6" stroke="#8c8c8c" stroke-width="0.55"/>
<rect x="29.04" y="482.2" width="3.21" height="7" fill="#22b8c4" stroke="#107680" stroke-width="0.6"/>
<line x1="29.04" y1="485.3" x2="32.25" y2="485.3" stroke="#0f5f66" stroke-width="0.6"/>
<line x1="34.35" y1="490.4" x2="34.35" y2="501.9" stroke="#8c8c8c" stroke-width="0.55"/>
<line x1="33.54" y1="490.4" x2="35.17" y2="490.4" stroke="#8c8c8c" stroke-width="0.55"/>
<line x1="33.54" y1="501.9" x2="35.17" y2="501.9" stroke="#8c8c8c" stroke-width="0.55"/>
<rect x="32.75" y="493.5" width="3.21" height="5.3" fill="#f2695f" stroke="#b04038" stroke-width="0.6"/>
<line x1="32.75" y1="495.7" x2="35.96" y2="495.7" stroke="#9a362f" stroke-width="0.6"/>
<line x1="38.89" y1="476" x2="38.89" y2="486.9" stroke="#8c8c8c" stroke-width="0.55"/>
<line x1="38.07" y1="476" x2="39.7" y2="476" stroke="#8c8c8c" stroke-width="0.55"/>
<rect x="37.28" y="479.1" width="3.21" height="7" fill="#22b8c4" stroke="#107680" stroke-width="0.6"/>
<line x1="37.28" y1="482.2" x2="40.49" y2="482.2" stroke="#0f5f66" stroke-width="0.6"/>
<line x1="42.59" y1="482.2" x2="42.59" y2="488" stroke="#8c8c8c" stroke-width="0.55"/>
<line x1="41.78" y1="482.2" x2="43.41" y2="482.2" stroke="#8c8c8c" stroke-width="0.55"/>
<rect x="40.99" y="485.8" width="3.21" height="1.5" fill="#f2695f" stroke="#b04038" stroke-width="0.6"/>
<line x1="40.99" y1="486.5" x2="44.2" y2="486.5" stroke="#9a362f" stroke-width="0.6"/>
<line x1="47.13" y1="474.5" x2="47.13" y2="485.8" stroke="#8c8c8c" stroke-width="0.55"/>
<line x1="46.31" y1="474.5" x2="47.94" y2="474.5" stroke="#8c8c8c" stroke-width="0.55"/>
<line x1="46.31" y1="485.8" x2="47.94" y2="485.8" stroke="#8c8c8c" stroke-width="0.55"/>
<rect x="45.52" y="476" width="3.21" height="7.3" fill="#22b8c4" stroke="#107680" stroke-width="0.6"/>
<line x1="45.52" y1="480.2" x2="48.73" y2="480.2" stroke="#0f5f66" stroke-width="0.6"/>
<line x1="50.83" y1="483" x2="50.83" y2="497.7" stroke="#8c8c8c" stroke-width="0.55"/>
<line x1="50.02" y1="483" x2="51.65" y2="483" stroke="#8c8c8c" stroke-width="0.55"/>
<line x1="50.02" y1="497.7" x2="51.65" y2="497.7" stroke="#8c8c8c" stroke-width="0.55"/>
<rect x="49.23" y="491" width="3.21" height="4.4" fill="#f2695f" stroke="#b04038" stroke-width="0.6"/>
<line x1="49.23" y1="493" x2="52.44" y2="493" stroke="#9a362f" stroke-width="0.6"/>
<line x1="55.37" y1="478.4" x2="55.37" y2="490" stroke="#8c8c8c" stroke-width="0.55"/>
<line x1="54.55" y1="490" x2="56.18" y2="490" stroke="#8c8c8c" stroke-width="0.55"/>
<rect x="53.76" y="479.1" width="3.21" height="8.2" fill="#22b8c4" stroke="#107680" stroke-width="0.6"/>
<line x1="53.76" y1="483.8" x2="56.97" y2="483.8" stroke="#0f5f66" stroke-width="0.6"/>
<line x1="59.07" y1="490" x2="59.07" y2="500" stroke="#8c8c8c" stroke-width="0.55"/>
<line x1="58.26" y1="490" x2="59.89" y2="490" stroke="#8c8c8c" stroke-width="0.55"/>
<line x1="58.26" y1="500" x2="59.89" y2="500" stroke="#8c8c8c" stroke-width="0.55"/>
<rect x="57.47" y="492.3" width="3.21" height="4.6" fill="#f2695f" stroke="#b04038" stroke-width="0.6"/>
<line x1="57.47" y1="494.6" x2="60.68" y2="494.6" stroke="#9a362f" stroke-width="0.6"/>
<line x1="63.61" y1="477.6" x2="63.61" y2="488.5" stroke="#8c8c8c" stroke-width="0.55"/>
<line x1="62.79" y1="477.6" x2="64.42" y2="477.6" stroke="#8c8c8c" stroke-width="0.55"/>
<line x1="62.79" y1="488.5" x2="64.42" y2="488.5" stroke="#8c8c8c" stroke-width="0.55"/>
<rect x="62" y="480.2" width="3.21" height="6.2" fill="#22b8c4" stroke="#107680" stroke-width="0.6"/>
<line x1="62" y1="483" x2="65.21" y2="483" stroke="#0f5f66" stroke-width="0.6"/>
<line x1="67.31" y1="482.2" x2="67.31" y2="489.2" stroke="#8c8c8c" stroke-width="0.55"/>
<line x1="66.5" y1="482.2" x2="68.13" y2="482.2" stroke="#8c8c8c" stroke-width="0.55"/>
<line x1="66.5" y1="489.2" x2="68.13" y2="489.2" stroke="#8c8c8c" stroke-width="0.55"/>
<rect x="65.71" y="485.8" width="3.21" height="1.5" fill="#f2695f" stroke="#b04038" stroke-width="0.6"/>
<line x1="65.71" y1="486.5" x2="68.92" y2="486.5" stroke="#9a362f" stroke-width="0.6"/>
<line x1="71.85" y1="475" x2="71.85" y2="481.1" stroke="#8c8c8c" stroke-width="0.55"/>
<line x1="71.03" y1="475" x2="72.66" y2="475" stroke="#8c8c8c" stroke-width="0.55"/>
<line x1="71.03" y1="481.1" x2="72.66" y2="481.1" stroke="#8c8c8c" stroke-width="0.55"/>
<rect x="70.24" y="476" width="3.21" height="3.6" fill="#22b8c4" stroke="#107680" stroke-width="0.6"/>
<line x1="70.24" y1="477.6" x2="73.45" y2="477.6" stroke="#0f5f66" stroke-width="0.6"/>
<line x1="75.55" y1="486.9" x2="75.55" y2="497.7" stroke="#8c8c8c" stroke-width="0.55"/>
<line x1="74.74" y1="486.9" x2="76.37" y2="486.9" stroke="#8c8c8c" stroke-width="0.55"/>
<line x1="74.74" y1="497.7" x2="76.37" y2="497.7" stroke="#8c8c8c" stroke-width="0.55"/>
<rect x="73.95" y="491.5" width="3.21" height="4.2" fill="#f2695f" stroke="#b04038" stroke-width="0.6"/>
<line x1="73.95" y1="493.5" x2="77.16" y2="493.5" stroke="#9a362f" stroke-width="0.6"/>
<line x1="80.09" y1="476.8" x2="80.09" y2="487.6" stroke="#8c8c8c" stroke-width="0.55"/>
<line x1="79.27" y1="476.8" x2="80.9" y2="476.8" stroke="#8c8c8c" stroke-width="0.55"/>
<line x1="79.27" y1="487.6" x2="80.9" y2="487.6" stroke="#8c8c8c" stroke-width="0.55"/>
<rect x="78.48" y="478.4" width="3.21" height="7.4" fill="#22b8c4" stroke="#107680" stroke-width="0.6"/>
<line x1="78.48" y1="482.2" x2="81.69" y2="482.2" stroke="#0f5f66" stroke-width="0.6"/>
<line x1="83.79" y1="486.9" x2="83.79" y2="498.8" stroke="#8c8c8c" stroke-width="0.55"/>
<line x1="82.98" y1="486.9" x2="84.61" y2="486.9" stroke="#8c8c8c" stroke-width="0.55"/>
<line x1="82.98" y1="498.8" x2="84.61" y2="498.8" stroke="#8c8c8c" stroke-width="0.55"/>
<rect x="82.19" y="491.5" width="3.21" height="4.2" fill="#f2695f" stroke="#b04038" stroke-width="0.6"/>
<line x1="82.19" y1="493.5" x2="85.4" y2="493.5" stroke="#9a362f" stroke-width="0.6"/>
<line x1="88.33" y1="467" x2="88.33" y2="469.4" stroke="#8a8a8a" stroke-width="0.6"/>
<line x1="87.4" y1="467" x2="89.25" y2="467" stroke="#8a8a8a" stroke-width="0.6"/>
<line x1="87.4" y1="469.4" x2="89.25" y2="469.4" stroke="#8a8a8a" stroke-width="0.6"/>
<line x1="86.67" y1="467.9" x2="89.98" y2="467.9" stroke="#666" stroke-width="0.8"/>
<line x1="92.03" y1="476" x2="92.03" y2="491.5" stroke="#8c8c8c" stroke-width="0.55"/>
<line x1="91.22" y1="476" x2="92.85" y2="476" stroke="#8c8c8c" stroke-width="0.55"/>
<line x1="91.22" y1="491.5" x2="92.85" y2="491.5" stroke="#8c8c8c" stroke-width="0.55"/>
<rect x="90.43" y="479.1" width="3.21" height="10.4" fill="#f2695f" stroke="#b04038" stroke-width="0.6"/>
<line x1="90.43" y1="481.1" x2="93.64" y2="481.1" stroke="#9a362f" stroke-width="0.6"/>
<line x1="96.57" y1="485.3" x2="96.57" y2="493.5" stroke="#8c8c8c" stroke-width="0.55"/>
<line x1="95.75" y1="485.3" x2="97.38" y2="485.3" stroke="#8c8c8c" stroke-width="0.55"/>
<line x1="95.75" y1="493.5" x2="97.38" y2="493.5" stroke="#8c8c8c" stroke-width="0.55"/>
<rect x="94.96" y="486.9" width="3.21" height="5.7" fill="#22b8c4" stroke="#107680" stroke-width="0.6"/>
<line x1="94.96" y1="489.5" x2="98.17" y2="489.5" stroke="#0f5f66" stroke-width="0.6"/>
<line x1="100.27" y1="493.8" x2="100.27" y2="497" stroke="#8a8a8a" stroke-width="0.6"/>
<line x1="99.35" y1="493.8" x2="101.2" y2="493.8" stroke="#8a8a8a" stroke-width="0.6"/>
<line x1="99.35" y1="497" x2="101.2" y2="497" stroke="#8a8a8a" stroke-width="0.6"/>
<line x1="98.62" y1="495.7" x2="101.93" y2="495.7" stroke="#666" stroke-width="0.8"/>
<line x1="104.81" y1="473" x2="104.81" y2="489.2" stroke="#8c8c8c" stroke-width="0.55"/>
<line x1="103.99" y1="473" x2="105.62" y2="473" stroke="#8c8c8c" stroke-width="0.55"/>
<line x1="103.99" y1="489.2" x2="105.62" y2="489.2" stroke="#8c8c8c" stroke-width="0.55"/>
<rect x="103.2" y="479.1" width="3.21" height="7.3" fill="#22b8c4" stroke="#107680" stroke-width="0.6"/>
<line x1="103.2" y1="483" x2="106.41" y2="483" stroke="#0f5f66" stroke-width="0.6"/>
<line x1="108.51" y1="494.6" x2="108.51" y2="514.4" stroke="#8c8c8c" stroke-width="0.55"/>
<line x1="107.7" y1="494.6" x2="109.33" y2="494.6" stroke="#8c8c8c" stroke-width="0.55"/>
<rect x="106.91" y="497.2" width="3.21" height="17.2" fill="#f2695f" stroke="#b04038" stroke-width="0.6"/>
<line x1="106.91" y1="505.4" x2="110.12" y2="505.4" stroke="#9a362f" stroke-width="0.6"/>
<line x1="113.05" y1="451.3" x2="113.05" y2="469.1" stroke="#8c8c8c" stroke-width="0.55"/>
<line x1="112.23" y1="451.3" x2="113.86" y2="451.3" stroke="#8c8c8c" stroke-width="0.55"/>
<line x1="112.23" y1="469.1" x2="113.86" y2="469.1" stroke="#8c8c8c" stroke-width="0.55"/>
<rect x="111.44" y="457.5" width="3.21" height="5.4" fill="#22b8c4" stroke="#107680" stroke-width="0.6"/>
<line x1="111.44" y1="460.1" x2="114.65" y2="460.1" stroke="#0f5f66" stroke-width="0.6"/>
<line x1="116.75" y1="462.1" x2="116.75" y2="496.9" stroke="#8c8c8c" stroke-width="0.55"/>
<line x1="115.94" y1="462.1" x2="117.57" y2="462.1" stroke="#8c8c8c" stroke-width="0.55"/>
<line x1="115.94" y1="496.9" x2="117.57" y2="496.9" stroke="#8c8c8c" stroke-width="0.55"/>
<rect x="115.15" y="474" width="3.21" height="7.1" fill="#f2695f" stroke="#b04038" stroke-width="0.6"/>
<line x1="115.15" y1="477.6" x2="118.36" y2="477.6" stroke="#9a362f" stroke-width="0.6"/>
<path d="M27,514.4 V440.1 H121.5 V514.4 M26.5,514.4 H122" fill="none" stroke="#2b2b2b" stroke-width="0.95"/>
<line x1="24" y1="440.1" x2="27" y2="440.1" stroke="#2b2b2b" stroke-width="0.9"/>
<text transform="translate(23,442.35) scale(0.85,1)" class="tk" text-anchor="end">15</text>
<line x1="24" y1="464.87" x2="27" y2="464.87" stroke="#2b2b2b" stroke-width="0.9"/>
<text transform="translate(23,467.12) scale(0.85,1)" class="tk" text-anchor="end">10</text>
<line x1="24" y1="489.63" x2="27" y2="489.63" stroke="#2b2b2b" stroke-width="0.9"/>
<text transform="translate(23,491.88) scale(0.85,1)" class="tk" text-anchor="end">5</text>
<line x1="24" y1="514.4" x2="27" y2="514.4" stroke="#2b2b2b" stroke-width="0.9"/>
<text transform="translate(23,516.65) scale(0.85,1)" class="tk" text-anchor="end">0</text>
<text transform="translate(14.7,475.65) rotate(-90)" class="ax" text-anchor="middle">Filtered log intensity</text>
<line x1="32.5" y1="514.4" x2="32.5" y2="517.4" stroke="#2b2b2b" stroke-width="0.9"/>
<text transform="translate(35.4,522.2) rotate(-45)" class="xl" text-anchor="end">GSE10971</text>
<line x1="40.74" y1="514.4" x2="40.74" y2="517.4" stroke="#2b2b2b" stroke-width="0.9"/>
<text transform="translate(43.64,522.2) rotate(-45)" class="xl" text-anchor="end">GSE14407</text>
<line x1="48.98" y1="514.4" x2="48.98" y2="517.4" stroke="#2b2b2b" stroke-width="0.9"/>
<text transform="translate(51.88,522.2) rotate(-45)" class="xl" text-anchor="end">GSE18520</text>
<line x1="57.22" y1="514.4" x2="57.22" y2="517.4" stroke="#2b2b2b" stroke-width="0.9"/>
<text transform="translate(60.12,522.2) rotate(-45)" class="xl" text-anchor="end">GSE29450</text>
<line x1="65.46" y1="514.4" x2="65.46" y2="517.4" stroke="#2b2b2b" stroke-width="0.9"/>
<text transform="translate(68.36,522.2) rotate(-45)" class="xl" text-anchor="end">GSE38666</text>
<line x1="73.7" y1="514.4" x2="73.7" y2="517.4" stroke="#2b2b2b" stroke-width="0.9"/>
<text transform="translate(76.6,522.2) rotate(-45)" class="xl" text-anchor="end">GSE40595</text>
<line x1="81.94" y1="514.4" x2="81.94" y2="517.4" stroke="#2b2b2b" stroke-width="0.9"/>
<text transform="translate(84.84,522.2) rotate(-45)" class="xl" text-anchor="end">GSE54388</text>
<line x1="90.18" y1="514.4" x2="90.18" y2="517.4" stroke="#2b2b2b" stroke-width="0.9"/>
<text transform="translate(93.08,522.2) rotate(-45)" class="xl" text-anchor="end">GSE119054</text>
<line x1="98.42" y1="514.4" x2="98.42" y2="517.4" stroke="#2b2b2b" stroke-width="0.9"/>
<text transform="translate(101.32,522.2) rotate(-45)" class="xl" text-anchor="end">GSE23391</text>
<line x1="106.66" y1="514.4" x2="106.66" y2="517.4" stroke="#2b2b2b" stroke-width="0.9"/>
<text transform="translate(109.56,522.2) rotate(-45)" class="xl" text-anchor="end">GSE137238</text>
<line x1="114.9" y1="514.4" x2="114.9" y2="517.4" stroke="#2b2b2b" stroke-width="0.9"/>
<text transform="translate(117.8,522.2) rotate(-45)" class="xl" text-anchor="end">GEPIA</text>
<text x="74.95" y="436.5" class="tt" text-anchor="middle">KLF3-AS1</text>
<line x1="140.21" y1="465" x2="140.21" y2="474" stroke="#8c8c8c" stroke-width="0.55"/>
<line x1="139.2" y1="465" x2="141.22" y2="465" stroke="#8c8c8c" stroke-width="0.55"/>
<line x1="139.2" y1="474" x2="141.22" y2="474" stroke="#8c8c8c" stroke-width="0.55"/>
<rect x="138.17" y="467.5" width="4.08" height="5" fill="#22b8c4" stroke="#107680" stroke-width="0.6"/>
<line x1="138.17" y1="469.9" x2="142.25" y2="469.9" stroke="#0f5f66" stroke-width="0.6"/>
<line x1="144.79" y1="470" x2="144.79" y2="480.3" stroke="#8c8c8c" stroke-width="0.55"/>
<line x1="143.78" y1="470" x2="145.8" y2="470" stroke="#8c8c8c" stroke-width="0.55"/>
<rect x="142.75" y="476" width="4.08" height="3.6" fill="#f2695f" stroke="#b04038" stroke-width="0.6"/>
<line x1="142.75" y1="477.6" x2="146.83" y2="477.6" stroke="#9a362f" stroke-width="0.6"/>
<line x1="150.39" y1="468" x2="150.39" y2="477" stroke="#8c8c8c" stroke-width="0.55"/>
<line x1="149.38" y1="468" x2="151.39" y2="468" stroke="#8c8c8c" stroke-width="0.55"/>
<line x1="149.38" y1="477" x2="151.39" y2="477" stroke="#8c8c8c" stroke-width="0.55"/>
<rect x="148.35" y="469.1" width="4.08" height="6.5" fill="#22b8c4" stroke="#107680" stroke-width="0.6"/>
<line x1="148.35" y1="471.9" x2="152.43" y2="471.9" stroke="#0f5f66" stroke-width="0.6"/>
<line x1="154.96" y1="467.2" x2="154.96" y2="485.3" stroke="#8c8c8c" stroke-width="0.55"/>
<line x1="153.96" y1="467.2" x2="155.97" y2="467.2" stroke="#8c8c8c" stroke-width="0.55"/>
<line x1="153.96" y1="485.3" x2="155.97" y2="485.3" stroke="#8c8c8c" stroke-width="0.55"/>
<rect x="152.93" y="477.1" width="4.08" height="3.1" fill="#f2695f" stroke="#b04038" stroke-width="0.6"/>
<line x1="152.93" y1="478.4" x2="157" y2="478.4" stroke="#9a362f" stroke-width="0.6"/>
<line x1="160.56" y1="476" x2="160.56" y2="483" stroke="#8c8c8c" stroke-width="0.55"/>
<line x1="159.55" y1="476" x2="161.57" y2="476" stroke="#8c8c8c" stroke-width="0.55"/>
<line x1="159.55" y1="483" x2="161.57" y2="483" stroke="#8c8c8c" stroke-width="0.55"/>
<rect x="158.52" y="477.1" width="4.08" height="4" fill="#22b8c4" stroke="#107680" stroke-width="0.6"/>
<line x1="158.52" y1="479.1" x2="162.6" y2="479.1" stroke="#0f5f66" stroke-width="0.6"/>
<line x1="165.14" y1="480.7" x2="165.14" y2="490.4" stroke="#8c8c8c" stroke-width="0.55"/>
<line x1="164.13" y1="480.7" x2="166.15" y2="480.7" stroke="#8c8c8c" stroke-width="0.55"/>
<line x1="164.13" y1="490.4" x2="166.15" y2="490.4" stroke="#8c8c8c" stroke-width="0.55"/>
<rect x="163.1" y="482.7" width="4.08" height="4.2" fill="#f2695f" stroke="#b04038" stroke-width="0.6"/>
<line x1="163.1" y1="484.9" x2="167.18" y2="484.9" stroke="#9a362f" stroke-width="0.6"/>
<line x1="170.74" y1="463" x2="170.74" y2="472" stroke="#8c8c8c" stroke-width="0.55"/>
<line x1="169.73" y1="463" x2="171.74" y2="463" stroke="#8c8c8c" stroke-width="0.55"/>
<line x1="169.73" y1="472" x2="171.74" y2="472" stroke="#8c8c8c" stroke-width="0.55"/>
<rect x="168.7" y="465.7" width="4.08" height="4.6" fill="#22b8c4" stroke="#107680" stroke-width="0.6"/>
<line x1="168.7" y1="467.9" x2="172.78" y2="467.9" stroke="#0f5f66" stroke-width="0.6"/>
<line x1="175.31" y1="467.2" x2="175.31" y2="478.6" stroke="#8c8c8c" stroke-width="0.55"/>
<line x1="174.31" y1="467.2" x2="176.32" y2="467.2" stroke="#8c8c8c" stroke-width="0.55"/>
<line x1="174.31" y1="478.6" x2="176.32" y2="478.6" stroke="#8c8c8c" stroke-width="0.55"/>
<rect x="173.28" y="474" width="4.08" height="3.1" fill="#f2695f" stroke="#b04038" stroke-width="0.6"/>
<line x1="173.28" y1="475.6" x2="177.35" y2="475.6" stroke="#9a362f" stroke-width="0.6"/>
<line x1="180.91" y1="469.4" x2="180.91" y2="471.4" stroke="#8c8c8c" stroke-width="0.55"/>
<rect x="178.87" y="469.4" width="4.08" height="2" fill="#22b8c4" stroke="#107680" stroke-width="0.6"/>
<line x1="178.87" y1="470.4" x2="182.95" y2="470.4" stroke="#0f5f66" stroke-width="0.6"/>
<line x1="185.49" y1="473.4" x2="185.49" y2="484.9" stroke="#8c8c8c" stroke-width="0.55"/>
<line x1="184.48" y1="473.4" x2="186.5" y2="473.4" stroke="#8c8c8c" stroke-width="0.55"/>
<line x1="184.48" y1="484.9" x2="186.5" y2="484.9" stroke="#8c8c8c" stroke-width="0.55"/>
<rect x="183.45" y="476.8" width="4.08" height="2.3" fill="#f2695f" stroke="#b04038" stroke-width="0.6"/>
<line x1="183.45" y1="478" x2="187.53" y2="478" stroke="#9a362f" stroke-width="0.6"/>
<line x1="191.09" y1="462.6" x2="191.09" y2="470.7" stroke="#8c8c8c" stroke-width="0.55"/>
<line x1="190.08" y1="462.6" x2="192.09" y2="462.6" stroke="#8c8c8c" stroke-width="0.55"/>
<rect x="189.05" y="465.7" width="4.08" height="4.2" fill="#22b8c4" stroke="#107680" stroke-width="0.6"/>
<line x1="189.05" y1="467.9" x2="193.12" y2="467.9" stroke="#0f5f66" stroke-width="0.6"/>
<line x1="195.66" y1="467.2" x2="195.66" y2="479.6" stroke="#8c8c8c" stroke-width="0.55"/>
<line x1="194.66" y1="467.2" x2="196.67" y2="467.2" stroke="#8c8c8c" stroke-width="0.55"/>
<line x1="194.66" y1="479.6" x2="196.67" y2="479.6" stroke="#8c8c8c" stroke-width="0.55"/>
<rect x="193.62" y="471.4" width="4.08" height="6.2" fill="#f2695f" stroke="#b04038" stroke-width="0.6"/>
<line x1="193.62" y1="475.3" x2="197.7" y2="475.3" stroke="#9a362f" stroke-width="0.6"/>
<line x1="201.26" y1="462.9" x2="201.26" y2="472.5" stroke="#8c8c8c" stroke-width="0.55"/>
<line x1="200.25" y1="472.5" x2="202.27" y2="472.5" stroke="#8c8c8c" stroke-width="0.55"/>
<rect x="199.22" y="463.7" width="4.08" height="7.7" fill="#22b8c4" stroke="#107680" stroke-width="0.6"/>
<line x1="199.22" y1="467.9" x2="203.3" y2="467.9" stroke="#0f5f66" stroke-width="0.6"/>
<line x1="205.84" y1="469.1" x2="205.84" y2="478.4" stroke="#8c8c8c" stroke-width="0.55"/>
<line x1="204.83" y1="469.1" x2="206.85" y2="469.1" stroke="#8c8c8c" stroke-width="0.55"/>
<line x1="204.83" y1="478.4" x2="206.85" y2="478.4" stroke="#8c8c8c" stroke-width="0.55"/>
<rect x="203.8" y="472.5" width="4.08" height="3.5" fill="#f2695f" stroke="#b04038" stroke-width="0.6"/>
<line x1="203.8" y1="474" x2="207.88" y2="474" stroke="#9a362f" stroke-width="0.6"/>
<line x1="211.44" y1="456.7" x2="211.44" y2="475.3" stroke="#8c8c8c" stroke-width="0.55"/>
<line x1="210.43" y1="456.7" x2="212.44" y2="456.7" stroke="#8c8c8c" stroke-width="0.55"/>
<line x1="210.43" y1="475.3" x2="212.44" y2="475.3" stroke="#8c8c8c" stroke-width="0.55"/>
<rect x="209.4" y="461.4" width="4.08" height="10" fill="#22b8c4" stroke="#107680" stroke-width="0.6"/>
<line x1="209.4" y1="469.1" x2="213.48" y2="469.1" stroke="#0f5f66" stroke-width="0.6"/>
<line x1="216.01" y1="466" x2="216.01" y2="479.1" stroke="#8c8c8c" stroke-width="0.55"/>
<line x1="215.01" y1="466" x2="217.02" y2="466" stroke="#8c8c8c" stroke-width="0.55"/>
<line x1="215.01" y1="479.1" x2="217.02" y2="479.1" stroke="#8c8c8c" stroke-width="0.55"/>
<rect x="213.98" y="471.4" width="4.08" height="4.2" fill="#f2695f" stroke="#b04038" stroke-width="0.6"/>
<line x1="213.98" y1="473" x2="218.05" y2="473" stroke="#9a362f" stroke-width="0.6"/>
<line x1="221.61" y1="467.5" x2="221.61" y2="469.4" stroke="#8c8c8c" stroke-width="0.55"/>
<rect x="219.57" y="467.5" width="4.08" height="1.9" fill="#22b8c4" stroke="#107680" stroke-width="0.6"/>
<line x1="219.57" y1="468.4" x2="223.65" y2="468.4" stroke="#0f5f66" stroke-width="0.6"/>
<line x1="226.19" y1="469.9" x2="226.19" y2="478.1" stroke="#8a8a8a" stroke-width="0.6"/>
<line x1="225.04" y1="469.9" x2="227.33" y2="469.9" stroke="#8a8a8a" stroke-width="0.6"/>
<line x1="225.04" y1="478.1" x2="227.33" y2="478.1" stroke="#8a8a8a" stroke-width="0.6"/>
<line x1="224.1" y1="475.6" x2="228.28" y2="475.6" stroke="#666" stroke-width="0.8"/>
<path d="M135.4,514.4 V440.1 H230.5 V514.4 M134.9,514.4 H231" fill="none" stroke="#2b2b2b" stroke-width="0.95"/>
<line x1="132.4" y1="440.1" x2="135.4" y2="440.1" stroke="#2b2b2b" stroke-width="0.9"/>
<text transform="translate(131.4,442.35) scale(0.85,1)" class="tk" text-anchor="end">15</text>
<line x1="132.4" y1="464.87" x2="135.4" y2="464.87" stroke="#2b2b2b" stroke-width="0.9"/>
<text transform="translate(131.4,467.12) scale(0.85,1)" class="tk" text-anchor="end">10</text>
<line x1="132.4" y1="489.63" x2="135.4" y2="489.63" stroke="#2b2b2b" stroke-width="0.9"/>
<text transform="translate(131.4,491.88) scale(0.85,1)" class="tk" text-anchor="end">5</text>
<line x1="132.4" y1="514.4" x2="135.4" y2="514.4" stroke="#2b2b2b" stroke-width="0.9"/>
<text transform="translate(131.4,516.65) scale(0.85,1)" class="tk" text-anchor="end">0</text>
<line x1="142.5" y1="514.4" x2="142.5" y2="517.4" stroke="#2b2b2b" stroke-width="0.9"/>
<text transform="translate(145.4,522.2) rotate(-45)" class="xl" text-anchor="end">GSE14407</text>
<line x1="152.68" y1="514.4" x2="152.68" y2="517.4" stroke="#2b2b2b" stroke-width="0.9"/>
<text transform="translate(155.58,522.2) rotate(-45)" class="xl" text-anchor="end">GSE18520</text>
<line x1="162.85" y1="514.4" x2="162.85" y2="517.4" stroke="#2b2b2b" stroke-width="0.9"/>
<text transform="translate(165.75,522.2) rotate(-45)" class="xl" text-anchor="end">GSE29450</text>
<line x1="173.03" y1="514.4" x2="173.03" y2="517.4" stroke="#2b2b2b" stroke-width="0.9"/>
<text transform="translate(175.93,522.2) rotate(-45)" class="xl" text-anchor="end">GSE38666</text>
<line x1="183.2" y1="514.4" x2="183.2" y2="517.4" stroke="#2b2b2b" stroke-width="0.9"/>
<text transform="translate(186.1,522.2) rotate(-45)" class="xl" text-anchor="end">GSE40595</text>
<line x1="193.38" y1="514.4" x2="193.38" y2="517.4" stroke="#2b2b2b" stroke-width="0.9"/>
<text transform="translate(196.28,522.2) rotate(-45)" class="xl" text-anchor="end">GSE52037</text>
<line x1="203.55" y1="514.4" x2="203.55" y2="517.4" stroke="#2b2b2b" stroke-width="0.9"/>
<text transform="translate(206.45,522.2) rotate(-45)" class="xl" text-anchor="end">GSE54388</text>
<line x1="213.73" y1="514.4" x2="213.73" y2="517.4" stroke="#2b2b2b" stroke-width="0.9"/>
<text transform="translate(216.63,522.2) rotate(-45)" class="xl" text-anchor="end">GSE66957</text>
<line x1="223.9" y1="514.4" x2="223.9" y2="517.4" stroke="#2b2b2b" stroke-width="0.9"/>
<text transform="translate(226.8,522.2) rotate(-45)" class="xl" text-anchor="end">GSE23391</text>
<text x="183.65" y="436.5" class="tt" text-anchor="middle">GLIDR</text>
<line x1="327.5" y1="440" x2="327.5" y2="514.4" stroke="#7a7a7a" stroke-width="0.75" stroke-dasharray="1,1"/>
<line x1="249.31" y1="481.8" x2="249.31" y2="493.8" stroke="#8c8c8c" stroke-width="0.55"/>
<line x1="248.31" y1="481.8" x2="250.32" y2="481.8" stroke="#8c8c8c" stroke-width="0.55"/>
<line x1="248.31" y1="493.8" x2="250.32" y2="493.8" stroke="#8c8c8c" stroke-width="0.55"/>
<rect x="247.28" y="485.3" width="4.07" height="5.1" fill="#22b8c4" stroke="#107680" stroke-width="0.6"/>
<line x1="247.28" y1="488" x2="251.35" y2="488" stroke="#0f5f66" stroke-width="0.6"/>
<line x1="253.89" y1="484.6" x2="253.89" y2="500" stroke="#8c8c8c" stroke-width="0.55"/>
<line x1="252.88" y1="484.6" x2="254.89" y2="484.6" stroke="#8c8c8c" stroke-width="0.55"/>
<line x1="252.88" y1="500" x2="254.89" y2="500" stroke="#8c8c8c" stroke-width="0.55"/>
<rect x="251.85" y="489.5" width="4.07" height="5.9" fill="#f2695f" stroke="#b04038" stroke-width="0.6"/>
<line x1="251.85" y1="492.6" x2="255.92" y2="492.6" stroke="#9a362f" stroke-width="0.6"/>
<line x1="259.48" y1="478.4" x2="259.48" y2="488.4" stroke="#8c8c8c" stroke-width="0.55"/>
<line x1="258.47" y1="478.4" x2="260.48" y2="478.4" stroke="#8c8c8c" stroke-width="0.55"/>
<line x1="258.47" y1="488.4" x2="260.48" y2="488.4" stroke="#8c8c8c" stroke-width="0.55"/>
<rect x="257.44" y="481.5" width="4.07" height="4.3" fill="#22b8c4" stroke="#107680" stroke-width="0.6"/>
<line x1="257.44" y1="483.8" x2="261.51" y2="483.8" stroke="#0f5f66" stroke-width="0.6"/>
<line x1="264.05" y1="483.8" x2="264.05" y2="489.5" stroke="#8c8c8c" stroke-width="0.55"/>
<line x1="263.04" y1="483.8" x2="265.06" y2="483.8" stroke="#8c8c8c" stroke-width="0.55"/>
<rect x="262.01" y="485.3" width="4.07" height="3.6" fill="#f2695f" stroke="#b04038" stroke-width="0.6"/>
<line x1="262.01" y1="486.9" x2="266.09" y2="486.9" stroke="#9a362f" stroke-width="0.6"/>
<line x1="269.64" y1="475.3" x2="269.64" y2="486.9" stroke="#8c8c8c" stroke-width="0.55"/>
<line x1="268.63" y1="475.3" x2="270.64" y2="475.3" stroke="#8c8c8c" stroke-width="0.55"/>
<line x1="268.63" y1="486.9" x2="270.64" y2="486.9" stroke="#8c8c8c" stroke-width="0.55"/>
<rect x="267.6" y="478.7" width="4.07" height="5.9" fill="#22b8c4" stroke="#107680" stroke-width="0.6"/>
<line x1="267.6" y1="481.5" x2="271.68" y2="481.5" stroke="#0f5f66" stroke-width="0.6"/>
<line x1="274.21" y1="484.6" x2="274.21" y2="495.4" stroke="#8c8c8c" stroke-width="0.55"/>
<line x1="273.21" y1="484.6" x2="275.22" y2="484.6" stroke="#8c8c8c" stroke-width="0.55"/>
<line x1="273.21" y1="495.4" x2="275.22" y2="495.4" stroke="#8c8c8c" stroke-width="0.55"/>
<rect x="272.18" y="486.9" width="4.07" height="3.5" fill="#f2695f" stroke="#b04038" stroke-width="0.6"/>
<line x1="272.18" y1="488.4" x2="276.25" y2="488.4" stroke="#9a362f" stroke-width="0.6"/>
<line x1="279.8" y1="481.1" x2="279.8" y2="490.7" stroke="#8c8c8c" stroke-width="0.55"/>
<line x1="278.79" y1="481.1" x2="280.81" y2="481.1" stroke="#8c8c8c" stroke-width="0.55"/>
<line x1="278.79" y1="490.7" x2="280.81" y2="490.7" stroke="#8c8c8c" stroke-width="0.55"/>
<rect x="277.76" y="484.2" width="4.07" height="4.2" fill="#22b8c4" stroke="#107680" stroke-width="0.6"/>
<line x1="277.76" y1="486.1" x2="281.84" y2="486.1" stroke="#0f5f66" stroke-width="0.6"/>
<line x1="284.37" y1="489.2" x2="284.37" y2="498.4" stroke="#8c8c8c" stroke-width="0.55"/>
<line x1="283.37" y1="489.2" x2="285.38" y2="489.2" stroke="#8c8c8c" stroke-width="0.55"/>
<line x1="283.37" y1="498.4" x2="285.38" y2="498.4" stroke="#8c8c8c" stroke-width="0.55"/>
<rect x="282.34" y="490.7" width="4.07" height="5.9" fill="#f2695f" stroke="#b04038" stroke-width="0.6"/>
<line x1="282.34" y1="493.5" x2="286.41" y2="493.5" stroke="#9a362f" stroke-width="0.6"/>
<line x1="289.96" y1="475.3" x2="289.96" y2="481.8" stroke="#8c8c8c" stroke-width="0.55"/>
<line x1="288.96" y1="475.3" x2="290.97" y2="475.3" stroke="#8c8c8c" stroke-width="0.55"/>
<line x1="288.96" y1="481.8" x2="290.97" y2="481.8" stroke="#8c8c8c" stroke-width="0.55"/>
<rect x="287.93" y="476.8" width="4.07" height="3.9" fill="#22b8c4" stroke="#107680" stroke-width="0.6"/>
<line x1="287.93" y1="478.7" x2="292" y2="478.7" stroke="#0f5f66" stroke-width="0.6"/>
<line x1="294.54" y1="480.2" x2="294.54" y2="482.2" stroke="#8c8c8c" stroke-width="0.55"/>
<rect x="292.5" y="480.7" width="4.07" height="1.1" fill="#f2695f" stroke="#b04038" stroke-width="0.6"/>
<line x1="292.5" y1="481.2" x2="296.57" y2="481.2" stroke="#9a362f" stroke-width="0.6"/>
<line x1="300.13" y1="475.3" x2="300.13" y2="483.8" stroke="#8c8c8c" stroke-width="0.55"/>
<line x1="299.12" y1="475.3" x2="301.13" y2="475.3" stroke="#8c8c8c" stroke-width="0.55"/>
<line x1="299.12" y1="483.8" x2="301.13" y2="483.8" stroke="#8c8c8c" stroke-width="0.55"/>
<rect x="298.09" y="478.7" width="4.07" height="3.5" fill="#22b8c4" stroke="#107680" stroke-width="0.6"/>
<line x1="298.09" y1="480.2" x2="302.16" y2="480.2" stroke="#0f5f66" stroke-width="0.6"/>
<line x1="304.7" y1="484.6" x2="304.7" y2="495.4" stroke="#8c8c8c" stroke-width="0.55"/>
<line x1="303.69" y1="484.6" x2="305.71" y2="484.6" stroke="#8c8c8c" stroke-width="0.55"/>
<line x1="303.69" y1="495.4" x2="305.71" y2="495.4" stroke="#8c8c8c" stroke-width="0.55"/>
<rect x="302.66" y="488" width="4.07" height="3" fill="#f2695f" stroke="#b04038" stroke-width="0.6"/>
<line x1="302.66" y1="489.5" x2="306.74" y2="489.5" stroke="#9a362f" stroke-width="0.6"/>
<line x1="310.29" y1="473.7" x2="310.29" y2="481.1" stroke="#8c8c8c" stroke-width="0.55"/>
<line x1="309.28" y1="473.7" x2="311.29" y2="473.7" stroke="#8c8c8c" stroke-width="0.55"/>
<line x1="309.28" y1="481.1" x2="311.29" y2="481.1" stroke="#8c8c8c" stroke-width="0.55"/>
<rect x="308.25" y="475.3" width="4.07" height="4.3" fill="#22b8c4" stroke="#107680" stroke-width="0.6"/>
<line x1="308.25" y1="477.1" x2="312.32" y2="477.1" stroke="#0f5f66" stroke-width="0.6"/>
<line x1="314.86" y1="479.1" x2="314.86" y2="481.1" stroke="#8c8c8c" stroke-width="0.55"/>
<rect x="312.82" y="479.1" width="4.07" height="2" fill="#f2695f" stroke="#b04038" stroke-width="0.6"/>
<line x1="312.82" y1="480.1" x2="316.9" y2="480.1" stroke="#9a362f" stroke-width="0.6"/>
<line x1="320.45" y1="476" x2="320.45" y2="486.1" stroke="#8c8c8c" stroke-width="0.55"/>
<line x1="319.44" y1="476" x2="321.46" y2="476" stroke="#8c8c8c" stroke-width="0.55"/>
<line x1="319.44" y1="486.1" x2="321.46" y2="486.1" stroke="#8c8c8c" stroke-width="0.55"/>
<rect x="318.41" y="480.7" width="4.07" height="4.2" fill="#22b8c4" stroke="#107680" stroke-width="0.6"/>
<line x1="318.41" y1="482.7" x2="322.49" y2="482.7" stroke="#0f5f66" stroke-width="0.6"/>
<line x1="325.02" y1="485.3" x2="325.02" y2="495.4" stroke="#8c8c8c" stroke-width="0.55"/>
<line x1="324.02" y1="485.3" x2="326.03" y2="485.3" stroke="#8c8c8c" stroke-width="0.55"/>
<line x1="324.02" y1="495.4" x2="326.03" y2="495.4" stroke="#8c8c8c" stroke-width="0.55"/>
<rect x="322.99" y="489.2" width="4.07" height="3.4" fill="#f2695f" stroke="#b04038" stroke-width="0.6"/>
<line x1="322.99" y1="491" x2="327.06" y2="491" stroke="#9a362f" stroke-width="0.6"/>
<line x1="330.61" y1="454.4" x2="330.61" y2="472.5" stroke="#8c8c8c" stroke-width="0.55"/>
<line x1="329.61" y1="454.4" x2="331.62" y2="454.4" stroke="#8c8c8c" stroke-width="0.55"/>
<line x1="329.61" y1="472.5" x2="331.62" y2="472.5" stroke="#8c8c8c" stroke-width="0.55"/>
<rect x="328.58" y="459.5" width="4.07" height="3.1" fill="#22b8c4" stroke="#107680" stroke-width="0.6"/>
<line x1="328.58" y1="461" x2="332.65" y2="461" stroke="#0f5f66" stroke-width="0.6"/>
<line x1="335.19" y1="457.5" x2="335.19" y2="489.5" stroke="#8c8c8c" stroke-width="0.55"/>
<line x1="334.18" y1="457.5" x2="336.19" y2="457.5" stroke="#8c8c8c" stroke-width="0.55"/>
<line x1="334.18" y1="489.5" x2="336.19" y2="489.5" stroke="#8c8c8c" stroke-width="0.55"/>
<rect x="333.15" y="467.9" width="4.07" height="5.8" fill="#f2695f" stroke="#b04038" stroke-width="0.6"/>
<line x1="333.15" y1="471.4" x2="337.22" y2="471.4" stroke="#9a362f" stroke-width="0.6"/>
<path d="M244.4,514.4 V440.1 H339.4 V514.4 M243.9,514.4 H339.9" fill="none" stroke="#2b2b2b" stroke-width="0.95"/>
<line x1="241.4" y1="440.1" x2="244.4" y2="440.1" stroke="#2b2b2b" stroke-width="0.9"/>
<text transform="translate(240.4,442.35) scale(0.85,1)" class="tk" text-anchor="end">15</text>
<line x1="241.4" y1="464.87" x2="244.4" y2="464.87" stroke="#2b2b2b" stroke-width="0.9"/>
<text transform="translate(240.4,467.12) scale(0.85,1)" class="tk" text-anchor="end">10</text>
<line x1="241.4" y1="489.63" x2="244.4" y2="489.63" stroke="#2b2b2b" stroke-width="0.9"/>
<text transform="translate(240.4,491.88) scale(0.85,1)" class="tk" text-anchor="end">5</text>
<line x1="241.4" y1="514.4" x2="244.4" y2="514.4" stroke="#2b2b2b" stroke-width="0.9"/>
<text transform="translate(240.4,516.65) scale(0.85,1)" class="tk" text-anchor="end">0</text>
<line x1="251.6" y1="514.4" x2="251.6" y2="517.4" stroke="#2b2b2b" stroke-width="0.9"/>
<text transform="translate(254.5,522.2) rotate(-45)" class="xl" text-anchor="end">GSE10971</text>
<line x1="261.76" y1="514.4" x2="261.76" y2="517.4" stroke="#2b2b2b" stroke-width="0.9"/>
<text transform="translate(264.66,522.2) rotate(-45)" class="xl" text-anchor="end">GSE14407</text>
<line x1="271.93" y1="514.4" x2="271.93" y2="517.4" stroke="#2b2b2b" stroke-width="0.9"/>
<text transform="translate(274.82,522.2) rotate(-45)" class="xl" text-anchor="end">GSE18520</text>
<line x1="282.09" y1="514.4" x2="282.09" y2="517.4" stroke="#2b2b2b" stroke-width="0.9"/>
<text transform="translate(284.99,522.2) rotate(-45)" class="xl" text-anchor="end">GSE29450</text>
<line x1="292.25" y1="514.4" x2="292.25" y2="517.4" stroke="#2b2b2b" stroke-width="0.9"/>
<text transform="translate(295.15,522.2) rotate(-45)" class="xl" text-anchor="end">GSE38666</text>
<line x1="302.41" y1="514.4" x2="302.41" y2="517.4" stroke="#2b2b2b" stroke-width="0.9"/>
<text transform="translate(305.31,522.2) rotate(-45)" class="xl" text-anchor="end">GSE40595</text>
<line x1="312.57" y1="514.4" x2="312.57" y2="517.4" stroke="#2b2b2b" stroke-width="0.9"/>
<text transform="translate(315.47,522.2) rotate(-45)" class="xl" text-anchor="end">GSE52037</text>
<line x1="322.74" y1="514.4" x2="322.74" y2="517.4" stroke="#2b2b2b" stroke-width="0.9"/>
<text transform="translate(325.64,522.2) rotate(-45)" class="xl" text-anchor="end">GSE54388</text>
<line x1="332.9" y1="514.4" x2="332.9" y2="517.4" stroke="#2b2b2b" stroke-width="0.9"/>
<text transform="translate(335.8,522.2) rotate(-45)" class="xl" text-anchor="end">GEPIA</text>
<text x="292.6" y="436.5" class="tt" text-anchor="middle">ERVK13-1</text>
<line x1="423" y1="440.1" x2="423" y2="514.4" stroke="#d6d6d6" stroke-width="1.3"/>
<line x1="423" y1="440.1" x2="423" y2="514.4" stroke="#aaa" stroke-width="0.7" stroke-dasharray="1,1"/>
<line x1="358.57" y1="477" x2="358.57" y2="485.3" stroke="#8c8c8c" stroke-width="0.55"/>
<line x1="357.46" y1="477" x2="359.68" y2="477" stroke="#8c8c8c" stroke-width="0.55"/>
<rect x="356.29" y="481.1" width="4.56" height="3.5" fill="#22b8c4" stroke="#107680" stroke-width="0.6"/>
<line x1="356.29" y1="482.7" x2="360.85" y2="482.7" stroke="#0f5f66" stroke-width="0.6"/>
<line x1="363.63" y1="482.2" x2="363.63" y2="488.9" stroke="#8c8c8c" stroke-width="0.55"/>
<line x1="362.52" y1="482.2" x2="364.74" y2="482.2" stroke="#8c8c8c" stroke-width="0.55"/>
<line x1="362.52" y1="488.9" x2="364.74" y2="488.9" stroke="#8c8c8c" stroke-width="0.55"/>
<rect x="361.35" y="483.3" width="4.56" height="3.1" fill="#f2695f" stroke="#b04038" stroke-width="0.6"/>
<line x1="361.35" y1="484.9" x2="365.91" y2="484.9" stroke="#9a362f" stroke-width="0.6"/>
<line x1="369.81" y1="475.6" x2="369.81" y2="485.3" stroke="#8c8c8c" stroke-width="0.55"/>
<line x1="368.7" y1="475.6" x2="370.93" y2="475.6" stroke="#8c8c8c" stroke-width="0.55"/>
<line x1="368.7" y1="485.3" x2="370.93" y2="485.3" stroke="#8c8c8c" stroke-width="0.55"/>
<rect x="367.53" y="477.6" width="4.56" height="5.7" fill="#22b8c4" stroke="#107680" stroke-width="0.6"/>
<line x1="367.53" y1="480.2" x2="372.09" y2="480.2" stroke="#0f5f66" stroke-width="0.6"/>
<line x1="374.87" y1="479.9" x2="374.87" y2="491.5" stroke="#8c8c8c" stroke-width="0.55"/>
<line x1="373.76" y1="479.9" x2="375.99" y2="479.9" stroke="#8c8c8c" stroke-width="0.55"/>
<line x1="373.76" y1="491.5" x2="375.99" y2="491.5" stroke="#8c8c8c" stroke-width="0.55"/>
<rect x="372.59" y="486.4" width="4.56" height="3.1" fill="#f2695f" stroke="#b04038" stroke-width="0.6"/>
<line x1="372.59" y1="487.6" x2="377.15" y2="487.6" stroke="#9a362f" stroke-width="0.6"/>
<line x1="381.06" y1="476" x2="381.06" y2="482.2" stroke="#8c8c8c" stroke-width="0.55"/>
<line x1="379.94" y1="476" x2="382.17" y2="476" stroke="#8c8c8c" stroke-width="0.55"/>
<rect x="378.78" y="479.1" width="4.56" height="2.4" fill="#22b8c4" stroke="#107680" stroke-width="0.6"/>
<line x1="378.78" y1="480.2" x2="383.34" y2="480.2" stroke="#0f5f66" stroke-width="0.6"/>
<line x1="386.12" y1="480.7" x2="386.12" y2="486.4" stroke="#8c8c8c" stroke-width="0.55"/>
<line x1="385" y1="480.7" x2="387.23" y2="480.7" stroke="#8c8c8c" stroke-width="0.55"/>
<line x1="385" y1="486.4" x2="387.23" y2="486.4" stroke="#8c8c8c" stroke-width="0.55"/>
<rect x="383.84" y="482.7" width="4.56" height="2.2" fill="#f2695f" stroke="#b04038" stroke-width="0.6"/>
<line x1="383.84" y1="483.8" x2="388.39" y2="483.8" stroke="#9a362f" stroke-width="0.6"/>
<line x1="392.3" y1="476.5" x2="392.3" y2="480.7" stroke="#8c8c8c" stroke-width="0.55"/>
<rect x="390.02" y="476.8" width="4.56" height="3.4" fill="#22b8c4" stroke="#107680" stroke-width="0.6"/>
<line x1="390.02" y1="478.4" x2="394.58" y2="478.4" stroke="#0f5f66" stroke-width="0.6"/>
<line x1="397.36" y1="482.7" x2="397.36" y2="492.3" stroke="#8c8c8c" stroke-width="0.55"/>
<line x1="396.25" y1="482.7" x2="398.47" y2="482.7" stroke="#8c8c8c" stroke-width="0.55"/>
<line x1="396.25" y1="492.3" x2="398.47" y2="492.3" stroke="#8c8c8c" stroke-width="0.55"/>
<rect x="395.08" y="487.3" width="4.56" height="3.1" fill="#f2695f" stroke="#b04038" stroke-width="0.6"/>
<line x1="395.08" y1="488.8" x2="399.64" y2="488.8" stroke="#9a362f" stroke-width="0.6"/>
<line x1="403.54" y1="476.5" x2="403.54" y2="483.8" stroke="#8c8c8c" stroke-width="0.55"/>
<line x1="402.43" y1="476.5" x2="404.65" y2="476.5" stroke="#8c8c8c" stroke-width="0.55"/>
<line x1="402.43" y1="483.8" x2="404.65" y2="483.8" stroke="#8c8c8c" stroke-width="0.55"/>
<rect x="401.26" y="479.6" width="4.56" height="3.1" fill="#22b8c4" stroke="#107680" stroke-width="0.6"/>
<line x1="401.26" y1="480.7" x2="405.82" y2="480.7" stroke="#0f5f66" stroke-width="0.6"/>
<line x1="408.6" y1="481.1" x2="408.6" y2="487.6" stroke="#8c8c8c" stroke-width="0.55"/>
<line x1="407.49" y1="481.1" x2="409.71" y2="481.1" stroke="#8c8c8c" stroke-width="0.55"/>
<line x1="407.49" y1="487.6" x2="409.71" y2="487.6" stroke="#8c8c8c" stroke-width="0.55"/>
<rect x="406.32" y="483.3" width="4.56" height="3.1" fill="#f2695f" stroke="#b04038" stroke-width="0.6"/>
<line x1="406.32" y1="484.9" x2="410.88" y2="484.9" stroke="#9a362f" stroke-width="0.6"/>
<line x1="419.84" y1="486.4" x2="419.84" y2="488.4" stroke="#8a8a8a" stroke-width="0.6"/>
<line x1="418.58" y1="486.4" x2="421.11" y2="486.4" stroke="#8a8a8a" stroke-width="0.6"/>
<line x1="418.58" y1="488.4" x2="421.11" y2="488.4" stroke="#8a8a8a" stroke-width="0.6"/>
<line x1="417.51" y1="487.3" x2="422.17" y2="487.3" stroke="#666" stroke-width="0.8"/>
<line x1="426.03" y1="462.9" x2="426.03" y2="479.1" stroke="#8c8c8c" stroke-width="0.55"/>
<line x1="424.91" y1="462.9" x2="427.14" y2="462.9" stroke="#8c8c8c" stroke-width="0.55"/>
<line x1="424.91" y1="479.1" x2="427.14" y2="479.1" stroke="#8c8c8c" stroke-width="0.55"/>
<rect x="423.75" y="467.9" width="4.56" height="4" fill="#22b8c4" stroke="#107680" stroke-width="0.6"/>
<line x1="423.75" y1="469.9" x2="428.31" y2="469.9" stroke="#0f5f66" stroke-width="0.6"/>
<line x1="431.09" y1="459.8" x2="431.09" y2="493.8" stroke="#8c8c8c" stroke-width="0.55"/>
<line x1="429.97" y1="459.8" x2="432.2" y2="459.8" stroke="#8c8c8c" stroke-width="0.55"/>
<line x1="429.97" y1="493.8" x2="432.2" y2="493.8" stroke="#8c8c8c" stroke-width="0.55"/>
<rect x="428.81" y="469.1" width="4.56" height="6.5" fill="#f2695f" stroke="#b04038" stroke-width="0.6"/>
<line x1="428.81" y1="472.5" x2="433.37" y2="472.5" stroke="#9a362f" stroke-width="0.6"/>
<line x1="437.27" y1="484.2" x2="437.27" y2="488" stroke="#8c8c8c" stroke-width="0.55"/>
<rect x="434.99" y="484.9" width="4.56" height="2.4" fill="#22b8c4" stroke="#107680" stroke-width="0.6"/>
<line x1="434.99" y1="486.1" x2="439.55" y2="486.1" stroke="#0f5f66" stroke-width="0.6"/>
<line x1="442.33" y1="493" x2="442.33" y2="508.5" stroke="#8c8c8c" stroke-width="0.55"/>
<line x1="441.22" y1="508.5" x2="443.44" y2="508.5" stroke="#8c8c8c" stroke-width="0.55"/>
<rect x="440.05" y="493.5" width="4.56" height="11.1" fill="#f2695f" stroke="#b04038" stroke-width="0.6"/>
<line x1="440.05" y1="494" x2="444.61" y2="494" stroke="#9a362f" stroke-width="0.6"/>
<circle cx="397.36" cy="476.5" r="0.7" fill="#333"/>
<path d="M353.4,514.4 V440.1 H448.5 V514.4 M352.9,514.4 H449" fill="none" stroke="#2b2b2b" stroke-width="0.95"/>
<line x1="350.4" y1="440.1" x2="353.4" y2="440.1" stroke="#2b2b2b" stroke-width="0.9"/>
<text transform="translate(349.4,442.35) scale(0.85,1)" class="tk" text-anchor="end">15</text>
<line x1="350.4" y1="464.87" x2="353.4" y2="464.87" stroke="#2b2b2b" stroke-width="0.9"/>
<text transform="translate(349.4,467.12) scale(0.85,1)" class="tk" text-anchor="end">10</text>
<line x1="350.4" y1="489.63" x2="353.4" y2="489.63" stroke="#2b2b2b" stroke-width="0.9"/>
<text transform="translate(349.4,491.88) scale(0.85,1)" class="tk" text-anchor="end">5</text>
<line x1="350.4" y1="514.4" x2="353.4" y2="514.4" stroke="#2b2b2b" stroke-width="0.9"/>
<text transform="translate(349.4,516.65) scale(0.85,1)" class="tk" text-anchor="end">0</text>
<line x1="448.5" y1="440.1" x2="451.5" y2="440.1" stroke="#2b2b2b" stroke-width="0.9"/>
<text transform="translate(452.7,442.35) scale(0.85,1)" class="tk">15</text>
<line x1="448.5" y1="464.87" x2="451.5" y2="464.87" stroke="#2b2b2b" stroke-width="0.9"/>
<text transform="translate(452.7,467.12) scale(0.85,1)" class="tk">10</text>
<line x1="448.5" y1="489.63" x2="451.5" y2="489.63" stroke="#2b2b2b" stroke-width="0.9"/>
<text transform="translate(452.7,491.88) scale(0.85,1)" class="tk">5</text>
<line x1="448.5" y1="514.4" x2="451.5" y2="514.4" stroke="#2b2b2b" stroke-width="0.9"/>
<text transform="translate(452.7,516.65) scale(0.85,1)" class="tk">0</text>
<text transform="translate(460.7,477.25) rotate(90)" class="ax" text-anchor="middle">Log<tspan font-size="4.6" dy="1.6">2</tspan><tspan dy="-1.6"> (Counts + 1)</tspan></text>
<line x1="361.1" y1="514.4" x2="361.1" y2="517.4" stroke="#2b2b2b" stroke-width="0.9"/>
<text transform="translate(364,522.2) rotate(-45)" class="xl" text-anchor="end">GSE14407</text>
<line x1="372.34" y1="514.4" x2="372.34" y2="517.4" stroke="#2b2b2b" stroke-width="0.9"/>
<text transform="translate(375.24,522.2) rotate(-45)" class="xl" text-anchor="end">GSE18520</text>
<line x1="383.59" y1="514.4" x2="383.59" y2="517.4" stroke="#2b2b2b" stroke-width="0.9"/>
<text transform="translate(386.49,522.2) rotate(-45)" class="xl" text-anchor="end">GSE38666</text>
<line x1="394.83" y1="514.4" x2="394.83" y2="517.4" stroke="#2b2b2b" stroke-width="0.9"/>
<text transform="translate(397.73,522.2) rotate(-45)" class="xl" text-anchor="end">GSE40595</text>
<line x1="406.07" y1="514.4" x2="406.07" y2="517.4" stroke="#2b2b2b" stroke-width="0.9"/>
<text transform="translate(408.97,522.2) rotate(-45)" class="xl" text-anchor="end">GSE52037</text>
<line x1="417.31" y1="514.4" x2="417.31" y2="517.4" stroke="#2b2b2b" stroke-width="0.9"/>
<text transform="translate(420.21,522.2) rotate(-45)" class="xl" text-anchor="end">GSE23391</text>
<line x1="428.56" y1="514.4" x2="428.56" y2="517.4" stroke="#2b2b2b" stroke-width="0.9"/>
<text transform="translate(431.46,522.2) rotate(-45)" class="xl" text-anchor="end">GEPIA</text>
<line x1="439.8" y1="514.4" x2="439.8" y2="517.4" stroke="#2b2b2b" stroke-width="0.9"/>
<text transform="translate(442.7,522.2) rotate(-45)" class="xl" text-anchor="end">GSE190688</text>
<text x="401.65" y="436.5" class="tt" text-anchor="middle">CLN8-AS1</text>
</svg></body></html>
